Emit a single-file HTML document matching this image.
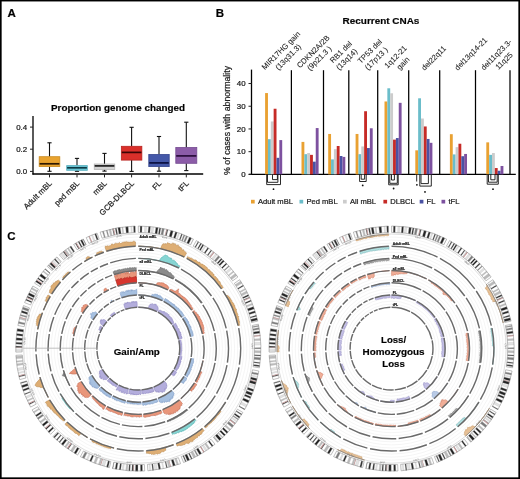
<!DOCTYPE html>
<html><head><meta charset="utf-8"><style>
html,body{margin:0;padding:0;background:#fff;}
svg{display:block;will-change:transform;filter:blur(0.35px);}
text{stroke:#1e1e1e;stroke-width:0.22px;}
svg{font-family:"Liberation Sans",sans-serif;}
</style></head><body>
<svg width="520" height="479" viewBox="0 0 520 479">
<rect width="520" height="479" fill="#fff"/>
<text x="7.50" y="16.90" font-size="11.5" font-weight="bold" text-anchor="start" fill="#000" >A</text>
<text x="215.80" y="16.90" font-size="11.5" font-weight="bold" text-anchor="start" fill="#000" >B</text>
<text x="7.20" y="240.30" font-size="11.5" font-weight="bold" text-anchor="start" fill="#000" >C</text>
<text x="118.00" y="111.00" font-size="9.85" font-weight="bold" text-anchor="middle" fill="#000" >Proportion genome changed</text>
<line x1="33.00" y1="116.10" x2="33.00" y2="174.60" stroke="#000" stroke-width="1.3" />
<line x1="32.40" y1="174.00" x2="203.20" y2="174.00" stroke="#000" stroke-width="1.3" />
<line x1="30.00" y1="127.10" x2="33.00" y2="127.10" stroke="#222" stroke-width="1" />
<text x="27.20" y="129.90" font-size="7.9" text-anchor="end" fill="#111" >0.4</text>
<line x1="30.00" y1="149.20" x2="33.00" y2="149.20" stroke="#222" stroke-width="1" />
<text x="27.20" y="152.00" font-size="7.9" text-anchor="end" fill="#111" >0.2</text>
<line x1="30.00" y1="171.40" x2="33.00" y2="171.40" stroke="#222" stroke-width="1" />
<text x="27.20" y="174.20" font-size="7.9" text-anchor="end" fill="#111" >0.0</text>
<line x1="49.50" y1="142.80" x2="49.50" y2="156.70" stroke="#111" stroke-width="1.1" />
<line x1="49.50" y1="166.60" x2="49.50" y2="171.30" stroke="#111" stroke-width="1.1" />
<line x1="47.40" y1="142.80" x2="51.60" y2="142.80" stroke="#111" stroke-width="1.1" />
<line x1="47.40" y1="171.30" x2="51.60" y2="171.30" stroke="#111" stroke-width="1.1" />
<rect x="39.20" y="156.70" width="20.60" height="9.90" fill="#E9A32F" stroke="#C98A20" stroke-width="0.8"/>
<line x1="39.60" y1="163.80" x2="59.40" y2="163.80" stroke="#2e1800" stroke-width="1.7" />
<line x1="49.50" y1="174.00" x2="49.50" y2="177.40" stroke="#222" stroke-width="1" />
<line x1="77.00" y1="158.40" x2="77.00" y2="165.60" stroke="#111" stroke-width="1.1" />
<line x1="77.00" y1="170.30" x2="77.00" y2="171.30" stroke="#111" stroke-width="1.1" />
<line x1="74.90" y1="158.40" x2="79.10" y2="158.40" stroke="#111" stroke-width="1.1" />
<line x1="74.90" y1="171.30" x2="79.10" y2="171.30" stroke="#111" stroke-width="1.1" />
<rect x="66.70" y="165.60" width="20.60" height="4.70" fill="#6CC8D8" stroke="#56AEBE" stroke-width="0.8"/>
<line x1="67.10" y1="167.80" x2="86.90" y2="167.80" stroke="#0c3a44" stroke-width="1.7" />
<line x1="77.00" y1="174.00" x2="77.00" y2="177.40" stroke="#222" stroke-width="1" />
<line x1="104.50" y1="153.40" x2="104.50" y2="164.00" stroke="#111" stroke-width="1.1" />
<line x1="104.50" y1="169.50" x2="104.50" y2="171.10" stroke="#111" stroke-width="1.1" />
<line x1="102.40" y1="153.40" x2="106.60" y2="153.40" stroke="#111" stroke-width="1.1" />
<line x1="102.40" y1="171.10" x2="106.60" y2="171.10" stroke="#111" stroke-width="1.1" />
<rect x="94.25" y="164.00" width="20.50" height="5.50" fill="#D2D2D2" stroke="#B5B5B5" stroke-width="0.8"/>
<line x1="94.65" y1="165.90" x2="114.35" y2="165.90" stroke="#1e1e1e" stroke-width="1.7" />
<line x1="104.50" y1="174.00" x2="104.50" y2="177.40" stroke="#222" stroke-width="1" />
<line x1="131.60" y1="127.30" x2="131.60" y2="146.30" stroke="#111" stroke-width="1.1" />
<line x1="131.60" y1="160.10" x2="131.60" y2="171.40" stroke="#111" stroke-width="1.1" />
<line x1="129.50" y1="127.30" x2="133.70" y2="127.30" stroke="#111" stroke-width="1.1" />
<line x1="129.50" y1="171.40" x2="133.70" y2="171.40" stroke="#111" stroke-width="1.1" />
<rect x="121.35" y="146.30" width="20.50" height="13.80" fill="#DA2F2A" stroke="#B82420" stroke-width="0.8"/>
<line x1="121.75" y1="152.40" x2="141.45" y2="152.40" stroke="#3a0505" stroke-width="1.7" />
<line x1="131.60" y1="174.00" x2="131.60" y2="177.40" stroke="#222" stroke-width="1" />
<line x1="159.00" y1="136.50" x2="159.00" y2="154.50" stroke="#111" stroke-width="1.1" />
<line x1="159.00" y1="166.60" x2="159.00" y2="171.20" stroke="#111" stroke-width="1.1" />
<line x1="156.90" y1="136.50" x2="161.10" y2="136.50" stroke="#111" stroke-width="1.1" />
<line x1="156.90" y1="171.20" x2="161.10" y2="171.20" stroke="#111" stroke-width="1.1" />
<rect x="148.80" y="154.50" width="20.40" height="12.10" fill="#4458A8" stroke="#33448E" stroke-width="0.8"/>
<line x1="149.20" y1="162.90" x2="168.80" y2="162.90" stroke="#0b1040" stroke-width="1.7" />
<line x1="159.00" y1="174.00" x2="159.00" y2="177.40" stroke="#222" stroke-width="1" />
<line x1="186.30" y1="122.20" x2="186.30" y2="147.50" stroke="#111" stroke-width="1.1" />
<line x1="186.30" y1="163.30" x2="186.30" y2="170.60" stroke="#111" stroke-width="1.1" />
<line x1="184.20" y1="122.20" x2="188.40" y2="122.20" stroke="#111" stroke-width="1.1" />
<line x1="184.20" y1="170.60" x2="188.40" y2="170.60" stroke="#111" stroke-width="1.1" />
<rect x="175.80" y="147.50" width="21.00" height="15.80" fill="#8C5CA8" stroke="#744A90" stroke-width="0.8"/>
<line x1="176.20" y1="155.90" x2="196.40" y2="155.90" stroke="#2a0c3a" stroke-width="1.7" />
<line x1="186.30" y1="174.00" x2="186.30" y2="177.40" stroke="#222" stroke-width="1" />
<text x="0" y="0" font-size="7.9" text-anchor="end" fill="#222" transform="translate(48.50,180.00) rotate(-45) translate(0,5.6)">Adult mBL</text>
<text x="0" y="0" font-size="7.9" text-anchor="end" fill="#222" transform="translate(76.00,180.00) rotate(-45) translate(0,5.6)">ped mBL</text>
<text x="0" y="0" font-size="7.9" text-anchor="end" fill="#222" transform="translate(103.50,180.00) rotate(-45) translate(0,5.6)">mBL</text>
<text x="0" y="0" font-size="7.9" text-anchor="end" fill="#222" transform="translate(130.60,180.00) rotate(-45) translate(0,5.6)">GCB-DLBCL</text>
<text x="0" y="0" font-size="7.9" text-anchor="end" fill="#222" transform="translate(158.00,180.00) rotate(-45) translate(0,5.6)">FL</text>
<text x="0" y="0" font-size="7.9" text-anchor="end" fill="#222" transform="translate(185.30,180.00) rotate(-45) translate(0,5.6)">tFL</text>
<text x="381.00" y="24.20" font-size="9.95" font-weight="bold" text-anchor="middle" fill="#000" >Recurrent CNAs</text>
<line x1="251.50" y1="69.60" x2="251.50" y2="175.00" stroke="#000" stroke-width="1.3" />
<line x1="248.80" y1="174.40" x2="515.80" y2="174.40" stroke="#000" stroke-width="1.3" />
<line x1="248.50" y1="174.40" x2="251.50" y2="174.40" stroke="#222" stroke-width="1" />
<text x="245.60" y="177.20" font-size="7.9" text-anchor="end" fill="#111" >0</text>
<line x1="248.50" y1="151.68" x2="251.50" y2="151.68" stroke="#222" stroke-width="1" />
<text x="245.60" y="154.48" font-size="7.9" text-anchor="end" fill="#111" >10</text>
<line x1="248.50" y1="128.96" x2="251.50" y2="128.96" stroke="#222" stroke-width="1" />
<text x="245.60" y="131.76" font-size="7.9" text-anchor="end" fill="#111" >20</text>
<line x1="248.50" y1="106.24" x2="251.50" y2="106.24" stroke="#222" stroke-width="1" />
<text x="245.60" y="109.04" font-size="7.9" text-anchor="end" fill="#111" >30</text>
<line x1="248.50" y1="83.52" x2="251.50" y2="83.52" stroke="#222" stroke-width="1" />
<text x="245.60" y="86.32" font-size="7.9" text-anchor="end" fill="#111" >40</text>
<text x="0" y="0" font-size="8.8" text-anchor="middle" fill="#222" transform="translate(229.6,120.4) rotate(-90)">% of cases with abnormality</text>
<line x1="291.40" y1="70.20" x2="291.40" y2="174.40" stroke="#000" stroke-width="1.25" />
<line x1="323.50" y1="70.20" x2="323.50" y2="174.40" stroke="#000" stroke-width="1.25" />
<line x1="348.80" y1="70.20" x2="348.80" y2="174.40" stroke="#000" stroke-width="1.25" />
<line x1="377.70" y1="70.20" x2="377.70" y2="174.40" stroke="#000" stroke-width="1.25" />
<line x1="408.70" y1="70.20" x2="408.70" y2="174.40" stroke="#000" stroke-width="1.25" />
<line x1="439.70" y1="70.20" x2="439.70" y2="174.40" stroke="#000" stroke-width="1.25" />
<line x1="475.50" y1="70.20" x2="475.50" y2="174.40" stroke="#000" stroke-width="1.25" />
<line x1="510.00" y1="70.20" x2="510.00" y2="174.40" stroke="#000" stroke-width="1.25" />
<rect x="265.10" y="93.06" width="2.85" height="81.34" fill="#E9A132" stroke="none" stroke-width="0"/>
<rect x="267.95" y="139.18" width="2.85" height="35.22" fill="#6BBDCA" stroke="none" stroke-width="0"/>
<rect x="270.80" y="121.46" width="2.85" height="52.94" fill="#CCCCCC" stroke="none" stroke-width="0"/>
<rect x="273.65" y="108.74" width="2.85" height="65.66" fill="#C62B27" stroke="none" stroke-width="0"/>
<rect x="276.50" y="157.81" width="2.85" height="16.59" fill="#4A52A3" stroke="none" stroke-width="0"/>
<rect x="279.35" y="140.09" width="2.85" height="34.31" fill="#7D519F" stroke="none" stroke-width="0"/>
<rect x="301.50" y="141.91" width="2.85" height="32.49" fill="#E9A132" stroke="none" stroke-width="0"/>
<rect x="304.35" y="154.18" width="2.85" height="20.22" fill="#6BBDCA" stroke="none" stroke-width="0"/>
<rect x="307.20" y="153.04" width="2.85" height="21.36" fill="#CCCCCC" stroke="none" stroke-width="0"/>
<rect x="310.05" y="154.86" width="2.85" height="19.54" fill="#C62B27" stroke="none" stroke-width="0"/>
<rect x="312.90" y="161.68" width="2.85" height="12.72" fill="#4A52A3" stroke="none" stroke-width="0"/>
<rect x="315.75" y="128.05" width="2.85" height="46.35" fill="#7D519F" stroke="none" stroke-width="0"/>
<rect x="328.20" y="133.96" width="2.85" height="40.44" fill="#E9A132" stroke="none" stroke-width="0"/>
<rect x="331.05" y="159.40" width="2.85" height="15.00" fill="#6BBDCA" stroke="none" stroke-width="0"/>
<rect x="333.90" y="149.18" width="2.85" height="25.22" fill="#CCCCCC" stroke="none" stroke-width="0"/>
<rect x="336.75" y="146.00" width="2.85" height="28.40" fill="#C62B27" stroke="none" stroke-width="0"/>
<rect x="339.60" y="156.00" width="2.85" height="18.40" fill="#4A52A3" stroke="none" stroke-width="0"/>
<rect x="342.45" y="156.91" width="2.85" height="17.49" fill="#7D519F" stroke="none" stroke-width="0"/>
<rect x="355.60" y="133.96" width="2.85" height="40.44" fill="#E9A132" stroke="none" stroke-width="0"/>
<rect x="358.45" y="154.18" width="2.85" height="20.22" fill="#6BBDCA" stroke="none" stroke-width="0"/>
<rect x="361.30" y="146.45" width="2.85" height="27.95" fill="#CCCCCC" stroke="none" stroke-width="0"/>
<rect x="364.15" y="111.24" width="2.85" height="63.16" fill="#C62B27" stroke="none" stroke-width="0"/>
<rect x="367.00" y="148.04" width="2.85" height="26.36" fill="#4A52A3" stroke="none" stroke-width="0"/>
<rect x="369.85" y="128.28" width="2.85" height="46.12" fill="#7D519F" stroke="none" stroke-width="0"/>
<rect x="384.50" y="101.47" width="2.85" height="72.93" fill="#E9A132" stroke="none" stroke-width="0"/>
<rect x="387.35" y="88.29" width="2.85" height="86.11" fill="#6BBDCA" stroke="none" stroke-width="0"/>
<rect x="390.20" y="93.29" width="2.85" height="81.11" fill="#CCCCCC" stroke="none" stroke-width="0"/>
<rect x="393.05" y="139.64" width="2.85" height="34.76" fill="#C62B27" stroke="none" stroke-width="0"/>
<rect x="395.90" y="138.05" width="2.85" height="36.35" fill="#4A52A3" stroke="none" stroke-width="0"/>
<rect x="398.75" y="102.83" width="2.85" height="71.57" fill="#7D519F" stroke="none" stroke-width="0"/>
<rect x="415.30" y="150.32" width="2.85" height="24.08" fill="#E9A132" stroke="none" stroke-width="0"/>
<rect x="418.15" y="98.29" width="2.85" height="76.11" fill="#6BBDCA" stroke="none" stroke-width="0"/>
<rect x="421.00" y="118.51" width="2.85" height="55.89" fill="#CCCCCC" stroke="none" stroke-width="0"/>
<rect x="423.85" y="126.46" width="2.85" height="47.94" fill="#C62B27" stroke="none" stroke-width="0"/>
<rect x="426.70" y="138.96" width="2.85" height="35.44" fill="#4A52A3" stroke="none" stroke-width="0"/>
<rect x="429.55" y="142.82" width="2.85" height="31.58" fill="#7D519F" stroke="none" stroke-width="0"/>
<rect x="449.90" y="134.19" width="2.85" height="40.21" fill="#E9A132" stroke="none" stroke-width="0"/>
<rect x="452.75" y="154.41" width="2.85" height="19.99" fill="#6BBDCA" stroke="none" stroke-width="0"/>
<rect x="455.60" y="147.14" width="2.85" height="27.26" fill="#CCCCCC" stroke="none" stroke-width="0"/>
<rect x="458.45" y="143.73" width="2.85" height="30.67" fill="#C62B27" stroke="none" stroke-width="0"/>
<rect x="461.30" y="156.22" width="2.85" height="18.18" fill="#4A52A3" stroke="none" stroke-width="0"/>
<rect x="464.15" y="153.95" width="2.85" height="20.45" fill="#7D519F" stroke="none" stroke-width="0"/>
<rect x="486.30" y="142.36" width="2.85" height="32.04" fill="#E9A132" stroke="none" stroke-width="0"/>
<rect x="489.15" y="154.86" width="2.85" height="19.54" fill="#6BBDCA" stroke="none" stroke-width="0"/>
<rect x="492.00" y="153.04" width="2.85" height="21.36" fill="#CCCCCC" stroke="none" stroke-width="0"/>
<rect x="494.85" y="168.04" width="2.85" height="6.36" fill="#C62B27" stroke="none" stroke-width="0"/>
<rect x="497.70" y="170.76" width="2.85" height="3.64" fill="#4A52A3" stroke="none" stroke-width="0"/>
<rect x="500.55" y="165.99" width="2.85" height="8.41" fill="#7D519F" stroke="none" stroke-width="0"/>
<path d="M266.70,174.4 V184.60 H280.50 V174.4" fill="none" stroke="#111" stroke-width="0.9"/>
<path d="M267.50,174.4 V182.30 H277.90 V174.4" fill="none" stroke="#111" stroke-width="0.9"/>
<path d="M272.50,174.4 V179.60 H277.40 V174.4" fill="none" stroke="#111" stroke-width="0.9"/>
<circle cx="273.50" cy="189.20" r="0.9" fill="#111"/>
<path d="M359.60,174.4 V181.50 H366.20 V174.4" fill="none" stroke="#111" stroke-width="0.9"/>
<path d="M361.20,174.4 V179.20 H364.60 V174.4" fill="none" stroke="#111" stroke-width="0.9"/>
<circle cx="362.70" cy="185.40" r="0.9" fill="#111"/>
<path d="M388.70,174.4 V184.80 H398.20 V174.4" fill="none" stroke="#111" stroke-width="0.9"/>
<path d="M389.80,174.4 V183.30 H397.30 V174.4" fill="none" stroke="#111" stroke-width="0.9"/>
<path d="M391.50,174.4 V180.00 H394.40 V174.4" fill="none" stroke="#111" stroke-width="0.9"/>
<circle cx="393.60" cy="188.50" r="0.9" fill="#111"/>
<line x1="416.70" y1="174.40" x2="416.70" y2="181.50" stroke="#111" stroke-width="0.9" />
<path d="M419.80,174.4 V186.10 H431.30 V174.4" fill="none" stroke="#111" stroke-width="0.9"/>
<path d="M421.00,174.4 V183.60 H428.40 V174.4" fill="none" stroke="#111" stroke-width="0.9"/>
<circle cx="416.90" cy="184.80" r="0.9" fill="#111"/>
<circle cx="425.00" cy="191.90" r="0.9" fill="#111"/>
<path d="M487.20,174.4 V184.20 H498.30 V174.4" fill="none" stroke="#111" stroke-width="0.9"/>
<path d="M488.50,174.4 V182.20 H497.20 V174.4" fill="none" stroke="#111" stroke-width="0.9"/>
<path d="M490.80,174.4 V179.80 H495.00 V174.4" fill="none" stroke="#111" stroke-width="0.9"/>
<circle cx="493.00" cy="189.20" r="0.9" fill="#111"/>
<rect x="251.00" y="199.80" width="3.70" height="3.70" fill="#E9A132" stroke="none" stroke-width="0"/>
<text x="257.90" y="203.90" font-size="7.6" text-anchor="start" fill="#222" >Adult mBL</text>
<rect x="299.50" y="199.80" width="3.70" height="3.70" fill="#6BBDCA" stroke="none" stroke-width="0"/>
<text x="306.40" y="203.90" font-size="7.6" text-anchor="start" fill="#222" >Ped mBL</text>
<rect x="343.00" y="199.80" width="3.70" height="3.70" fill="#CCCCCC" stroke="none" stroke-width="0"/>
<text x="349.90" y="203.90" font-size="7.6" text-anchor="start" fill="#222" >All mBL</text>
<rect x="383.40" y="199.80" width="3.70" height="3.70" fill="#C62B27" stroke="none" stroke-width="0"/>
<text x="390.30" y="203.90" font-size="7.6" text-anchor="start" fill="#222" >DLBCL</text>
<rect x="419.70" y="199.80" width="3.70" height="3.70" fill="#4A52A3" stroke="none" stroke-width="0"/>
<text x="426.60" y="203.90" font-size="7.6" text-anchor="start" fill="#222" >FL</text>
<rect x="441.50" y="199.80" width="3.70" height="3.70" fill="#7D519F" stroke="none" stroke-width="0"/>
<text x="448.40" y="203.90" font-size="7.6" text-anchor="start" fill="#222" >tFL</text>
<text x="0" y="0" font-size="7.7" text-anchor="middle" fill="#222" style="stroke-width:0.08px" transform="translate(280.75,50.40) rotate(-45) translate(0,2.8)">MIR17HG gain</text>
<text x="0" y="0" font-size="7.7" text-anchor="middle" fill="#222" style="stroke-width:0.08px" transform="translate(288.05,56.90) rotate(-45) translate(0,2.8)">(13q31.3)</text>
<text x="0" y="0" font-size="7.7" text-anchor="middle" fill="#222" style="stroke-width:0.08px" transform="translate(313.05,51.50) rotate(-45) translate(0,2.8)">CDKN2A/2B</text>
<text x="0" y="0" font-size="7.7" text-anchor="middle" fill="#222" style="stroke-width:0.08px" transform="translate(319.20,58.05) rotate(-45) translate(0,2.8)">(9p21.3 )</text>
<text x="0" y="0" font-size="7.7" text-anchor="middle" fill="#222" style="stroke-width:0.08px" transform="translate(340.75,51.95) rotate(-45) translate(0,2.8)">RB1 del</text>
<text x="0" y="0" font-size="7.7" text-anchor="middle" fill="#222" style="stroke-width:0.08px" transform="translate(346.55,59.20) rotate(-45) translate(0,2.8)">(13q14)</text>
<text x="0" y="0" font-size="7.7" text-anchor="middle" fill="#222" style="stroke-width:0.08px" transform="translate(369.65,51.15) rotate(-45) translate(0,2.8)">TP53 del</text>
<text x="0" y="0" font-size="7.7" text-anchor="middle" fill="#222" style="stroke-width:0.08px" transform="translate(376.15,58.45) rotate(-45) translate(0,2.8)">(17p13 )</text>
<text x="0" y="0" font-size="7.7" text-anchor="middle" fill="#222" style="stroke-width:0.08px" transform="translate(395.40,56.75) rotate(-45) translate(0,2.8)">1q12-21</text>
<text x="0" y="0" font-size="7.7" text-anchor="middle" fill="#222" style="stroke-width:0.08px" transform="translate(402.90,63.05) rotate(-45) translate(0,2.8)">gain</text>
<text x="0" y="0" font-size="7.7" text-anchor="middle" fill="#222" style="stroke-width:0.08px" transform="translate(433.45,58.05) rotate(-45) translate(0,2.8)">del22q11</text>
<text x="0" y="0" font-size="7.7" text-anchor="middle" fill="#222" style="stroke-width:0.08px" transform="translate(470.80,53.80) rotate(-45) translate(0,2.8)">del13q14-21</text>
<text x="0" y="0" font-size="7.7" text-anchor="middle" fill="#222" style="stroke-width:0.08px" transform="translate(496.15,54.60) rotate(-45) translate(0,2.8)">del11q23.3-</text>
<text x="0" y="0" font-size="7.7" text-anchor="middle" fill="#222" style="stroke-width:0.08px" transform="translate(503.85,60.75) rotate(-45) translate(0,2.8)">11q25</text>
<defs><g id="ideo">
<circle r="105.4" fill="none" stroke="#ececec" stroke-width="0.55"/>
<circle r="108.5" fill="none" stroke="#ececec" stroke-width="0.55"/>
<circle r="111.6" fill="none" stroke="#ececec" stroke-width="0.55"/>
<circle r="93.2" fill="none" stroke="#ececec" stroke-width="0.55"/>
<circle r="96.3" fill="none" stroke="#ececec" stroke-width="0.55"/>
<circle r="99.4" fill="none" stroke="#ececec" stroke-width="0.55"/>
<circle r="81.0" fill="none" stroke="#ececec" stroke-width="0.55"/>
<circle r="84.1" fill="none" stroke="#ececec" stroke-width="0.55"/>
<circle r="87.2" fill="none" stroke="#ececec" stroke-width="0.55"/>
<circle r="68.8" fill="none" stroke="#ececec" stroke-width="0.55"/>
<circle r="71.9" fill="none" stroke="#ececec" stroke-width="0.55"/>
<circle r="75.0" fill="none" stroke="#ececec" stroke-width="0.55"/>
<circle r="56.6" fill="none" stroke="#ececec" stroke-width="0.55"/>
<circle r="59.7" fill="none" stroke="#ececec" stroke-width="0.55"/>
<circle r="62.8" fill="none" stroke="#ececec" stroke-width="0.55"/>
<circle r="44.4" fill="none" stroke="#ececec" stroke-width="0.55"/>
<circle r="47.5" fill="none" stroke="#ececec" stroke-width="0.55"/>
<circle r="50.6" fill="none" stroke="#ececec" stroke-width="0.55"/>
<circle r="114.6" fill="none" stroke="#c4c4c4" stroke-width="0.6"/>
</g><g id="dark">
<path d="M0.0,-102.4 A102.4,102.4 0 0 1 46.0,-91.5 M48.4,-90.2 A102.4,102.4 0 0 1 83.2,-59.8 M84.7,-57.6 A102.4,102.4 0 0 1 99.8,-23.0 M100.4,-20.4 A102.4,102.4 0 0 1 101.1,16.0 M100.7,18.7 A102.4,102.4 0 0 1 88.8,51.1 M87.4,53.4 A102.4,102.4 0 0 1 66.2,78.2 M64.1,79.9 A102.4,102.4 0 0 1 37.8,95.1 M35.3,96.1 A102.4,102.4 0 0 1 8.0,102.1 M5.4,102.3 A102.4,102.4 0 0 1 -21.5,100.1 M-24.2,99.5 A102.4,102.4 0 0 1 -48.3,90.3 M-50.7,89.0 A102.4,102.4 0 0 1 -71.3,73.5 M-73.2,71.6 A102.4,102.4 0 0 1 -88.7,51.2 M-90.0,48.9 A102.4,102.4 0 0 1 -98.4,28.5 M-99.1,25.9 A102.4,102.4 0 0 1 -102.2,5.6 M-102.4,2.9 A102.4,102.4 0 0 1 -101.0,-16.6 M-100.6,-19.3 A102.4,102.4 0 0 1 -95.9,-35.9 M-94.9,-38.4 A102.4,102.4 0 0 1 -88.0,-52.3 M-86.6,-54.6 A102.4,102.4 0 0 1 -77.7,-66.6 M-76.0,-68.7 A102.4,102.4 0 0 1 -67.9,-76.6 M-65.9,-78.4 A102.4,102.4 0 0 1 -56.2,-85.6 M-54.0,-87.0 A102.4,102.4 0 0 1 -45.9,-91.5 M-43.5,-92.7 A102.4,102.4 0 0 1 -34.4,-96.4 M-31.9,-97.3 A102.4,102.4 0 0 1 -2.7,-102.4 M0.0,-90.2 A90.2,90.2 0 0 1 40.6,-80.6 M42.7,-79.5 A90.2,90.2 0 0 1 73.2,-52.6 M74.6,-50.7 A90.2,90.2 0 0 1 87.9,-20.3 M88.4,-17.9 A90.2,90.2 0 0 1 89.1,14.1 M88.7,16.5 A90.2,90.2 0 0 1 78.2,45.0 M77.0,47.0 A90.2,90.2 0 0 1 58.3,68.8 M56.5,70.3 A90.2,90.2 0 0 1 33.3,83.8 M31.1,84.7 A90.2,90.2 0 0 1 7.1,89.9 M4.7,90.1 A90.2,90.2 0 0 1 -19.0,88.2 M-21.3,87.7 A90.2,90.2 0 0 1 -42.6,79.5 M-44.6,78.4 A90.2,90.2 0 0 1 -62.8,64.7 M-64.5,63.1 A90.2,90.2 0 0 1 -78.1,45.1 M-79.3,43.1 A90.2,90.2 0 0 1 -86.6,25.1 M-87.3,22.8 A90.2,90.2 0 0 1 -90.1,5.0 M-90.2,2.6 A90.2,90.2 0 0 1 -89.0,-14.6 M-88.6,-17.0 A90.2,90.2 0 0 1 -84.5,-31.6 M-83.6,-33.8 A90.2,90.2 0 0 1 -77.5,-46.1 M-76.3,-48.1 A90.2,90.2 0 0 1 -68.5,-58.7 M-66.9,-60.5 A90.2,90.2 0 0 1 -59.8,-67.5 M-58.1,-69.0 A90.2,90.2 0 0 1 -49.5,-75.4 M-47.5,-76.7 A90.2,90.2 0 0 1 -40.5,-80.6 M-38.3,-81.6 A90.2,90.2 0 0 1 -30.3,-84.9 M-28.1,-85.7 A90.2,90.2 0 0 1 -2.4,-90.2 M0.0,-78.0 A78.0,78.0 0 0 1 35.1,-69.7 M36.9,-68.7 A78.0,78.0 0 0 1 63.3,-45.5 M64.5,-43.8 A78.0,78.0 0 0 1 76.0,-17.5 M76.4,-15.5 A78.0,78.0 0 0 1 77.0,12.2 M76.7,14.2 A78.0,78.0 0 0 1 67.6,38.9 M66.6,40.6 A78.0,78.0 0 0 1 50.4,59.5 M48.8,60.8 A78.0,78.0 0 0 1 28.8,72.5 M26.9,73.2 A78.0,78.0 0 0 1 6.1,77.8 M4.1,77.9 A78.0,78.0 0 0 1 -16.4,76.3 M-18.4,75.8 A78.0,78.0 0 0 1 -36.8,68.8 M-38.6,67.8 A78.0,78.0 0 0 1 -54.3,56.0 M-55.8,54.5 A78.0,78.0 0 0 1 -67.5,39.0 M-68.5,37.2 A78.0,78.0 0 0 1 -74.9,21.7 M-75.5,19.7 A78.0,78.0 0 0 1 -77.9,4.3 M-78.0,2.2 A78.0,78.0 0 0 1 -77.0,-12.7 M-76.6,-14.7 A78.0,78.0 0 0 1 -73.0,-27.3 M-72.3,-29.3 A78.0,78.0 0 0 1 -67.0,-39.9 M-66.0,-41.6 A78.0,78.0 0 0 1 -59.2,-50.8 M-57.9,-52.3 A78.0,78.0 0 0 1 -51.7,-58.4 M-50.2,-59.7 A78.0,78.0 0 0 1 -42.8,-65.2 M-41.1,-66.3 A78.0,78.0 0 0 1 -35.0,-69.7 M-33.1,-70.6 A78.0,78.0 0 0 1 -26.2,-73.5 M-24.3,-74.1 A78.0,78.0 0 0 1 -2.0,-78.0 M0.0,-65.8 A65.8,65.8 0 0 1 29.6,-58.8 M31.1,-58.0 A65.8,65.8 0 0 1 53.4,-38.4 M54.4,-37.0 A65.8,65.8 0 0 1 64.1,-14.8 M64.5,-13.1 A65.8,65.8 0 0 1 65.0,10.3 M64.7,12.0 A65.8,65.8 0 0 1 57.0,32.8 M56.2,34.3 A65.8,65.8 0 0 1 42.5,50.2 M41.2,51.3 A65.8,65.8 0 0 1 24.3,61.1 M22.7,61.8 A65.8,65.8 0 0 1 5.2,65.6 M3.4,65.7 A65.8,65.8 0 0 1 -13.8,64.3 M-15.5,63.9 A65.8,65.8 0 0 1 -31.1,58.0 M-32.6,57.2 A65.8,65.8 0 0 1 -45.8,47.2 M-47.0,46.0 A65.8,65.8 0 0 1 -57.0,32.9 M-57.8,31.4 A65.8,65.8 0 0 1 -63.2,18.3 M-63.7,16.7 A65.8,65.8 0 0 1 -65.7,3.6 M-65.8,1.9 A65.8,65.8 0 0 1 -64.9,-10.7 M-64.6,-12.4 A65.8,65.8 0 0 1 -61.6,-23.1 M-61.0,-24.7 A65.8,65.8 0 0 1 -56.6,-33.6 M-55.7,-35.1 A65.8,65.8 0 0 1 -50.0,-42.8 M-48.8,-44.1 A65.8,65.8 0 0 1 -43.7,-49.2 M-42.3,-50.4 A65.8,65.8 0 0 1 -36.1,-55.0 M-34.7,-55.9 A65.8,65.8 0 0 1 -29.5,-58.8 M-28.0,-59.6 A65.8,65.8 0 0 1 -22.1,-62.0 M-20.5,-62.5 A65.8,65.8 0 0 1 -1.7,-65.8 M0.0,-53.6 A53.6,53.6 0 0 1 24.1,-47.9 M25.3,-47.2 A53.6,53.6 0 0 1 43.5,-31.3 M44.3,-30.1 A53.6,53.6 0 0 1 52.2,-12.0 M52.5,-10.7 A53.6,53.6 0 0 1 52.9,8.4 M52.7,9.8 A53.6,53.6 0 0 1 46.5,26.7 M45.7,27.9 A53.6,53.6 0 0 1 34.6,40.9 M33.5,41.8 A53.6,53.6 0 0 1 19.8,49.8 M18.5,50.3 A53.6,53.6 0 0 1 4.2,53.4 M2.8,53.5 A53.6,53.6 0 0 1 -11.3,52.4 M-12.6,52.1 A53.6,53.6 0 0 1 -25.3,47.3 M-26.5,46.6 A53.6,53.6 0 0 1 -37.3,38.5 M-38.3,37.5 A53.6,53.6 0 0 1 -46.4,26.8 M-47.1,25.6 A53.6,53.6 0 0 1 -51.5,14.9 M-51.9,13.6 A53.6,53.6 0 0 1 -53.5,2.9 M-53.6,1.5 A53.6,53.6 0 0 1 -52.9,-8.7 M-52.6,-10.1 A53.6,53.6 0 0 1 -50.2,-18.8 M-49.7,-20.1 A53.6,53.6 0 0 1 -46.1,-27.4 M-45.3,-28.6 A53.6,53.6 0 0 1 -40.7,-34.9 M-39.8,-35.9 A53.6,53.6 0 0 1 -35.6,-40.1 M-34.5,-41.0 A53.6,53.6 0 0 1 -29.4,-44.8 M-28.2,-45.6 A53.6,53.6 0 0 1 -24.0,-47.9 M-22.8,-48.5 A53.6,53.6 0 0 1 -18.0,-50.5 M-16.7,-50.9 A53.6,53.6 0 0 1 -1.4,-53.6 M0.0,-41.4 A41.4,41.4 0 0 1 18.6,-37.0 M19.6,-36.5 A41.4,41.4 0 0 1 33.6,-24.2 M34.2,-23.3 A41.4,41.4 0 0 1 40.3,-9.3 M40.6,-8.2 A41.4,41.4 0 0 1 40.9,6.5 M40.7,7.6 A41.4,41.4 0 0 1 35.9,20.6 M35.3,21.6 A41.4,41.4 0 0 1 26.7,31.6 M25.9,32.3 A41.4,41.4 0 0 1 15.3,38.5 M14.3,38.9 A41.4,41.4 0 0 1 3.2,41.3 M2.2,41.3 A41.4,41.4 0 0 1 -8.7,40.5 M-9.8,40.2 A41.4,41.4 0 0 1 -19.5,36.5 M-20.5,36.0 A41.4,41.4 0 0 1 -28.8,29.7 M-29.6,28.9 A41.4,41.4 0 0 1 -35.9,20.7 M-36.4,19.8 A41.4,41.4 0 0 1 -39.8,11.5 M-40.1,10.5 A41.4,41.4 0 0 1 -41.3,2.3 M-41.4,1.2 A41.4,41.4 0 0 1 -40.9,-6.7 M-40.7,-7.8 A41.4,41.4 0 0 1 -38.8,-14.5 M-38.4,-15.5 A41.4,41.4 0 0 1 -35.6,-21.2 M-35.0,-22.1 A41.4,41.4 0 0 1 -31.4,-26.9 M-30.7,-27.8 A41.4,41.4 0 0 1 -27.5,-31.0 M-26.6,-31.7 A41.4,41.4 0 0 1 -22.7,-34.6 M-21.8,-35.2 A41.4,41.4 0 0 1 -18.6,-37.0 M-17.6,-37.5 A41.4,41.4 0 0 1 -13.9,-39.0 M-12.9,-39.3 A41.4,41.4 0 0 1 -1.1,-41.4" fill="none" stroke="#6a6a6a" stroke-width="1.45"/>
</g><g id="bands">
<path d="M1.8,-122.6 A122.6,122.6 0 0 1 3.8,-122.5 L3.6,-116.1 A116.2,116.2 0 0 0 1.7,-116.2 Z" fill="#222222"/>
<line x1="1.7" y1="-116.2" x2="1.8" y2="-122.6" stroke="#c8c8c8" stroke-width="0.4"/>
<line x1="3.6" y1="-116.1" x2="3.8" y2="-122.5" stroke="#c8c8c8" stroke-width="0.4"/>
<path d="M6.4,-122.4 A122.6,122.6 0 0 1 8.3,-122.3 L7.8,-115.9 A116.2,116.2 0 0 0 6.1,-116.0 Z" fill="#e2e2e2"/>
<line x1="6.1" y1="-116.0" x2="6.4" y2="-122.4" stroke="#c8c8c8" stroke-width="0.4"/>
<line x1="7.8" y1="-115.9" x2="8.3" y2="-122.3" stroke="#c8c8c8" stroke-width="0.4"/>
<path d="M10.2,-122.2 A122.6,122.6 0 0 1 12.2,-122.0 L11.6,-115.6 A116.2,116.2 0 0 0 9.6,-115.8 Z" fill="#222222"/>
<line x1="9.6" y1="-115.8" x2="10.2" y2="-122.2" stroke="#c8c8c8" stroke-width="0.4"/>
<line x1="11.6" y1="-115.6" x2="12.2" y2="-122.0" stroke="#c8c8c8" stroke-width="0.4"/>
<path d="M13.5,-121.9 A122.6,122.6 0 0 1 15.4,-121.6 L14.6,-115.3 A116.2,116.2 0 0 0 12.8,-115.5 Z" fill="#e2e2e2"/>
<line x1="12.8" y1="-115.5" x2="13.5" y2="-121.9" stroke="#c8c8c8" stroke-width="0.4"/>
<line x1="14.6" y1="-115.3" x2="15.4" y2="-121.6" stroke="#c8c8c8" stroke-width="0.4"/>
<path d="M17.5,-121.3 A122.6,122.6 0 0 1 19.9,-121.0 L18.9,-114.7 A116.2,116.2 0 0 0 16.6,-115.0 Z" fill="#222222"/>
<line x1="16.6" y1="-115.0" x2="17.5" y2="-121.3" stroke="#c8c8c8" stroke-width="0.4"/>
<line x1="18.9" y1="-114.7" x2="19.9" y2="-121.0" stroke="#c8c8c8" stroke-width="0.4"/>
<path d="M21.1,-120.8 A122.6,122.6 0 0 1 22.6,-120.5 L21.4,-114.2 A116.2,116.2 0 0 0 20.0,-114.5 Z" fill="#222222"/>
<line x1="20.0" y1="-114.5" x2="21.1" y2="-120.8" stroke="#c8c8c8" stroke-width="0.4"/>
<line x1="21.4" y1="-114.2" x2="22.6" y2="-120.5" stroke="#c8c8c8" stroke-width="0.4"/>
<path d="M23.8,-120.3 A122.6,122.6 0 0 1 26.1,-119.8 L24.8,-113.5 A116.2,116.2 0 0 0 22.5,-114.0 Z" fill="#7a7a7a"/>
<line x1="22.5" y1="-114.0" x2="23.8" y2="-120.3" stroke="#c8c8c8" stroke-width="0.4"/>
<line x1="24.8" y1="-113.5" x2="26.1" y2="-119.8" stroke="#c8c8c8" stroke-width="0.4"/>
<path d="M28.1,-119.3 A122.6,122.6 0 0 1 28.7,-119.2 L27.2,-113.0 A116.2,116.2 0 0 0 26.7,-113.1 Z" fill="#b84a4a"/>
<line x1="26.7" y1="-113.1" x2="28.1" y2="-119.3" stroke="#c8c8c8" stroke-width="0.4"/>
<path d="M28.7,-119.2 A122.6,122.6 0 0 1 29.8,-118.9 L28.2,-112.7 A116.2,116.2 0 0 0 27.2,-113.0 Z" fill="#222222"/>
<line x1="27.2" y1="-113.0" x2="28.7" y2="-119.2" stroke="#c8c8c8" stroke-width="0.4"/>
<line x1="28.2" y1="-112.7" x2="29.8" y2="-118.9" stroke="#c8c8c8" stroke-width="0.4"/>
<path d="M32.4,-118.2 A122.6,122.6 0 0 1 35.0,-117.5 L33.2,-111.4 A116.2,116.2 0 0 0 30.7,-112.1 Z" fill="#222222"/>
<line x1="30.7" y1="-112.1" x2="32.4" y2="-118.2" stroke="#c8c8c8" stroke-width="0.4"/>
<line x1="33.2" y1="-111.4" x2="35.0" y2="-117.5" stroke="#c8c8c8" stroke-width="0.4"/>
<path d="M37.1,-116.9 A122.6,122.6 0 0 1 39.0,-116.2 L37.0,-110.1 A116.2,116.2 0 0 0 35.1,-110.8 Z" fill="#222222"/>
<line x1="35.1" y1="-110.8" x2="37.1" y2="-116.9" stroke="#c8c8c8" stroke-width="0.4"/>
<line x1="37.0" y1="-110.1" x2="39.0" y2="-116.2" stroke="#c8c8c8" stroke-width="0.4"/>
<path d="M40.3,-115.8 A122.6,122.6 0 0 1 41.3,-115.4 L39.1,-109.4 A116.2,116.2 0 0 0 38.2,-109.7 Z" fill="#e2e2e2"/>
<line x1="38.2" y1="-109.7" x2="40.3" y2="-115.8" stroke="#c8c8c8" stroke-width="0.4"/>
<line x1="39.1" y1="-109.4" x2="41.3" y2="-115.4" stroke="#c8c8c8" stroke-width="0.4"/>
<path d="M43.1,-114.8 A122.6,122.6 0 0 1 44.2,-114.4 L41.9,-108.4 A116.2,116.2 0 0 0 40.9,-108.8 Z" fill="#222222"/>
<line x1="40.9" y1="-108.8" x2="43.1" y2="-114.8" stroke="#c8c8c8" stroke-width="0.4"/>
<line x1="41.9" y1="-108.4" x2="44.2" y2="-114.4" stroke="#c8c8c8" stroke-width="0.4"/>
<path d="M45.4,-113.9 A122.6,122.6 0 0 1 46.8,-113.3 L44.3,-107.4 A116.2,116.2 0 0 0 43.1,-107.9 Z" fill="#7a7a7a"/>
<line x1="43.1" y1="-107.9" x2="45.4" y2="-113.9" stroke="#c8c8c8" stroke-width="0.4"/>
<line x1="44.3" y1="-107.4" x2="46.8" y2="-113.3" stroke="#c8c8c8" stroke-width="0.4"/>
<path d="M47.8,-112.9 A122.6,122.6 0 0 1 49.5,-112.2 L46.9,-106.3 A116.2,116.2 0 0 0 45.3,-107.0 Z" fill="#7a7a7a"/>
<line x1="45.3" y1="-107.0" x2="47.8" y2="-112.9" stroke="#c8c8c8" stroke-width="0.4"/>
<line x1="46.9" y1="-106.3" x2="49.5" y2="-112.2" stroke="#c8c8c8" stroke-width="0.4"/>
<path d="M51.1,-111.5 A122.6,122.6 0 0 1 53.3,-110.4 L50.5,-104.6 A116.2,116.2 0 0 0 48.4,-105.6 Z" fill="#222222"/>
<line x1="48.4" y1="-105.6" x2="51.1" y2="-111.5" stroke="#c8c8c8" stroke-width="0.4"/>
<line x1="50.5" y1="-104.6" x2="53.3" y2="-110.4" stroke="#c8c8c8" stroke-width="0.4"/>
<path d="M55.1,-109.5 A122.6,122.6 0 0 1 55.1,-109.5 L52.3,-103.8 A116.2,116.2 0 0 0 52.2,-103.8 Z" fill="#b9b9b9"/>
<line x1="52.2" y1="-103.8" x2="55.1" y2="-109.5" stroke="#c8c8c8" stroke-width="0.4"/>
<path d="M0.0,-122.6 A122.6,122.6 0 0 1 55.1,-109.5 L52.3,-103.8 A116.2,116.2 0 0 0 0.0,-116.2 Z" fill="none" stroke="#8a8a8a" stroke-width="0.55"/>
<text x="0" y="0" font-size="2.8" fill="#777" text-anchor="middle" style="stroke-width:0" transform="translate(26.2,-110.1) rotate(13.4)">chr1</text>
<path d="M59.7,-107.1 A122.6,122.6 0 0 1 60.6,-106.6 L57.4,-101.0 A116.2,116.2 0 0 0 56.5,-101.5 Z" fill="#222222"/>
<line x1="56.5" y1="-101.5" x2="59.7" y2="-107.1" stroke="#c8c8c8" stroke-width="0.4"/>
<line x1="57.4" y1="-101.0" x2="60.6" y2="-106.6" stroke="#c8c8c8" stroke-width="0.4"/>
<path d="M62.3,-105.6 A122.6,122.6 0 0 1 63.4,-104.9 L60.1,-99.5 A116.2,116.2 0 0 0 59.1,-100.1 Z" fill="#222222"/>
<line x1="59.1" y1="-100.1" x2="62.3" y2="-105.6" stroke="#c8c8c8" stroke-width="0.4"/>
<line x1="60.1" y1="-99.5" x2="63.4" y2="-104.9" stroke="#c8c8c8" stroke-width="0.4"/>
<path d="M64.4,-104.3 A122.6,122.6 0 0 1 65.7,-103.5 L62.3,-98.1 A116.2,116.2 0 0 0 61.1,-98.9 Z" fill="#222222"/>
<line x1="61.1" y1="-98.9" x2="64.4" y2="-104.3" stroke="#c8c8c8" stroke-width="0.4"/>
<line x1="62.3" y1="-98.1" x2="65.7" y2="-103.5" stroke="#c8c8c8" stroke-width="0.4"/>
<path d="M66.7,-102.9 A122.6,122.6 0 0 1 67.6,-102.3 L64.0,-97.0 A116.2,116.2 0 0 0 63.2,-97.5 Z" fill="#e2e2e2"/>
<line x1="63.2" y1="-97.5" x2="66.7" y2="-102.9" stroke="#c8c8c8" stroke-width="0.4"/>
<line x1="64.0" y1="-97.0" x2="67.6" y2="-102.3" stroke="#c8c8c8" stroke-width="0.4"/>
<path d="M69.4,-101.1 A122.6,122.6 0 0 1 70.6,-100.3 L66.9,-95.0 A116.2,116.2 0 0 0 65.8,-95.8 Z" fill="#222222"/>
<line x1="65.8" y1="-95.8" x2="69.4" y2="-101.1" stroke="#c8c8c8" stroke-width="0.4"/>
<line x1="66.9" y1="-95.0" x2="70.6" y2="-100.3" stroke="#c8c8c8" stroke-width="0.4"/>
<path d="M72.7,-98.7 A122.6,122.6 0 0 1 73.6,-98.1 L69.7,-92.9 A116.2,116.2 0 0 0 68.9,-93.6 Z" fill="#222222"/>
<line x1="68.9" y1="-93.6" x2="72.7" y2="-98.7" stroke="#c8c8c8" stroke-width="0.4"/>
<line x1="69.7" y1="-92.9" x2="73.6" y2="-98.1" stroke="#c8c8c8" stroke-width="0.4"/>
<path d="M74.9,-97.0 A122.6,122.6 0 0 1 75.6,-96.5 L71.7,-91.5 A116.2,116.2 0 0 0 71.0,-92.0 Z" fill="#b9b9b9"/>
<line x1="71.0" y1="-92.0" x2="74.9" y2="-97.0" stroke="#c8c8c8" stroke-width="0.4"/>
<path d="M75.6,-96.5 A122.6,122.6 0 0 1 76.1,-96.1 L72.1,-91.1 A116.2,116.2 0 0 0 71.7,-91.5 Z" fill="#b84a4a"/>
<line x1="71.7" y1="-91.5" x2="75.6" y2="-96.5" stroke="#c8c8c8" stroke-width="0.4"/>
<line x1="72.1" y1="-91.1" x2="76.1" y2="-96.1" stroke="#c8c8c8" stroke-width="0.4"/>
<path d="M77.5,-95.0 A122.6,122.6 0 0 1 79.0,-93.8 L74.9,-88.9 A116.2,116.2 0 0 0 73.4,-90.1 Z" fill="#e2e2e2"/>
<line x1="73.4" y1="-90.1" x2="77.5" y2="-95.0" stroke="#c8c8c8" stroke-width="0.4"/>
<line x1="74.9" y1="-88.9" x2="79.0" y2="-93.8" stroke="#c8c8c8" stroke-width="0.4"/>
<path d="M80.0,-92.9 A122.6,122.6 0 0 1 81.7,-91.4 L77.4,-86.6 A116.2,116.2 0 0 0 75.9,-88.0 Z" fill="#7a7a7a"/>
<line x1="75.9" y1="-88.0" x2="80.0" y2="-92.9" stroke="#c8c8c8" stroke-width="0.4"/>
<line x1="77.4" y1="-86.6" x2="81.7" y2="-91.4" stroke="#c8c8c8" stroke-width="0.4"/>
<path d="M82.9,-90.3 A122.6,122.6 0 0 1 84.0,-89.3 L79.7,-84.6 A116.2,116.2 0 0 0 78.6,-85.6 Z" fill="#222222"/>
<line x1="78.6" y1="-85.6" x2="82.9" y2="-90.3" stroke="#c8c8c8" stroke-width="0.4"/>
<line x1="79.7" y1="-84.6" x2="84.0" y2="-89.3" stroke="#c8c8c8" stroke-width="0.4"/>
<path d="M84.8,-88.5 A122.6,122.6 0 0 1 86.1,-87.3 L81.6,-82.8 A116.2,116.2 0 0 0 80.4,-83.9 Z" fill="#222222"/>
<line x1="80.4" y1="-83.9" x2="84.8" y2="-88.5" stroke="#c8c8c8" stroke-width="0.4"/>
<line x1="81.6" y1="-82.8" x2="86.1" y2="-87.3" stroke="#c8c8c8" stroke-width="0.4"/>
<path d="M87.9,-85.5 A122.6,122.6 0 0 1 88.8,-84.6 L84.1,-80.1 A116.2,116.2 0 0 0 83.3,-81.0 Z" fill="#222222"/>
<line x1="83.3" y1="-81.0" x2="87.9" y2="-85.5" stroke="#c8c8c8" stroke-width="0.4"/>
<line x1="84.1" y1="-80.1" x2="88.8" y2="-84.6" stroke="#c8c8c8" stroke-width="0.4"/>
<path d="M90.3,-82.9 A122.6,122.6 0 0 1 91.0,-82.1 L86.3,-77.8 A116.2,116.2 0 0 0 85.6,-78.6 Z" fill="#7a7a7a"/>
<line x1="85.6" y1="-78.6" x2="90.3" y2="-82.9" stroke="#c8c8c8" stroke-width="0.4"/>
<line x1="86.3" y1="-77.8" x2="91.0" y2="-82.1" stroke="#c8c8c8" stroke-width="0.4"/>
<path d="M92.2,-80.8 A122.6,122.6 0 0 1 93.5,-79.3 L88.6,-75.2 A116.2,116.2 0 0 0 87.4,-76.5 Z" fill="#e2e2e2"/>
<line x1="87.4" y1="-76.5" x2="92.2" y2="-80.8" stroke="#c8c8c8" stroke-width="0.4"/>
<line x1="88.6" y1="-75.2" x2="93.5" y2="-79.3" stroke="#c8c8c8" stroke-width="0.4"/>
<path d="M94.9,-77.7 A122.6,122.6 0 0 1 95.7,-76.6 L90.7,-72.6 A116.2,116.2 0 0 0 89.9,-73.6 Z" fill="#b9b9b9"/>
<line x1="89.9" y1="-73.6" x2="94.9" y2="-77.7" stroke="#c8c8c8" stroke-width="0.4"/>
<line x1="90.7" y1="-72.6" x2="95.7" y2="-76.6" stroke="#c8c8c8" stroke-width="0.4"/>
<path d="M96.9,-75.1 A122.6,122.6 0 0 1 98.6,-72.9 L93.4,-69.1 A116.2,116.2 0 0 0 91.8,-71.2 Z" fill="#b9b9b9"/>
<line x1="91.8" y1="-71.2" x2="96.9" y2="-75.1" stroke="#c8c8c8" stroke-width="0.4"/>
<line x1="93.4" y1="-69.1" x2="98.6" y2="-72.9" stroke="#c8c8c8" stroke-width="0.4"/>
<path d="M58.0,-108.0 A122.6,122.6 0 0 1 99.6,-71.6 L94.4,-67.8 A116.2,116.2 0 0 0 54.9,-102.4 Z" fill="none" stroke="#8a8a8a" stroke-width="0.55"/>
<text x="0" y="0" font-size="2.8" fill="#777" text-anchor="middle" style="stroke-width:0" transform="translate(74.7,-85.1) rotate(41.3)">chr2</text>
<path d="M102.3,-67.5 A122.6,122.6 0 0 1 103.7,-65.4 L98.3,-62.0 A116.2,116.2 0 0 0 97.0,-64.0 Z" fill="#b9b9b9"/>
<line x1="97.0" y1="-64.0" x2="102.3" y2="-67.5" stroke="#c8c8c8" stroke-width="0.4"/>
<line x1="98.3" y1="-62.0" x2="103.7" y2="-65.4" stroke="#c8c8c8" stroke-width="0.4"/>
<path d="M104.8,-63.6 A122.6,122.6 0 0 1 105.4,-62.5 L99.9,-59.3 A116.2,116.2 0 0 0 99.4,-60.3 Z" fill="#222222"/>
<line x1="99.4" y1="-60.3" x2="104.8" y2="-63.6" stroke="#c8c8c8" stroke-width="0.4"/>
<line x1="99.9" y1="-59.3" x2="105.4" y2="-62.5" stroke="#c8c8c8" stroke-width="0.4"/>
<path d="M106.8,-60.2 A122.6,122.6 0 0 1 107.5,-59.0 L101.9,-55.9 A116.2,116.2 0 0 0 101.2,-57.0 Z" fill="#b9b9b9"/>
<line x1="101.2" y1="-57.0" x2="106.8" y2="-60.2" stroke="#c8c8c8" stroke-width="0.4"/>
<line x1="101.9" y1="-55.9" x2="107.5" y2="-59.0" stroke="#c8c8c8" stroke-width="0.4"/>
<path d="M108.2,-57.7 A122.6,122.6 0 0 1 109.3,-55.6 L103.6,-52.7 A116.2,116.2 0 0 0 102.5,-54.6 Z" fill="#b9b9b9"/>
<line x1="102.5" y1="-54.6" x2="108.2" y2="-57.7" stroke="#c8c8c8" stroke-width="0.4"/>
<line x1="103.6" y1="-52.7" x2="109.3" y2="-55.6" stroke="#c8c8c8" stroke-width="0.4"/>
<path d="M110.0,-54.1 A122.6,122.6 0 0 1 110.7,-52.7 L104.9,-50.0 A116.2,116.2 0 0 0 104.3,-51.3 Z" fill="#222222"/>
<line x1="104.3" y1="-51.3" x2="110.0" y2="-54.1" stroke="#c8c8c8" stroke-width="0.4"/>
<line x1="104.9" y1="-50.0" x2="110.7" y2="-52.7" stroke="#c8c8c8" stroke-width="0.4"/>
<path d="M111.2,-51.7 A122.6,122.6 0 0 1 111.5,-51.0 L105.7,-48.4 A116.2,116.2 0 0 0 105.4,-49.0 Z" fill="#222222"/>
<line x1="105.4" y1="-49.0" x2="111.2" y2="-51.7" stroke="#c8c8c8" stroke-width="0.4"/>
<path d="M111.5,-51.0 A122.6,122.6 0 0 1 111.7,-50.5 L105.9,-47.8 A116.2,116.2 0 0 0 105.7,-48.4 Z" fill="#b84a4a"/>
<line x1="105.7" y1="-48.4" x2="111.5" y2="-51.0" stroke="#c8c8c8" stroke-width="0.4"/>
<line x1="105.9" y1="-47.8" x2="111.7" y2="-50.5" stroke="#c8c8c8" stroke-width="0.4"/>
<path d="M112.6,-48.6 A122.6,122.6 0 0 1 113.1,-47.3 L107.2,-44.8 A116.2,116.2 0 0 0 106.7,-46.1 Z" fill="#222222"/>
<line x1="106.7" y1="-46.1" x2="112.6" y2="-48.6" stroke="#c8c8c8" stroke-width="0.4"/>
<line x1="107.2" y1="-44.8" x2="113.1" y2="-47.3" stroke="#c8c8c8" stroke-width="0.4"/>
<path d="M113.9,-45.4 A122.6,122.6 0 0 1 114.5,-43.8 L108.5,-41.5 A116.2,116.2 0 0 0 108.0,-43.0 Z" fill="#b9b9b9"/>
<line x1="108.0" y1="-43.0" x2="113.9" y2="-45.4" stroke="#c8c8c8" stroke-width="0.4"/>
<line x1="108.5" y1="-41.5" x2="114.5" y2="-43.8" stroke="#c8c8c8" stroke-width="0.4"/>
<path d="M115.1,-42.1 A122.6,122.6 0 0 1 116.0,-39.6 L110.0,-37.5 A116.2,116.2 0 0 0 109.1,-39.9 Z" fill="#222222"/>
<line x1="109.1" y1="-39.9" x2="115.1" y2="-42.1" stroke="#c8c8c8" stroke-width="0.4"/>
<line x1="110.0" y1="-37.5" x2="116.0" y2="-39.6" stroke="#c8c8c8" stroke-width="0.4"/>
<path d="M116.6,-37.8 A122.6,122.6 0 0 1 117.2,-35.9 L111.1,-34.0 A116.2,116.2 0 0 0 110.5,-35.8 Z" fill="#222222"/>
<line x1="110.5" y1="-35.8" x2="116.6" y2="-37.8" stroke="#c8c8c8" stroke-width="0.4"/>
<line x1="111.1" y1="-34.0" x2="117.2" y2="-35.9" stroke="#c8c8c8" stroke-width="0.4"/>
<path d="M117.9,-33.5 A122.6,122.6 0 0 1 118.3,-32.2 L112.1,-30.5 A116.2,116.2 0 0 0 111.8,-31.7 Z" fill="#222222"/>
<line x1="111.8" y1="-31.7" x2="117.9" y2="-33.5" stroke="#c8c8c8" stroke-width="0.4"/>
<line x1="112.1" y1="-30.5" x2="118.3" y2="-32.2" stroke="#c8c8c8" stroke-width="0.4"/>
<path d="M118.6,-30.9 A122.6,122.6 0 0 1 119.3,-28.4 L113.0,-26.9 A116.2,116.2 0 0 0 112.4,-29.3 Z" fill="#222222"/>
<line x1="112.4" y1="-29.3" x2="118.6" y2="-30.9" stroke="#c8c8c8" stroke-width="0.4"/>
<line x1="113.0" y1="-26.9" x2="119.3" y2="-28.4" stroke="#c8c8c8" stroke-width="0.4"/>
<path d="M101.4,-68.9 A122.6,122.6 0 0 1 119.5,-27.5 L113.2,-26.1 A116.2,116.2 0 0 0 96.1,-65.3 Z" fill="none" stroke="#8a8a8a" stroke-width="0.55"/>
<text x="0" y="0" font-size="2.8" fill="#777" text-anchor="middle" style="stroke-width:0" transform="translate(103.7,-45.3) rotate(66.4)">chr3</text>
<path d="M120.4,-23.3 A122.6,122.6 0 0 1 120.6,-22.2 L114.3,-21.0 A116.2,116.2 0 0 0 114.1,-22.0 Z" fill="#7a7a7a"/>
<line x1="114.1" y1="-22.0" x2="120.4" y2="-23.3" stroke="#c8c8c8" stroke-width="0.4"/>
<line x1="114.3" y1="-21.0" x2="120.6" y2="-22.2" stroke="#c8c8c8" stroke-width="0.4"/>
<path d="M120.8,-21.0 A122.6,122.6 0 0 1 121.1,-19.1 L114.8,-18.1 A116.2,116.2 0 0 0 114.5,-19.9 Z" fill="#7a7a7a"/>
<line x1="114.5" y1="-19.9" x2="120.8" y2="-21.0" stroke="#c8c8c8" stroke-width="0.4"/>
<line x1="114.8" y1="-18.1" x2="121.1" y2="-19.1" stroke="#c8c8c8" stroke-width="0.4"/>
<path d="M121.3,-17.6 A122.6,122.6 0 0 1 121.6,-15.3 L115.3,-14.5 A116.2,116.2 0 0 0 115.0,-16.7 Z" fill="#222222"/>
<line x1="115.0" y1="-16.7" x2="121.3" y2="-17.6" stroke="#c8c8c8" stroke-width="0.4"/>
<line x1="115.3" y1="-14.5" x2="121.6" y2="-15.3" stroke="#c8c8c8" stroke-width="0.4"/>
<path d="M121.8,-13.6 A122.6,122.6 0 0 1 121.9,-13.3 L115.5,-12.6 A116.2,116.2 0 0 0 115.5,-12.9 Z" fill="#222222"/>
<line x1="115.5" y1="-12.9" x2="121.8" y2="-13.6" stroke="#c8c8c8" stroke-width="0.4"/>
<path d="M121.9,-13.3 A122.6,122.6 0 0 1 121.9,-12.7 L115.6,-12.0 A116.2,116.2 0 0 0 115.5,-12.6 Z" fill="#b84a4a"/>
<line x1="115.5" y1="-12.6" x2="121.9" y2="-13.3" stroke="#c8c8c8" stroke-width="0.4"/>
<line x1="115.6" y1="-12.0" x2="121.9" y2="-12.7" stroke="#c8c8c8" stroke-width="0.4"/>
<path d="M122.2,-10.1 A122.6,122.6 0 0 1 122.3,-8.2 L115.9,-7.8 A116.2,116.2 0 0 0 115.8,-9.6 Z" fill="#b9b9b9"/>
<line x1="115.8" y1="-9.6" x2="122.2" y2="-10.1" stroke="#c8c8c8" stroke-width="0.4"/>
<line x1="115.9" y1="-7.8" x2="122.3" y2="-8.2" stroke="#c8c8c8" stroke-width="0.4"/>
<path d="M122.4,-6.3 A122.6,122.6 0 0 1 122.5,-3.7 L116.1,-3.5 A116.2,116.2 0 0 0 116.0,-6.0 Z" fill="#e2e2e2"/>
<line x1="116.0" y1="-6.0" x2="122.4" y2="-6.3" stroke="#c8c8c8" stroke-width="0.4"/>
<line x1="116.1" y1="-3.5" x2="122.5" y2="-3.7" stroke="#c8c8c8" stroke-width="0.4"/>
<path d="M122.6,-1.0 A122.6,122.6 0 0 1 122.6,0.3 L116.2,0.3 A116.2,116.2 0 0 0 116.2,-0.9 Z" fill="#7a7a7a"/>
<line x1="116.2" y1="-0.9" x2="122.6" y2="-1.0" stroke="#c8c8c8" stroke-width="0.4"/>
<line x1="116.2" y1="0.3" x2="122.6" y2="0.3" stroke="#c8c8c8" stroke-width="0.4"/>
<path d="M122.6,2.1 A122.6,122.6 0 0 1 122.5,4.3 L116.1,4.1 A116.2,116.2 0 0 0 116.2,2.0 Z" fill="#b9b9b9"/>
<line x1="116.2" y1="2.0" x2="122.6" y2="2.1" stroke="#c8c8c8" stroke-width="0.4"/>
<line x1="116.1" y1="4.1" x2="122.5" y2="4.3" stroke="#c8c8c8" stroke-width="0.4"/>
<path d="M122.4,6.4 A122.6,122.6 0 0 1 122.4,7.5 L116.0,7.2 A116.2,116.2 0 0 0 116.0,6.1 Z" fill="#222222"/>
<line x1="116.0" y1="6.1" x2="122.4" y2="6.4" stroke="#c8c8c8" stroke-width="0.4"/>
<line x1="116.0" y1="7.2" x2="122.4" y2="7.5" stroke="#c8c8c8" stroke-width="0.4"/>
<path d="M122.3,8.9 A122.6,122.6 0 0 1 122.1,11.5 L115.7,10.9 A116.2,116.2 0 0 0 115.9,8.5 Z" fill="#7a7a7a"/>
<line x1="115.9" y1="8.5" x2="122.3" y2="8.9" stroke="#c8c8c8" stroke-width="0.4"/>
<line x1="115.7" y1="10.9" x2="122.1" y2="11.5" stroke="#c8c8c8" stroke-width="0.4"/>
<path d="M121.8,13.8 A122.6,122.6 0 0 1 121.7,15.0 L115.3,14.2 A116.2,116.2 0 0 0 115.5,13.1 Z" fill="#222222"/>
<line x1="115.5" y1="13.1" x2="121.8" y2="13.8" stroke="#c8c8c8" stroke-width="0.4"/>
<line x1="115.3" y1="14.2" x2="121.7" y2="15.0" stroke="#c8c8c8" stroke-width="0.4"/>
<path d="M121.5,16.7 A122.6,122.6 0 0 1 121.2,18.2 L114.9,17.2 A116.2,116.2 0 0 0 115.1,15.8 Z" fill="#222222"/>
<line x1="115.1" y1="15.8" x2="121.5" y2="16.7" stroke="#c8c8c8" stroke-width="0.4"/>
<line x1="114.9" y1="17.2" x2="121.2" y2="18.2" stroke="#c8c8c8" stroke-width="0.4"/>
<path d="M120.1,-24.4 A122.6,122.6 0 0 1 121.1,19.2 L114.8,18.2 A116.2,116.2 0 0 0 113.9,-23.1 Z" fill="none" stroke="#8a8a8a" stroke-width="0.55"/>
<text x="0" y="0" font-size="2.8" fill="#777" text-anchor="middle" style="stroke-width:0" transform="translate(113.2,-2.4) rotate(88.8)">chr4</text>
<path d="M120.1,24.6 A122.6,122.6 0 0 1 119.7,26.5 L113.4,25.2 A116.2,116.2 0 0 0 113.8,23.3 Z" fill="#7a7a7a"/>
<line x1="113.8" y1="23.3" x2="120.1" y2="24.6" stroke="#c8c8c8" stroke-width="0.4"/>
<line x1="113.4" y1="25.2" x2="119.7" y2="26.5" stroke="#c8c8c8" stroke-width="0.4"/>
<path d="M119.4,27.8 A122.6,122.6 0 0 1 119.2,28.9 L112.9,27.3 A116.2,116.2 0 0 0 113.2,26.3 Z" fill="#e2e2e2"/>
<line x1="113.2" y1="26.3" x2="119.4" y2="27.8" stroke="#c8c8c8" stroke-width="0.4"/>
<line x1="112.9" y1="27.3" x2="119.2" y2="28.9" stroke="#c8c8c8" stroke-width="0.4"/>
<path d="M118.9,29.9 A122.6,122.6 0 0 1 118.2,32.4 L112.1,30.7 A116.2,116.2 0 0 0 112.7,28.3 Z" fill="#222222"/>
<line x1="112.7" y1="28.3" x2="118.9" y2="29.9" stroke="#c8c8c8" stroke-width="0.4"/>
<line x1="112.1" y1="30.7" x2="118.2" y2="32.4" stroke="#c8c8c8" stroke-width="0.4"/>
<path d="M118.1,32.9 A122.6,122.6 0 0 1 117.9,33.5 L111.8,31.7 A116.2,116.2 0 0 0 111.9,31.2 Z" fill="#b84a4a"/>
<line x1="111.9" y1="31.2" x2="118.1" y2="32.9" stroke="#c8c8c8" stroke-width="0.4"/>
<path d="M117.9,33.5 A122.6,122.6 0 0 1 117.2,36.0 L111.1,34.2 A116.2,116.2 0 0 0 111.8,31.7 Z" fill="#222222"/>
<line x1="111.8" y1="31.7" x2="117.9" y2="33.5" stroke="#c8c8c8" stroke-width="0.4"/>
<line x1="111.1" y1="34.2" x2="117.2" y2="36.0" stroke="#c8c8c8" stroke-width="0.4"/>
<path d="M116.9,37.1 A122.6,122.6 0 0 1 116.2,39.1 L110.1,37.0 A116.2,116.2 0 0 0 110.8,35.1 Z" fill="#e2e2e2"/>
<line x1="110.8" y1="35.1" x2="116.9" y2="37.1" stroke="#c8c8c8" stroke-width="0.4"/>
<line x1="110.1" y1="37.0" x2="116.2" y2="39.1" stroke="#c8c8c8" stroke-width="0.4"/>
<path d="M115.6,40.9 A122.6,122.6 0 0 1 114.8,43.0 L108.8,40.8 A116.2,116.2 0 0 0 109.6,38.7 Z" fill="#222222"/>
<line x1="109.6" y1="38.7" x2="115.6" y2="40.9" stroke="#c8c8c8" stroke-width="0.4"/>
<line x1="108.8" y1="40.8" x2="114.8" y2="43.0" stroke="#c8c8c8" stroke-width="0.4"/>
<path d="M114.2,44.5 A122.6,122.6 0 0 1 113.2,47.0 L107.3,44.6 A116.2,116.2 0 0 0 108.3,42.2 Z" fill="#222222"/>
<line x1="108.3" y1="42.2" x2="114.2" y2="44.5" stroke="#c8c8c8" stroke-width="0.4"/>
<line x1="107.3" y1="44.6" x2="113.2" y2="47.0" stroke="#c8c8c8" stroke-width="0.4"/>
<path d="M112.8,48.1 A122.6,122.6 0 0 1 112.0,49.9 L106.1,47.3 A116.2,116.2 0 0 0 106.9,45.6 Z" fill="#222222"/>
<line x1="106.9" y1="45.6" x2="112.8" y2="48.1" stroke="#c8c8c8" stroke-width="0.4"/>
<line x1="106.1" y1="47.3" x2="112.0" y2="49.9" stroke="#c8c8c8" stroke-width="0.4"/>
<path d="M111.0,52.0 A122.6,122.6 0 0 1 109.9,54.3 L104.2,51.5 A116.2,116.2 0 0 0 105.2,49.3 Z" fill="#222222"/>
<line x1="105.2" y1="49.3" x2="111.0" y2="52.0" stroke="#c8c8c8" stroke-width="0.4"/>
<line x1="104.2" y1="51.5" x2="109.9" y2="54.3" stroke="#c8c8c8" stroke-width="0.4"/>
<path d="M108.9,56.4 A122.6,122.6 0 0 1 107.8,58.4 L102.2,55.3 A116.2,116.2 0 0 0 103.2,53.4 Z" fill="#e2e2e2"/>
<line x1="103.2" y1="53.4" x2="108.9" y2="56.4" stroke="#c8c8c8" stroke-width="0.4"/>
<line x1="102.2" y1="55.3" x2="107.8" y2="58.4" stroke="#c8c8c8" stroke-width="0.4"/>
<path d="M106.7,60.5 A122.6,122.6 0 0 1 106.3,61.1 L100.7,57.9 A116.2,116.2 0 0 0 101.1,57.3 Z" fill="#222222"/>
<line x1="101.1" y1="57.3" x2="106.7" y2="60.5" stroke="#c8c8c8" stroke-width="0.4"/>
<path d="M120.5,22.4 A122.6,122.6 0 0 1 106.3,61.1 L100.7,57.9 A116.2,116.2 0 0 0 114.2,21.2 Z" fill="none" stroke="#8a8a8a" stroke-width="0.55"/>
<text x="0" y="0" font-size="2.8" fill="#777" text-anchor="middle" style="stroke-width:0" transform="translate(106.2,39.1) rotate(110.2)">chr5</text>
<path d="M103.6,65.5 A122.6,122.6 0 0 1 103.1,66.4 L97.7,62.9 A116.2,116.2 0 0 0 98.2,62.1 Z" fill="#222222"/>
<line x1="98.2" y1="62.1" x2="103.6" y2="65.5" stroke="#c8c8c8" stroke-width="0.4"/>
<line x1="97.7" y1="62.9" x2="103.1" y2="66.4" stroke="#c8c8c8" stroke-width="0.4"/>
<path d="M101.9,68.2 A122.6,122.6 0 0 1 100.9,69.6 L95.7,66.0 A116.2,116.2 0 0 0 96.6,64.6 Z" fill="#222222"/>
<line x1="96.6" y1="64.6" x2="101.9" y2="68.2" stroke="#c8c8c8" stroke-width="0.4"/>
<line x1="95.7" y1="66.0" x2="100.9" y2="69.6" stroke="#c8c8c8" stroke-width="0.4"/>
<path d="M100.3,70.5 A122.6,122.6 0 0 1 99.7,71.4 L94.5,67.7 A116.2,116.2 0 0 0 95.1,66.8 Z" fill="#7a7a7a"/>
<line x1="95.1" y1="66.8" x2="100.3" y2="70.5" stroke="#c8c8c8" stroke-width="0.4"/>
<line x1="94.5" y1="67.7" x2="99.7" y2="71.4" stroke="#c8c8c8" stroke-width="0.4"/>
<path d="M99.0,72.4 A122.6,122.6 0 0 1 98.2,73.4 L93.1,69.5 A116.2,116.2 0 0 0 93.8,68.6 Z" fill="#e2e2e2"/>
<line x1="93.8" y1="68.6" x2="99.0" y2="72.4" stroke="#c8c8c8" stroke-width="0.4"/>
<line x1="93.1" y1="69.5" x2="98.2" y2="73.4" stroke="#c8c8c8" stroke-width="0.4"/>
<path d="M97.3,74.5 A122.6,122.6 0 0 1 96.9,75.2 L91.8,71.2 A116.2,116.2 0 0 0 92.3,70.6 Z" fill="#7a7a7a"/>
<line x1="92.3" y1="70.6" x2="97.3" y2="74.5" stroke="#c8c8c8" stroke-width="0.4"/>
<path d="M96.9,75.2 A122.6,122.6 0 0 1 96.5,75.6 L91.5,71.7 A116.2,116.2 0 0 0 91.8,71.2 Z" fill="#b84a4a"/>
<line x1="91.8" y1="71.2" x2="96.9" y2="75.2" stroke="#c8c8c8" stroke-width="0.4"/>
<line x1="91.5" y1="71.7" x2="96.5" y2="75.6" stroke="#c8c8c8" stroke-width="0.4"/>
<path d="M95.5,76.9 A122.6,122.6 0 0 1 93.8,78.9 L88.9,74.8 A116.2,116.2 0 0 0 90.5,72.9 Z" fill="#7a7a7a"/>
<line x1="90.5" y1="72.9" x2="95.5" y2="76.9" stroke="#c8c8c8" stroke-width="0.4"/>
<line x1="88.9" y1="74.8" x2="93.8" y2="78.9" stroke="#c8c8c8" stroke-width="0.4"/>
<path d="M92.4,80.6 A122.6,122.6 0 0 1 91.2,82.0 L86.4,77.7 A116.2,116.2 0 0 0 87.6,76.4 Z" fill="#b9b9b9"/>
<line x1="87.6" y1="76.4" x2="92.4" y2="80.6" stroke="#c8c8c8" stroke-width="0.4"/>
<line x1="86.4" y1="77.7" x2="91.2" y2="82.0" stroke="#c8c8c8" stroke-width="0.4"/>
<path d="M89.9,83.3 A122.6,122.6 0 0 1 88.6,84.8 L84.0,80.3 A116.2,116.2 0 0 0 85.2,79.0 Z" fill="#222222"/>
<line x1="85.2" y1="79.0" x2="89.9" y2="83.3" stroke="#c8c8c8" stroke-width="0.4"/>
<line x1="84.0" y1="80.3" x2="88.6" y2="84.8" stroke="#c8c8c8" stroke-width="0.4"/>
<path d="M87.2,86.1 A122.6,122.6 0 0 1 85.9,87.5 L81.4,82.9 A116.2,116.2 0 0 0 82.7,81.6 Z" fill="#222222"/>
<line x1="82.7" y1="81.6" x2="87.2" y2="86.1" stroke="#c8c8c8" stroke-width="0.4"/>
<line x1="81.4" y1="82.9" x2="85.9" y2="87.5" stroke="#c8c8c8" stroke-width="0.4"/>
<path d="M84.8,88.6 A122.6,122.6 0 0 1 83.9,89.4 L79.5,84.7 A116.2,116.2 0 0 0 80.3,84.0 Z" fill="#b9b9b9"/>
<line x1="80.3" y1="84.0" x2="84.8" y2="88.6" stroke="#c8c8c8" stroke-width="0.4"/>
<line x1="79.5" y1="84.7" x2="83.9" y2="89.4" stroke="#c8c8c8" stroke-width="0.4"/>
<path d="M83.1,90.1 A122.6,122.6 0 0 1 81.1,91.9 L76.9,87.1 A116.2,116.2 0 0 0 78.8,85.4 Z" fill="#222222"/>
<line x1="78.8" y1="85.4" x2="83.1" y2="90.1" stroke="#c8c8c8" stroke-width="0.4"/>
<line x1="76.9" y1="87.1" x2="81.1" y2="91.9" stroke="#c8c8c8" stroke-width="0.4"/>
<path d="M80.2,92.7 A122.6,122.6 0 0 1 79.2,93.6 L75.1,88.7 A116.2,116.2 0 0 0 76.0,87.9 Z" fill="#b9b9b9"/>
<line x1="76.0" y1="87.9" x2="80.2" y2="92.7" stroke="#c8c8c8" stroke-width="0.4"/>
<path d="M104.6,63.9 A122.6,122.6 0 0 1 79.2,93.6 L75.1,88.7 A116.2,116.2 0 0 0 99.2,60.6 Z" fill="none" stroke="#8a8a8a" stroke-width="0.55"/>
<text x="0" y="0" font-size="2.8" fill="#777" text-anchor="middle" style="stroke-width:0" transform="translate(86.0,73.6) rotate(130.6)">chr6</text>
<path d="M74.9,97.1 A122.6,122.6 0 0 1 73.6,98.0 L69.8,92.9 A116.2,116.2 0 0 0 71.0,92.0 Z" fill="#222222"/>
<line x1="71.0" y1="92.0" x2="74.9" y2="97.1" stroke="#c8c8c8" stroke-width="0.4"/>
<line x1="69.8" y1="92.9" x2="73.6" y2="98.0" stroke="#c8c8c8" stroke-width="0.4"/>
<path d="M71.5,99.6 A122.6,122.6 0 0 1 69.9,100.7 L66.3,95.4 A116.2,116.2 0 0 0 67.8,94.4 Z" fill="#b9b9b9"/>
<line x1="67.8" y1="94.4" x2="71.5" y2="99.6" stroke="#c8c8c8" stroke-width="0.4"/>
<line x1="66.3" y1="95.4" x2="69.9" y2="100.7" stroke="#c8c8c8" stroke-width="0.4"/>
<path d="M68.8,101.5 A122.6,122.6 0 0 1 67.3,102.5 L63.8,97.1 A116.2,116.2 0 0 0 65.2,96.2 Z" fill="#e2e2e2"/>
<line x1="65.2" y1="96.2" x2="68.8" y2="101.5" stroke="#c8c8c8" stroke-width="0.4"/>
<line x1="63.8" y1="97.1" x2="67.3" y2="102.5" stroke="#c8c8c8" stroke-width="0.4"/>
<path d="M66.1,103.3 A122.6,122.6 0 0 1 65.8,103.4 L62.4,98.0 A116.2,116.2 0 0 0 62.6,97.9 Z" fill="#222222"/>
<line x1="62.6" y1="97.9" x2="66.1" y2="103.3" stroke="#c8c8c8" stroke-width="0.4"/>
<path d="M65.8,103.4 A122.6,122.6 0 0 1 65.3,103.8 L61.9,98.3 A116.2,116.2 0 0 0 62.4,98.0 Z" fill="#b84a4a"/>
<line x1="62.4" y1="98.0" x2="65.8" y2="103.4" stroke="#c8c8c8" stroke-width="0.4"/>
<line x1="61.9" y1="98.3" x2="65.3" y2="103.8" stroke="#c8c8c8" stroke-width="0.4"/>
<path d="M63.3,105.0 A122.6,122.6 0 0 1 61.2,106.2 L58.0,100.7 A116.2,116.2 0 0 0 59.9,99.5 Z" fill="#222222"/>
<line x1="59.9" y1="99.5" x2="63.3" y2="105.0" stroke="#c8c8c8" stroke-width="0.4"/>
<line x1="58.0" y1="100.7" x2="61.2" y2="106.2" stroke="#c8c8c8" stroke-width="0.4"/>
<path d="M60.0,106.9 A122.6,122.6 0 0 1 58.8,107.6 L55.8,102.0 A116.2,116.2 0 0 0 56.9,101.3 Z" fill="#7a7a7a"/>
<line x1="56.9" y1="101.3" x2="60.0" y2="106.9" stroke="#c8c8c8" stroke-width="0.4"/>
<line x1="55.8" y1="102.0" x2="58.8" y2="107.6" stroke="#c8c8c8" stroke-width="0.4"/>
<path d="M57.6,108.2 A122.6,122.6 0 0 1 55.3,109.4 L52.4,103.7 A116.2,116.2 0 0 0 54.6,102.6 Z" fill="#b9b9b9"/>
<line x1="54.6" y1="102.6" x2="57.6" y2="108.2" stroke="#c8c8c8" stroke-width="0.4"/>
<line x1="52.4" y1="103.7" x2="55.3" y2="109.4" stroke="#c8c8c8" stroke-width="0.4"/>
<path d="M54.0,110.1 A122.6,122.6 0 0 1 52.9,110.6 L50.1,104.8 A116.2,116.2 0 0 0 51.2,104.3 Z" fill="#222222"/>
<line x1="51.2" y1="104.3" x2="54.0" y2="110.1" stroke="#c8c8c8" stroke-width="0.4"/>
<line x1="50.1" y1="104.8" x2="52.9" y2="110.6" stroke="#c8c8c8" stroke-width="0.4"/>
<path d="M51.4,111.3 A122.6,122.6 0 0 1 49.0,112.4 L46.5,106.5 A116.2,116.2 0 0 0 48.7,105.5 Z" fill="#222222"/>
<line x1="48.7" y1="105.5" x2="51.4" y2="111.3" stroke="#c8c8c8" stroke-width="0.4"/>
<line x1="46.5" y1="106.5" x2="49.0" y2="112.4" stroke="#c8c8c8" stroke-width="0.4"/>
<path d="M48.0,112.8 A122.6,122.6 0 0 1 47.0,113.2 L44.5,107.3 A116.2,116.2 0 0 0 45.5,106.9 Z" fill="#222222"/>
<line x1="45.5" y1="106.9" x2="48.0" y2="112.8" stroke="#c8c8c8" stroke-width="0.4"/>
<line x1="44.5" y1="107.3" x2="47.0" y2="113.2" stroke="#c8c8c8" stroke-width="0.4"/>
<path d="M76.7,95.6 A122.6,122.6 0 0 1 45.3,113.9 L42.9,108.0 A116.2,116.2 0 0 0 72.7,90.6 Z" fill="none" stroke="#8a8a8a" stroke-width="0.55"/>
<text x="0" y="0" font-size="2.8" fill="#777" text-anchor="middle" style="stroke-width:0" transform="translate(57.0,97.8) rotate(149.8)">chr7</text>
<path d="M40.3,115.8 A122.6,122.6 0 0 1 38.5,116.4 L36.5,110.3 A116.2,116.2 0 0 0 38.2,109.7 Z" fill="#b9b9b9"/>
<line x1="38.2" y1="109.7" x2="40.3" y2="115.8" stroke="#c8c8c8" stroke-width="0.4"/>
<line x1="36.5" y1="110.3" x2="38.5" y2="116.4" stroke="#c8c8c8" stroke-width="0.4"/>
<path d="M37.1,116.9 A122.6,122.6 0 0 1 34.7,117.6 L32.9,111.5 A116.2,116.2 0 0 0 35.1,110.8 Z" fill="#222222"/>
<line x1="35.1" y1="110.8" x2="37.1" y2="116.9" stroke="#c8c8c8" stroke-width="0.4"/>
<line x1="32.9" y1="111.5" x2="34.7" y2="117.6" stroke="#c8c8c8" stroke-width="0.4"/>
<path d="M32.6,118.2 A122.6,122.6 0 0 1 32.1,118.3 L30.4,112.2 A116.2,116.2 0 0 0 30.9,112.0 Z" fill="#b84a4a"/>
<line x1="30.9" y1="112.0" x2="32.6" y2="118.2" stroke="#c8c8c8" stroke-width="0.4"/>
<path d="M32.1,118.3 A122.6,122.6 0 0 1 30.3,118.8 L28.7,112.6 A116.2,116.2 0 0 0 30.4,112.2 Z" fill="#b9b9b9"/>
<line x1="30.4" y1="112.2" x2="32.1" y2="118.3" stroke="#c8c8c8" stroke-width="0.4"/>
<line x1="28.7" y1="112.6" x2="30.3" y2="118.8" stroke="#c8c8c8" stroke-width="0.4"/>
<path d="M29.2,119.1 A122.6,122.6 0 0 1 28.1,119.3 L26.7,113.1 A116.2,116.2 0 0 0 27.7,112.9 Z" fill="#222222"/>
<line x1="27.7" y1="112.9" x2="29.2" y2="119.1" stroke="#c8c8c8" stroke-width="0.4"/>
<line x1="26.7" y1="113.1" x2="28.1" y2="119.3" stroke="#c8c8c8" stroke-width="0.4"/>
<path d="M25.7,119.9 A122.6,122.6 0 0 1 24.6,120.1 L23.3,113.8 A116.2,116.2 0 0 0 24.3,113.6 Z" fill="#e2e2e2"/>
<line x1="24.3" y1="113.6" x2="25.7" y2="119.9" stroke="#c8c8c8" stroke-width="0.4"/>
<line x1="23.3" y1="113.8" x2="24.6" y2="120.1" stroke="#c8c8c8" stroke-width="0.4"/>
<path d="M22.4,120.5 A122.6,122.6 0 0 1 20.4,120.9 L19.3,114.6 A116.2,116.2 0 0 0 21.2,114.2 Z" fill="#222222"/>
<line x1="21.2" y1="114.2" x2="22.4" y2="120.5" stroke="#c8c8c8" stroke-width="0.4"/>
<line x1="19.3" y1="114.6" x2="20.4" y2="120.9" stroke="#c8c8c8" stroke-width="0.4"/>
<path d="M18.8,121.1 A122.6,122.6 0 0 1 16.5,121.5 L15.6,115.1 A116.2,116.2 0 0 0 17.9,114.8 Z" fill="#e2e2e2"/>
<line x1="17.9" y1="114.8" x2="18.8" y2="121.1" stroke="#c8c8c8" stroke-width="0.4"/>
<line x1="15.6" y1="115.1" x2="16.5" y2="121.5" stroke="#c8c8c8" stroke-width="0.4"/>
<path d="M15.4,121.6 A122.6,122.6 0 0 1 14.2,121.8 L13.4,115.4 A116.2,116.2 0 0 0 14.6,115.3 Z" fill="#222222"/>
<line x1="14.6" y1="115.3" x2="15.4" y2="121.6" stroke="#c8c8c8" stroke-width="0.4"/>
<line x1="13.4" y1="115.4" x2="14.2" y2="121.8" stroke="#c8c8c8" stroke-width="0.4"/>
<path d="M12.4,122.0 A122.6,122.6 0 0 1 11.3,122.1 L10.7,115.7 A116.2,116.2 0 0 0 11.7,115.6 Z" fill="#e2e2e2"/>
<line x1="11.7" y1="115.6" x2="12.4" y2="122.0" stroke="#c8c8c8" stroke-width="0.4"/>
<line x1="10.7" y1="115.7" x2="11.3" y2="122.1" stroke="#c8c8c8" stroke-width="0.4"/>
<path d="M42.3,115.1 A122.6,122.6 0 0 1 9.6,122.2 L9.1,115.8 A116.2,116.2 0 0 0 40.1,109.1 Z" fill="none" stroke="#8a8a8a" stroke-width="0.55"/>
<text x="0" y="0" font-size="2.8" fill="#777" text-anchor="middle" style="stroke-width:0" transform="translate(24.2,110.6) rotate(167.7)">chr8</text>
<path d="M4.3,122.5 A122.6,122.6 0 0 1 2.1,122.6 L2.0,116.2 A116.2,116.2 0 0 0 4.1,116.1 Z" fill="#222222"/>
<line x1="4.1" y1="116.1" x2="4.3" y2="122.5" stroke="#c8c8c8" stroke-width="0.4"/>
<line x1="2.0" y1="116.2" x2="2.1" y2="122.6" stroke="#c8c8c8" stroke-width="0.4"/>
<path d="M-0.3,122.6 A122.6,122.6 0 0 1 -3.0,122.6 L-2.8,116.2 A116.2,116.2 0 0 0 -0.3,116.2 Z" fill="#222222"/>
<line x1="-0.3" y1="116.2" x2="-0.3" y2="122.6" stroke="#c8c8c8" stroke-width="0.4"/>
<line x1="-2.8" y1="116.2" x2="-3.0" y2="122.6" stroke="#c8c8c8" stroke-width="0.4"/>
<path d="M-4.5,122.5 A122.6,122.6 0 0 1 -5.1,122.5 L-4.9,116.1 A116.2,116.2 0 0 0 -4.3,116.1 Z" fill="#b84a4a"/>
<line x1="-4.3" y1="116.1" x2="-4.5" y2="122.5" stroke="#c8c8c8" stroke-width="0.4"/>
<path d="M-5.1,122.5 A122.6,122.6 0 0 1 -6.5,122.4 L-6.2,116.0 A116.2,116.2 0 0 0 -4.9,116.1 Z" fill="#222222"/>
<line x1="-4.9" y1="116.1" x2="-5.1" y2="122.5" stroke="#c8c8c8" stroke-width="0.4"/>
<line x1="-6.2" y1="116.0" x2="-6.5" y2="122.4" stroke="#c8c8c8" stroke-width="0.4"/>
<path d="M-8.3,122.3 A122.6,122.6 0 0 1 -9.7,122.2 L-9.2,115.8 A116.2,116.2 0 0 0 -7.9,115.9 Z" fill="#222222"/>
<line x1="-7.9" y1="115.9" x2="-8.3" y2="122.3" stroke="#c8c8c8" stroke-width="0.4"/>
<line x1="-9.2" y1="115.8" x2="-9.7" y2="122.2" stroke="#c8c8c8" stroke-width="0.4"/>
<path d="M-10.7,122.1 A122.6,122.6 0 0 1 -12.6,122.0 L-11.9,115.6 A116.2,116.2 0 0 0 -10.2,115.8 Z" fill="#b9b9b9"/>
<line x1="-10.2" y1="115.8" x2="-10.7" y2="122.1" stroke="#c8c8c8" stroke-width="0.4"/>
<line x1="-11.9" y1="115.6" x2="-12.6" y2="122.0" stroke="#c8c8c8" stroke-width="0.4"/>
<path d="M-14.8,121.7 A122.6,122.6 0 0 1 -16.1,121.5 L-15.3,115.2 A116.2,116.2 0 0 0 -14.0,115.3 Z" fill="#e2e2e2"/>
<line x1="-14.0" y1="115.3" x2="-14.8" y2="121.7" stroke="#c8c8c8" stroke-width="0.4"/>
<line x1="-15.3" y1="115.2" x2="-16.1" y2="121.5" stroke="#c8c8c8" stroke-width="0.4"/>
<path d="M-17.6,121.3 A122.6,122.6 0 0 1 -19.2,121.1 L-18.2,114.8 A116.2,116.2 0 0 0 -16.7,115.0 Z" fill="#222222"/>
<line x1="-16.7" y1="115.0" x2="-17.6" y2="121.3" stroke="#c8c8c8" stroke-width="0.4"/>
<line x1="-18.2" y1="114.8" x2="-19.2" y2="121.1" stroke="#c8c8c8" stroke-width="0.4"/>
<path d="M-21.4,120.7 A122.6,122.6 0 0 1 -23.3,120.4 L-22.1,114.1 A116.2,116.2 0 0 0 -20.3,114.4 Z" fill="#222222"/>
<line x1="-20.3" y1="114.4" x2="-21.4" y2="120.7" stroke="#c8c8c8" stroke-width="0.4"/>
<line x1="-22.1" y1="114.1" x2="-23.3" y2="120.4" stroke="#c8c8c8" stroke-width="0.4"/>
<path d="M-25.4,119.9 A122.6,122.6 0 0 1 -25.8,119.9 L-24.4,113.6 A116.2,116.2 0 0 0 -24.1,113.7 Z" fill="#222222"/>
<line x1="-24.1" y1="113.7" x2="-25.4" y2="119.9" stroke="#c8c8c8" stroke-width="0.4"/>
<path d="M6.4,122.4 A122.6,122.6 0 0 1 -25.8,119.9 L-24.4,113.6 A116.2,116.2 0 0 0 6.1,116.0 Z" fill="none" stroke="#8a8a8a" stroke-width="0.55"/>
<text x="0" y="0" font-size="2.8" fill="#777" text-anchor="middle" style="stroke-width:0" transform="translate(-9.0,112.8) rotate(184.6)">chr9</text>
<path d="M-30.1,118.8 A122.6,122.6 0 0 1 -31.9,118.4 L-30.2,112.2 A116.2,116.2 0 0 0 -28.6,112.6 Z" fill="#222222"/>
<line x1="-28.6" y1="112.6" x2="-30.1" y2="118.8" stroke="#c8c8c8" stroke-width="0.4"/>
<line x1="-30.2" y1="112.2" x2="-31.9" y2="118.4" stroke="#c8c8c8" stroke-width="0.4"/>
<path d="M-33.9,117.8 A122.6,122.6 0 0 1 -36.4,117.1 L-34.5,111.0 A116.2,116.2 0 0 0 -32.1,111.7 Z" fill="#e2e2e2"/>
<line x1="-32.1" y1="111.7" x2="-33.9" y2="117.8" stroke="#c8c8c8" stroke-width="0.4"/>
<line x1="-34.5" y1="111.0" x2="-36.4" y2="117.1" stroke="#c8c8c8" stroke-width="0.4"/>
<path d="M-37.5,116.7 A122.6,122.6 0 0 1 -38.1,116.5 L-36.1,110.5 A116.2,116.2 0 0 0 -35.5,110.6 Z" fill="#b84a4a"/>
<line x1="-35.5" y1="110.6" x2="-37.5" y2="116.7" stroke="#c8c8c8" stroke-width="0.4"/>
<path d="M-38.1,116.5 A122.6,122.6 0 0 1 -40.0,115.9 L-37.9,109.8 A116.2,116.2 0 0 0 -36.1,110.5 Z" fill="#b9b9b9"/>
<line x1="-36.1" y1="110.5" x2="-38.1" y2="116.5" stroke="#c8c8c8" stroke-width="0.4"/>
<line x1="-37.9" y1="109.8" x2="-40.0" y2="115.9" stroke="#c8c8c8" stroke-width="0.4"/>
<path d="M-42.4,115.0 A122.6,122.6 0 0 1 -44.6,114.2 L-42.3,108.2 A116.2,116.2 0 0 0 -40.2,109.0 Z" fill="#b9b9b9"/>
<line x1="-40.2" y1="109.0" x2="-42.4" y2="115.0" stroke="#c8c8c8" stroke-width="0.4"/>
<line x1="-42.3" y1="108.2" x2="-44.6" y2="114.2" stroke="#c8c8c8" stroke-width="0.4"/>
<path d="M-47.1,113.2 A122.6,122.6 0 0 1 -48.8,112.5 L-46.2,106.6 A116.2,116.2 0 0 0 -44.6,107.3 Z" fill="#222222"/>
<line x1="-44.6" y1="107.3" x2="-47.1" y2="113.2" stroke="#c8c8c8" stroke-width="0.4"/>
<line x1="-46.2" y1="106.6" x2="-48.8" y2="112.5" stroke="#c8c8c8" stroke-width="0.4"/>
<path d="M-50.7,111.6 A122.6,122.6 0 0 1 -52.0,111.0 L-49.3,105.2 A116.2,116.2 0 0 0 -48.1,105.8 Z" fill="#e2e2e2"/>
<line x1="-48.1" y1="105.8" x2="-50.7" y2="111.6" stroke="#c8c8c8" stroke-width="0.4"/>
<line x1="-49.3" y1="105.2" x2="-52.0" y2="111.0" stroke="#c8c8c8" stroke-width="0.4"/>
<path d="M-54.0,110.0 A122.6,122.6 0 0 1 -56.2,108.9 L-53.3,103.3 A116.2,116.2 0 0 0 -51.2,104.3 Z" fill="#7a7a7a"/>
<line x1="-51.2" y1="104.3" x2="-54.0" y2="110.0" stroke="#c8c8c8" stroke-width="0.4"/>
<line x1="-53.3" y1="103.3" x2="-56.2" y2="108.9" stroke="#c8c8c8" stroke-width="0.4"/>
<path d="M-28.9,119.1 A122.6,122.6 0 0 1 -57.9,108.1 L-54.9,102.4 A116.2,116.2 0 0 0 -27.4,112.9 Z" fill="none" stroke="#8a8a8a" stroke-width="0.55"/>
<text x="0" y="0" font-size="2.8" fill="#777" text-anchor="middle" style="stroke-width:0" transform="translate(-40.4,105.7) rotate(200.9)">chr10</text>
<path d="M-62.4,105.5 A122.6,122.6 0 0 1 -64.4,104.3 L-61.1,98.9 A116.2,116.2 0 0 0 -59.1,100.0 Z" fill="#222222"/>
<line x1="-59.1" y1="100.0" x2="-62.4" y2="105.5" stroke="#c8c8c8" stroke-width="0.4"/>
<line x1="-61.1" y1="98.9" x2="-64.4" y2="104.3" stroke="#c8c8c8" stroke-width="0.4"/>
<path d="M-65.8,103.5 A122.6,122.6 0 0 1 -67.9,102.1 L-64.4,96.7 A116.2,116.2 0 0 0 -62.3,98.1 Z" fill="#b9b9b9"/>
<line x1="-62.3" y1="98.1" x2="-65.8" y2="103.5" stroke="#c8c8c8" stroke-width="0.4"/>
<line x1="-64.4" y1="96.7" x2="-67.9" y2="102.1" stroke="#c8c8c8" stroke-width="0.4"/>
<path d="M-70.0,100.6 A122.6,122.6 0 0 1 -70.8,100.1 L-67.1,94.9 A116.2,116.2 0 0 0 -66.4,95.4 Z" fill="#222222"/>
<line x1="-66.4" y1="95.4" x2="-70.0" y2="100.6" stroke="#c8c8c8" stroke-width="0.4"/>
<path d="M-70.8,100.1 A122.6,122.6 0 0 1 -71.3,99.7 L-67.6,94.5 A116.2,116.2 0 0 0 -67.1,94.9 Z" fill="#b84a4a"/>
<line x1="-67.1" y1="94.9" x2="-70.8" y2="100.1" stroke="#c8c8c8" stroke-width="0.4"/>
<line x1="-67.6" y1="94.5" x2="-71.3" y2="99.7" stroke="#c8c8c8" stroke-width="0.4"/>
<path d="M-72.3,99.0 A122.6,122.6 0 0 1 -73.7,98.0 L-69.9,92.9 A116.2,116.2 0 0 0 -68.5,93.9 Z" fill="#b9b9b9"/>
<line x1="-68.5" y1="93.9" x2="-72.3" y2="99.0" stroke="#c8c8c8" stroke-width="0.4"/>
<line x1="-69.9" y1="92.9" x2="-73.7" y2="98.0" stroke="#c8c8c8" stroke-width="0.4"/>
<path d="M-75.3,96.8 A122.6,122.6 0 0 1 -77.1,95.3 L-73.1,90.3 A116.2,116.2 0 0 0 -71.3,91.7 Z" fill="#222222"/>
<line x1="-71.3" y1="91.7" x2="-75.3" y2="96.8" stroke="#c8c8c8" stroke-width="0.4"/>
<line x1="-73.1" y1="90.3" x2="-77.1" y2="95.3" stroke="#c8c8c8" stroke-width="0.4"/>
<path d="M-78.6,94.1 A122.6,122.6 0 0 1 -79.4,93.4 L-75.2,88.5 A116.2,116.2 0 0 0 -74.5,89.2 Z" fill="#222222"/>
<line x1="-74.5" y1="89.2" x2="-78.6" y2="94.1" stroke="#c8c8c8" stroke-width="0.4"/>
<line x1="-75.2" y1="88.5" x2="-79.4" y2="93.4" stroke="#c8c8c8" stroke-width="0.4"/>
<path d="M-81.2,91.8 A122.6,122.6 0 0 1 -82.1,91.1 L-77.8,86.3 A116.2,116.2 0 0 0 -77.0,87.0 Z" fill="#222222"/>
<line x1="-77.0" y1="87.0" x2="-81.2" y2="91.8" stroke="#c8c8c8" stroke-width="0.4"/>
<line x1="-77.8" y1="86.3" x2="-82.1" y2="91.1" stroke="#c8c8c8" stroke-width="0.4"/>
<path d="M-83.8,89.4 A122.6,122.6 0 0 1 -84.8,88.5 L-80.4,83.9 A116.2,116.2 0 0 0 -79.5,84.8 Z" fill="#222222"/>
<line x1="-79.5" y1="84.8" x2="-83.8" y2="89.4" stroke="#c8c8c8" stroke-width="0.4"/>
<line x1="-80.4" y1="83.9" x2="-84.8" y2="88.5" stroke="#c8c8c8" stroke-width="0.4"/>
<path d="M-60.7,106.5 A122.6,122.6 0 0 1 -85.4,88.0 L-80.9,83.4 A116.2,116.2 0 0 0 -57.5,101.0 Z" fill="none" stroke="#8a8a8a" stroke-width="0.55"/>
<text x="0" y="0" font-size="2.8" fill="#777" text-anchor="middle" style="stroke-width:0" transform="translate(-68.0,90.5) rotate(216.9)">chr11</text>
<path d="M-89.2,84.1 A122.6,122.6 0 0 1 -90.4,82.8 L-85.7,78.5 A116.2,116.2 0 0 0 -84.5,79.7 Z" fill="#222222"/>
<line x1="-84.5" y1="79.7" x2="-89.2" y2="84.1" stroke="#c8c8c8" stroke-width="0.4"/>
<line x1="-85.7" y1="78.5" x2="-90.4" y2="82.8" stroke="#c8c8c8" stroke-width="0.4"/>
<path d="M-92.1,80.9 A122.6,122.6 0 0 1 -93.0,79.9 L-88.1,75.7 A116.2,116.2 0 0 0 -87.3,76.7 Z" fill="#222222"/>
<line x1="-87.3" y1="76.7" x2="-92.1" y2="80.9" stroke="#c8c8c8" stroke-width="0.4"/>
<path d="M-93.0,79.9 A122.6,122.6 0 0 1 -93.4,79.4 L-88.5,75.3 A116.2,116.2 0 0 0 -88.1,75.7 Z" fill="#b84a4a"/>
<line x1="-88.1" y1="75.7" x2="-93.0" y2="79.9" stroke="#c8c8c8" stroke-width="0.4"/>
<line x1="-88.5" y1="75.3" x2="-93.4" y2="79.4" stroke="#c8c8c8" stroke-width="0.4"/>
<path d="M-94.8,77.7 A122.6,122.6 0 0 1 -96.3,75.9 L-91.3,71.9 A116.2,116.2 0 0 0 -89.9,73.7 Z" fill="#222222"/>
<line x1="-89.9" y1="73.7" x2="-94.8" y2="77.7" stroke="#c8c8c8" stroke-width="0.4"/>
<line x1="-91.3" y1="71.9" x2="-96.3" y2="75.9" stroke="#c8c8c8" stroke-width="0.4"/>
<path d="M-97.4,74.5 A122.6,122.6 0 0 1 -98.6,72.9 L-93.4,69.1 A116.2,116.2 0 0 0 -92.3,70.6 Z" fill="#b9b9b9"/>
<line x1="-92.3" y1="70.6" x2="-97.4" y2="74.5" stroke="#c8c8c8" stroke-width="0.4"/>
<line x1="-93.4" y1="69.1" x2="-98.6" y2="72.9" stroke="#c8c8c8" stroke-width="0.4"/>
<path d="M-100.0,70.9 A122.6,122.6 0 0 1 -101.2,69.3 L-95.9,65.6 A116.2,116.2 0 0 0 -94.8,67.2 Z" fill="#7a7a7a"/>
<line x1="-94.8" y1="67.2" x2="-100.0" y2="70.9" stroke="#c8c8c8" stroke-width="0.4"/>
<line x1="-95.9" y1="65.6" x2="-101.2" y2="69.3" stroke="#c8c8c8" stroke-width="0.4"/>
<path d="M-101.9,68.2 A122.6,122.6 0 0 1 -102.9,66.6 L-97.6,63.1 A116.2,116.2 0 0 0 -96.6,64.6 Z" fill="#222222"/>
<line x1="-96.6" y1="64.6" x2="-101.9" y2="68.2" stroke="#c8c8c8" stroke-width="0.4"/>
<line x1="-97.6" y1="63.1" x2="-102.9" y2="66.6" stroke="#c8c8c8" stroke-width="0.4"/>
<path d="M-104.3,64.4 A122.6,122.6 0 0 1 -105.1,63.1 L-99.6,59.8 A116.2,116.2 0 0 0 -98.9,61.0 Z" fill="#b9b9b9"/>
<line x1="-98.9" y1="61.0" x2="-104.3" y2="64.4" stroke="#c8c8c8" stroke-width="0.4"/>
<line x1="-99.6" y1="59.8" x2="-105.1" y2="63.1" stroke="#c8c8c8" stroke-width="0.4"/>
<path d="M-87.7,85.7 A122.6,122.6 0 0 1 -106.2,61.3 L-100.6,58.1 A116.2,116.2 0 0 0 -83.1,81.2 Z" fill="none" stroke="#8a8a8a" stroke-width="0.55"/>
<text x="0" y="0" font-size="2.8" fill="#777" text-anchor="middle" style="stroke-width:0" transform="translate(-90.2,68.4) rotate(232.8)">chr12</text>
<path d="M-109.0,56.1 A122.6,122.6 0 0 1 -109.5,55.1 L-103.8,52.3 A116.2,116.2 0 0 0 -103.3,53.2 Z" fill="#222222"/>
<line x1="-103.3" y1="53.2" x2="-109.0" y2="56.1" stroke="#c8c8c8" stroke-width="0.4"/>
<path d="M-109.5,55.1 A122.6,122.6 0 0 1 -109.8,54.6 L-104.0,51.8 A116.2,116.2 0 0 0 -103.8,52.3 Z" fill="#b84a4a"/>
<line x1="-103.8" y1="52.3" x2="-109.5" y2="55.1" stroke="#c8c8c8" stroke-width="0.4"/>
<line x1="-104.0" y1="51.8" x2="-109.8" y2="54.6" stroke="#c8c8c8" stroke-width="0.4"/>
<path d="M-110.7,52.8 A122.6,122.6 0 0 1 -111.2,51.5 L-105.4,48.9 A116.2,116.2 0 0 0 -104.9,50.0 Z" fill="#b9b9b9"/>
<line x1="-104.9" y1="50.0" x2="-110.7" y2="52.8" stroke="#c8c8c8" stroke-width="0.4"/>
<line x1="-105.4" y1="48.9" x2="-111.2" y2="51.5" stroke="#c8c8c8" stroke-width="0.4"/>
<path d="M-112.0,49.8 A122.6,122.6 0 0 1 -112.8,48.0 L-106.9,45.5 A116.2,116.2 0 0 0 -106.2,47.2 Z" fill="#e2e2e2"/>
<line x1="-106.2" y1="47.2" x2="-112.0" y2="49.8" stroke="#c8c8c8" stroke-width="0.4"/>
<line x1="-106.9" y1="45.5" x2="-112.8" y2="48.0" stroke="#c8c8c8" stroke-width="0.4"/>
<path d="M-113.6,46.1 A122.6,122.6 0 0 1 -114.0,45.1 L-108.0,42.8 A116.2,116.2 0 0 0 -107.7,43.7 Z" fill="#222222"/>
<line x1="-107.7" y1="43.7" x2="-113.6" y2="46.1" stroke="#c8c8c8" stroke-width="0.4"/>
<line x1="-108.0" y1="42.8" x2="-114.0" y2="45.1" stroke="#c8c8c8" stroke-width="0.4"/>
<path d="M-115.0,42.6 A122.6,122.6 0 0 1 -115.6,40.8 L-109.6,38.7 A116.2,116.2 0 0 0 -109.0,40.4 Z" fill="#222222"/>
<line x1="-109.0" y1="40.4" x2="-115.0" y2="42.6" stroke="#c8c8c8" stroke-width="0.4"/>
<line x1="-109.6" y1="38.7" x2="-115.6" y2="40.8" stroke="#c8c8c8" stroke-width="0.4"/>
<path d="M-116.2,39.2 A122.6,122.6 0 0 1 -116.9,36.9 L-110.8,34.9 A116.2,116.2 0 0 0 -110.1,37.1 Z" fill="#222222"/>
<line x1="-110.1" y1="37.1" x2="-116.2" y2="39.2" stroke="#c8c8c8" stroke-width="0.4"/>
<line x1="-110.8" y1="34.9" x2="-116.9" y2="36.9" stroke="#c8c8c8" stroke-width="0.4"/>
<path d="M-117.5,35.0 A122.6,122.6 0 0 1 -117.8,34.1 L-111.6,32.3 A116.2,116.2 0 0 0 -111.4,33.1 Z" fill="#222222"/>
<line x1="-111.4" y1="33.1" x2="-117.5" y2="35.0" stroke="#c8c8c8" stroke-width="0.4"/>
<path d="M-107.7,58.5 A122.6,122.6 0 0 1 -117.8,34.1 L-111.6,32.3 A116.2,116.2 0 0 0 -102.1,55.5 Z" fill="none" stroke="#8a8a8a" stroke-width="0.55"/>
<text x="0" y="0" font-size="2.8" fill="#777" text-anchor="middle" style="stroke-width:0" transform="translate(-104.7,43.0) rotate(247.7)">chr13</text>
<path d="M-119.2,28.5 A122.6,122.6 0 0 1 -119.5,27.4 L-113.3,26.0 A116.2,116.2 0 0 0 -113.0,27.0 Z" fill="#222222"/>
<line x1="-113.0" y1="27.0" x2="-119.2" y2="28.5" stroke="#c8c8c8" stroke-width="0.4"/>
<path d="M-119.5,27.4 A122.6,122.6 0 0 1 -119.6,26.8 L-113.4,25.4 A116.2,116.2 0 0 0 -113.3,26.0 Z" fill="#b84a4a"/>
<line x1="-113.3" y1="26.0" x2="-119.5" y2="27.4" stroke="#c8c8c8" stroke-width="0.4"/>
<line x1="-113.4" y1="25.4" x2="-119.6" y2="26.8" stroke="#c8c8c8" stroke-width="0.4"/>
<path d="M-120.0,25.0 A122.6,122.6 0 0 1 -120.3,23.8 L-114.0,22.5 A116.2,116.2 0 0 0 -113.8,23.7 Z" fill="#e2e2e2"/>
<line x1="-113.8" y1="23.7" x2="-120.0" y2="25.0" stroke="#c8c8c8" stroke-width="0.4"/>
<line x1="-114.0" y1="22.5" x2="-120.3" y2="23.8" stroke="#c8c8c8" stroke-width="0.4"/>
<path d="M-120.6,22.0 A122.6,122.6 0 0 1 -121.0,19.6 L-114.7,18.6 A116.2,116.2 0 0 0 -114.3,20.9 Z" fill="#e2e2e2"/>
<line x1="-114.3" y1="20.9" x2="-120.6" y2="22.0" stroke="#c8c8c8" stroke-width="0.4"/>
<line x1="-114.7" y1="18.6" x2="-121.0" y2="19.6" stroke="#c8c8c8" stroke-width="0.4"/>
<path d="M-121.4,17.1 A122.6,122.6 0 0 1 -121.6,15.2 L-115.3,14.4 A116.2,116.2 0 0 0 -115.1,16.2 Z" fill="#b9b9b9"/>
<line x1="-115.1" y1="16.2" x2="-121.4" y2="17.1" stroke="#c8c8c8" stroke-width="0.4"/>
<line x1="-115.3" y1="14.4" x2="-121.6" y2="15.2" stroke="#c8c8c8" stroke-width="0.4"/>
<path d="M-121.8,13.7 A122.6,122.6 0 0 1 -122.0,12.3 L-115.6,11.7 A116.2,116.2 0 0 0 -115.5,13.0 Z" fill="#b9b9b9"/>
<line x1="-115.5" y1="13.0" x2="-121.8" y2="13.7" stroke="#c8c8c8" stroke-width="0.4"/>
<line x1="-115.6" y1="11.7" x2="-122.0" y2="12.3" stroke="#c8c8c8" stroke-width="0.4"/>
<path d="M-122.2,10.2 A122.6,122.6 0 0 1 -122.4,7.6 L-116.0,7.2 A116.2,116.2 0 0 0 -115.8,9.7 Z" fill="#b9b9b9"/>
<line x1="-115.8" y1="9.7" x2="-122.2" y2="10.2" stroke="#c8c8c8" stroke-width="0.4"/>
<line x1="-116.0" y1="7.2" x2="-122.4" y2="7.6" stroke="#c8c8c8" stroke-width="0.4"/>
<path d="M-118.6,31.0 A122.6,122.6 0 0 1 -122.4,6.7 L-116.0,6.4 A116.2,116.2 0 0 0 -112.4,29.4 Z" fill="none" stroke="#8a8a8a" stroke-width="0.55"/>
<text x="0" y="0" font-size="2.8" fill="#777" text-anchor="middle" style="stroke-width:0" transform="translate(-111.8,17.5) rotate(261.1)">chr14</text>
<path d="M-122.6,2.5 A122.6,122.6 0 0 1 -122.6,1.0 L-116.2,0.9 A116.2,116.2 0 0 0 -116.2,2.3 Z" fill="#e2e2e2"/>
<line x1="-116.2" y1="2.3" x2="-122.6" y2="2.5" stroke="#c8c8c8" stroke-width="0.4"/>
<line x1="-116.2" y1="0.9" x2="-122.6" y2="1.0" stroke="#c8c8c8" stroke-width="0.4"/>
<path d="M-122.6,-0.5 A122.6,122.6 0 0 1 -122.6,-1.1 L-116.2,-1.1 A116.2,116.2 0 0 0 -116.2,-0.5 Z" fill="#b84a4a"/>
<line x1="-116.2" y1="-0.5" x2="-122.6" y2="-0.5" stroke="#c8c8c8" stroke-width="0.4"/>
<path d="M-122.6,-1.1 A122.6,122.6 0 0 1 -122.6,-2.6 L-116.2,-2.4 A116.2,116.2 0 0 0 -116.2,-1.1 Z" fill="#222222"/>
<line x1="-116.2" y1="-1.1" x2="-122.6" y2="-1.1" stroke="#c8c8c8" stroke-width="0.4"/>
<line x1="-116.2" y1="-2.4" x2="-122.6" y2="-2.6" stroke="#c8c8c8" stroke-width="0.4"/>
<path d="M-122.5,-4.5 A122.6,122.6 0 0 1 -122.4,-6.4 L-116.0,-6.0 A116.2,116.2 0 0 0 -116.1,-4.2 Z" fill="#222222"/>
<line x1="-116.1" y1="-4.2" x2="-122.5" y2="-4.5" stroke="#c8c8c8" stroke-width="0.4"/>
<line x1="-116.0" y1="-6.0" x2="-122.4" y2="-6.4" stroke="#c8c8c8" stroke-width="0.4"/>
<path d="M-122.3,-8.4 A122.6,122.6 0 0 1 -122.1,-10.9 L-115.7,-10.3 A116.2,116.2 0 0 0 -115.9,-8.0 Z" fill="#222222"/>
<line x1="-115.9" y1="-8.0" x2="-122.3" y2="-8.4" stroke="#c8c8c8" stroke-width="0.4"/>
<line x1="-115.7" y1="-10.3" x2="-122.1" y2="-10.9" stroke="#c8c8c8" stroke-width="0.4"/>
<path d="M-121.9,-13.0 A122.6,122.6 0 0 1 -121.7,-15.2 L-115.3,-14.4 A116.2,116.2 0 0 0 -115.5,-12.3 Z" fill="#222222"/>
<line x1="-115.5" y1="-12.3" x2="-121.9" y2="-13.0" stroke="#c8c8c8" stroke-width="0.4"/>
<line x1="-115.3" y1="-14.4" x2="-121.7" y2="-15.2" stroke="#c8c8c8" stroke-width="0.4"/>
<path d="M-121.4,-17.4 A122.6,122.6 0 0 1 -121.0,-19.9 L-114.7,-18.9 A116.2,116.2 0 0 0 -115.0,-16.5 Z" fill="#222222"/>
<line x1="-115.0" y1="-16.5" x2="-121.4" y2="-17.4" stroke="#c8c8c8" stroke-width="0.4"/>
<path d="M-122.5,3.5 A122.6,122.6 0 0 1 -121.0,-19.9 L-114.7,-18.9 A116.2,116.2 0 0 0 -116.2,3.3 Z" fill="none" stroke="#8a8a8a" stroke-width="0.55"/>
<text x="0" y="0" font-size="2.8" fill="#777" text-anchor="middle" style="stroke-width:0" transform="translate(-112.9,-7.6) rotate(273.8)">chr15</text>
<path d="M-120.0,-25.1 A122.6,122.6 0 0 1 -119.6,-27.0 L-113.3,-25.6 A116.2,116.2 0 0 0 -113.7,-23.8 Z" fill="#7a7a7a"/>
<line x1="-113.7" y1="-23.8" x2="-120.0" y2="-25.1" stroke="#c8c8c8" stroke-width="0.4"/>
<line x1="-113.3" y1="-25.6" x2="-119.6" y2="-27.0" stroke="#c8c8c8" stroke-width="0.4"/>
<path d="M-119.0,-29.5 A122.6,122.6 0 0 1 -118.6,-31.0 L-112.4,-29.3 A116.2,116.2 0 0 0 -112.8,-27.9 Z" fill="#b9b9b9"/>
<line x1="-112.8" y1="-27.9" x2="-119.0" y2="-29.5" stroke="#c8c8c8" stroke-width="0.4"/>
<path d="M-118.6,-31.0 A122.6,122.6 0 0 1 -118.5,-31.5 L-112.3,-29.9 A116.2,116.2 0 0 0 -112.4,-29.3 Z" fill="#b84a4a"/>
<line x1="-112.4" y1="-29.3" x2="-118.6" y2="-31.0" stroke="#c8c8c8" stroke-width="0.4"/>
<line x1="-112.3" y1="-29.9" x2="-118.5" y2="-31.5" stroke="#c8c8c8" stroke-width="0.4"/>
<path d="M-118.1,-32.9 A122.6,122.6 0 0 1 -117.7,-34.2 L-111.6,-32.5 A116.2,116.2 0 0 0 -111.9,-31.2 Z" fill="#7a7a7a"/>
<line x1="-111.9" y1="-31.2" x2="-118.1" y2="-32.9" stroke="#c8c8c8" stroke-width="0.4"/>
<line x1="-111.6" y1="-32.5" x2="-117.7" y2="-34.2" stroke="#c8c8c8" stroke-width="0.4"/>
<path d="M-117.2,-36.1 A122.6,122.6 0 0 1 -116.5,-38.1 L-110.5,-36.1 A116.2,116.2 0 0 0 -111.0,-34.2 Z" fill="#222222"/>
<line x1="-111.0" y1="-34.2" x2="-117.2" y2="-36.1" stroke="#c8c8c8" stroke-width="0.4"/>
<line x1="-110.5" y1="-36.1" x2="-116.5" y2="-38.1" stroke="#c8c8c8" stroke-width="0.4"/>
<path d="M-116.1,-39.3 A122.6,122.6 0 0 1 -115.3,-41.7 L-109.3,-39.6 A116.2,116.2 0 0 0 -110.1,-37.2 Z" fill="#7a7a7a"/>
<line x1="-110.1" y1="-37.2" x2="-116.1" y2="-39.3" stroke="#c8c8c8" stroke-width="0.4"/>
<line x1="-109.3" y1="-39.6" x2="-115.3" y2="-41.7" stroke="#c8c8c8" stroke-width="0.4"/>
<path d="M-120.4,-23.1 A122.6,122.6 0 0 1 -114.8,-43.0 L-108.8,-40.7 A116.2,116.2 0 0 0 -114.1,-21.9 Z" fill="none" stroke="#8a8a8a" stroke-width="0.55"/>
<text x="0" y="0" font-size="2.8" fill="#777" text-anchor="middle" style="stroke-width:0" transform="translate(-109.0,-30.6) rotate(285.7)">chr16</text>
<path d="M-112.7,-48.3 A122.6,122.6 0 0 1 -112.1,-49.6 L-106.3,-47.0 A116.2,116.2 0 0 0 -106.8,-45.8 Z" fill="#222222"/>
<line x1="-106.8" y1="-45.8" x2="-112.7" y2="-48.3" stroke="#c8c8c8" stroke-width="0.4"/>
<line x1="-106.3" y1="-47.0" x2="-112.1" y2="-49.6" stroke="#c8c8c8" stroke-width="0.4"/>
<path d="M-111.6,-50.8 A122.6,122.6 0 0 1 -111.3,-51.3 L-105.5,-48.6 A116.2,116.2 0 0 0 -105.8,-48.1 Z" fill="#b84a4a"/>
<line x1="-105.8" y1="-48.1" x2="-111.6" y2="-50.8" stroke="#c8c8c8" stroke-width="0.4"/>
<path d="M-111.3,-51.3 A122.6,122.6 0 0 1 -110.8,-52.5 L-105.0,-49.8 A116.2,116.2 0 0 0 -105.5,-48.6 Z" fill="#222222"/>
<line x1="-105.5" y1="-48.6" x2="-111.3" y2="-51.3" stroke="#c8c8c8" stroke-width="0.4"/>
<line x1="-105.0" y1="-49.8" x2="-110.8" y2="-52.5" stroke="#c8c8c8" stroke-width="0.4"/>
<path d="M-110.3,-53.6 A122.6,122.6 0 0 1 -109.1,-55.9 L-103.4,-53.0 A116.2,116.2 0 0 0 -104.5,-50.8 Z" fill="#222222"/>
<line x1="-104.5" y1="-50.8" x2="-110.3" y2="-53.6" stroke="#c8c8c8" stroke-width="0.4"/>
<line x1="-103.4" y1="-53.0" x2="-109.1" y2="-55.9" stroke="#c8c8c8" stroke-width="0.4"/>
<path d="M-108.5,-57.0 A122.6,122.6 0 0 1 -108.0,-58.1 L-102.3,-55.0 A116.2,116.2 0 0 0 -102.9,-54.1 Z" fill="#b9b9b9"/>
<line x1="-102.9" y1="-54.1" x2="-108.5" y2="-57.0" stroke="#c8c8c8" stroke-width="0.4"/>
<line x1="-102.3" y1="-55.0" x2="-108.0" y2="-58.1" stroke="#c8c8c8" stroke-width="0.4"/>
<path d="M-107.2,-59.6 A122.6,122.6 0 0 1 -106.3,-61.1 L-100.7,-57.9 A116.2,116.2 0 0 0 -101.6,-56.5 Z" fill="#b9b9b9"/>
<line x1="-101.6" y1="-56.5" x2="-107.2" y2="-59.6" stroke="#c8c8c8" stroke-width="0.4"/>
<line x1="-100.7" y1="-57.9" x2="-106.3" y2="-61.1" stroke="#c8c8c8" stroke-width="0.4"/>
<path d="M-113.7,-46.0 A122.6,122.6 0 0 1 -105.4,-62.6 L-99.9,-59.4 A116.2,116.2 0 0 0 -107.7,-43.6 Z" fill="none" stroke="#8a8a8a" stroke-width="0.55"/>
<text x="0" y="0" font-size="2.8" fill="#777" text-anchor="middle" style="stroke-width:0" transform="translate(-101.4,-50.3) rotate(296.4)">chr17</text>
<path d="M-102.8,-66.8 A122.6,122.6 0 0 1 -101.7,-68.4 L-96.4,-64.9 A116.2,116.2 0 0 0 -97.4,-63.4 Z" fill="#222222"/>
<line x1="-97.4" y1="-63.4" x2="-102.8" y2="-66.8" stroke="#c8c8c8" stroke-width="0.4"/>
<path d="M-101.7,-68.4 A122.6,122.6 0 0 1 -101.4,-68.9 L-96.1,-65.3 A116.2,116.2 0 0 0 -96.4,-64.9 Z" fill="#b84a4a"/>
<line x1="-96.4" y1="-64.9" x2="-101.7" y2="-68.4" stroke="#c8c8c8" stroke-width="0.4"/>
<line x1="-96.1" y1="-65.3" x2="-101.4" y2="-68.9" stroke="#c8c8c8" stroke-width="0.4"/>
<path d="M-100.8,-69.8 A122.6,122.6 0 0 1 -100.0,-70.9 L-94.8,-67.2 A116.2,116.2 0 0 0 -95.5,-66.2 Z" fill="#222222"/>
<line x1="-95.5" y1="-66.2" x2="-100.8" y2="-69.8" stroke="#c8c8c8" stroke-width="0.4"/>
<line x1="-94.8" y1="-67.2" x2="-100.0" y2="-70.9" stroke="#c8c8c8" stroke-width="0.4"/>
<path d="M-98.7,-72.7 A122.6,122.6 0 0 1 -97.1,-74.8 L-92.1,-70.9 A116.2,116.2 0 0 0 -93.5,-68.9 Z" fill="#222222"/>
<line x1="-93.5" y1="-68.9" x2="-98.7" y2="-72.7" stroke="#c8c8c8" stroke-width="0.4"/>
<line x1="-92.1" y1="-70.9" x2="-97.1" y2="-74.8" stroke="#c8c8c8" stroke-width="0.4"/>
<path d="M-95.5,-76.9 A122.6,122.6 0 0 1 -94.7,-77.9 L-89.7,-73.8 A116.2,116.2 0 0 0 -90.5,-72.9 Z" fill="#b9b9b9"/>
<line x1="-90.5" y1="-72.9" x2="-95.5" y2="-76.9" stroke="#c8c8c8" stroke-width="0.4"/>
<line x1="-89.7" y1="-73.8" x2="-94.7" y2="-77.9" stroke="#c8c8c8" stroke-width="0.4"/>
<path d="M-93.5,-79.3 A122.6,122.6 0 0 1 -93.1,-79.8 L-88.2,-75.6 A116.2,116.2 0 0 0 -88.6,-75.2 Z" fill="#222222"/>
<line x1="-88.6" y1="-75.2" x2="-93.5" y2="-79.3" stroke="#c8c8c8" stroke-width="0.4"/>
<path d="M-103.7,-65.4 A122.6,122.6 0 0 1 -93.1,-79.8 L-88.2,-75.6 A116.2,116.2 0 0 0 -98.3,-62.0 Z" fill="none" stroke="#8a8a8a" stroke-width="0.55"/>
<text x="0" y="0" font-size="2.8" fill="#777" text-anchor="middle" style="stroke-width:0" transform="translate(-91.1,-67.2) rotate(306.4)">chr18</text>
<path d="M-90.2,-83.1 A122.6,122.6 0 0 1 -89.4,-83.9 L-84.7,-79.6 A116.2,116.2 0 0 0 -85.5,-78.7 Z" fill="#7a7a7a"/>
<line x1="-85.5" y1="-78.7" x2="-90.2" y2="-83.1" stroke="#c8c8c8" stroke-width="0.4"/>
<line x1="-84.7" y1="-79.6" x2="-89.4" y2="-83.9" stroke="#c8c8c8" stroke-width="0.4"/>
<path d="M-88.6,-84.7 A122.6,122.6 0 0 1 -87.2,-86.2 L-82.7,-81.7 A116.2,116.2 0 0 0 -84.0,-80.3 Z" fill="#222222"/>
<line x1="-84.0" y1="-80.3" x2="-88.6" y2="-84.7" stroke="#c8c8c8" stroke-width="0.4"/>
<line x1="-82.7" y1="-81.7" x2="-87.2" y2="-86.2" stroke="#c8c8c8" stroke-width="0.4"/>
<path d="M-87.0,-86.4 A122.6,122.6 0 0 1 -86.6,-86.8 L-82.0,-82.3 A116.2,116.2 0 0 0 -82.4,-81.9 Z" fill="#b84a4a"/>
<line x1="-82.4" y1="-81.9" x2="-87.0" y2="-86.4" stroke="#c8c8c8" stroke-width="0.4"/>
<path d="M-86.6,-86.8 A122.6,122.6 0 0 1 -85.1,-88.2 L-80.7,-83.6 A116.2,116.2 0 0 0 -82.0,-82.3 Z" fill="#e2e2e2"/>
<line x1="-82.0" y1="-82.3" x2="-86.6" y2="-86.8" stroke="#c8c8c8" stroke-width="0.4"/>
<line x1="-80.7" y1="-83.6" x2="-85.1" y2="-88.2" stroke="#c8c8c8" stroke-width="0.4"/>
<path d="M-84.2,-89.1 A122.6,122.6 0 0 1 -83.2,-90.0 L-78.9,-85.3 A116.2,116.2 0 0 0 -79.8,-84.5 Z" fill="#222222"/>
<line x1="-79.8" y1="-84.5" x2="-84.2" y2="-89.1" stroke="#c8c8c8" stroke-width="0.4"/>
<line x1="-78.9" y1="-85.3" x2="-83.2" y2="-90.0" stroke="#c8c8c8" stroke-width="0.4"/>
<path d="M-82.2,-91.0 A122.6,122.6 0 0 1 -81.3,-91.7 L-77.1,-86.9 A116.2,116.2 0 0 0 -77.9,-86.2 Z" fill="#e2e2e2"/>
<line x1="-77.9" y1="-86.2" x2="-82.2" y2="-91.0" stroke="#c8c8c8" stroke-width="0.4"/>
<path d="M-91.0,-82.2 A122.6,122.6 0 0 1 -81.3,-91.7 L-77.1,-86.9 A116.2,116.2 0 0 0 -86.2,-77.9 Z" fill="none" stroke="#8a8a8a" stroke-width="0.55"/>
<text x="0" y="0" font-size="2.8" fill="#777" text-anchor="middle" style="stroke-width:0" transform="translate(-79.7,-80.4) rotate(315.3)">chr19</text>
<path d="M-77.9,-94.6 A122.6,122.6 0 0 1 -76.2,-96.0 L-72.2,-91.0 A116.2,116.2 0 0 0 -73.9,-89.7 Z" fill="#e2e2e2"/>
<line x1="-73.9" y1="-89.7" x2="-77.9" y2="-94.6" stroke="#c8c8c8" stroke-width="0.4"/>
<line x1="-72.2" y1="-91.0" x2="-76.2" y2="-96.0" stroke="#c8c8c8" stroke-width="0.4"/>
<path d="M-75.3,-96.7 A122.6,122.6 0 0 1 -74.4,-97.5 L-70.5,-92.4 A116.2,116.2 0 0 0 -71.4,-91.7 Z" fill="#222222"/>
<line x1="-71.4" y1="-91.7" x2="-75.3" y2="-96.7" stroke="#c8c8c8" stroke-width="0.4"/>
<line x1="-70.5" y1="-92.4" x2="-74.4" y2="-97.5" stroke="#c8c8c8" stroke-width="0.4"/>
<path d="M-74.2,-97.6 A122.6,122.6 0 0 1 -73.7,-97.9 L-69.9,-92.8 A116.2,116.2 0 0 0 -70.3,-92.5 Z" fill="#b84a4a"/>
<line x1="-70.3" y1="-92.5" x2="-74.2" y2="-97.6" stroke="#c8c8c8" stroke-width="0.4"/>
<path d="M-73.7,-97.9 A122.6,122.6 0 0 1 -72.3,-99.0 L-68.5,-93.8 A116.2,116.2 0 0 0 -69.9,-92.8 Z" fill="#b9b9b9"/>
<line x1="-69.9" y1="-92.8" x2="-73.7" y2="-97.9" stroke="#c8c8c8" stroke-width="0.4"/>
<line x1="-68.5" y1="-93.8" x2="-72.3" y2="-99.0" stroke="#c8c8c8" stroke-width="0.4"/>
<path d="M-71.0,-100.0 A122.6,122.6 0 0 1 -69.8,-100.8 L-66.2,-95.5 A116.2,116.2 0 0 0 -67.3,-94.7 Z" fill="#b9b9b9"/>
<line x1="-67.3" y1="-94.7" x2="-71.0" y2="-100.0" stroke="#c8c8c8" stroke-width="0.4"/>
<line x1="-66.2" y1="-95.5" x2="-69.8" y2="-100.8" stroke="#c8c8c8" stroke-width="0.4"/>
<path d="M-68.5,-101.7 A122.6,122.6 0 0 1 -67.3,-102.5 L-63.8,-97.1 A116.2,116.2 0 0 0 -64.9,-96.4 Z" fill="#222222"/>
<line x1="-64.9" y1="-96.4" x2="-68.5" y2="-101.7" stroke="#c8c8c8" stroke-width="0.4"/>
<path d="M-78.9,-93.8 A122.6,122.6 0 0 1 -67.3,-102.5 L-63.8,-97.1 A116.2,116.2 0 0 0 -74.8,-88.9 Z" fill="none" stroke="#8a8a8a" stroke-width="0.55"/>
<text x="0" y="0" font-size="2.8" fill="#777" text-anchor="middle" style="stroke-width:0" transform="translate(-67.6,-90.8) rotate(323.3)">chr20</text>
<path d="M-63.1,-105.1 A122.6,122.6 0 0 1 -62.3,-105.6 L-59.0,-100.1 A116.2,116.2 0 0 0 -59.8,-99.6 Z" fill="#222222"/>
<line x1="-59.8" y1="-99.6" x2="-63.1" y2="-105.1" stroke="#c8c8c8" stroke-width="0.4"/>
<path d="M-62.3,-105.6 A122.6,122.6 0 0 1 -61.8,-105.9 L-58.5,-100.4 A116.2,116.2 0 0 0 -59.0,-100.1 Z" fill="#b84a4a"/>
<line x1="-59.0" y1="-100.1" x2="-62.3" y2="-105.6" stroke="#c8c8c8" stroke-width="0.4"/>
<line x1="-58.5" y1="-100.4" x2="-61.8" y2="-105.9" stroke="#c8c8c8" stroke-width="0.4"/>
<path d="M-60.3,-106.8 A122.6,122.6 0 0 1 -59.1,-107.4 L-56.0,-101.8 A116.2,116.2 0 0 0 -57.1,-101.2 Z" fill="#222222"/>
<line x1="-57.1" y1="-101.2" x2="-60.3" y2="-106.8" stroke="#c8c8c8" stroke-width="0.4"/>
<line x1="-56.0" y1="-101.8" x2="-59.1" y2="-107.4" stroke="#c8c8c8" stroke-width="0.4"/>
<path d="M-57.9,-108.1 A122.6,122.6 0 0 1 -56.2,-109.0 L-53.3,-103.3 A116.2,116.2 0 0 0 -54.9,-102.4 Z" fill="#222222"/>
<line x1="-54.9" y1="-102.4" x2="-57.9" y2="-108.1" stroke="#c8c8c8" stroke-width="0.4"/>
<line x1="-53.3" y1="-103.3" x2="-56.2" y2="-109.0" stroke="#c8c8c8" stroke-width="0.4"/>
<path d="M-55.3,-109.4 A122.6,122.6 0 0 1 -55.0,-109.6 L-52.1,-103.9 A116.2,116.2 0 0 0 -52.4,-103.7 Z" fill="#222222"/>
<line x1="-52.4" y1="-103.7" x2="-55.3" y2="-109.4" stroke="#c8c8c8" stroke-width="0.4"/>
<path d="M-64.6,-104.2 A122.6,122.6 0 0 1 -55.0,-109.6 L-52.1,-103.9 A116.2,116.2 0 0 0 -61.2,-98.8 Z" fill="none" stroke="#8a8a8a" stroke-width="0.55"/>
<text x="0" y="0" font-size="2.8" fill="#777" text-anchor="middle" style="stroke-width:0" transform="translate(-55.3,-98.8) rotate(330.8)">chr21</text>
<path d="M-49.7,-112.1 A122.6,122.6 0 0 1 -49.3,-112.2 L-46.7,-106.4 A116.2,116.2 0 0 0 -47.1,-106.2 Z" fill="#7a7a7a"/>
<line x1="-47.1" y1="-106.2" x2="-49.7" y2="-112.1" stroke="#c8c8c8" stroke-width="0.4"/>
<path d="M-49.3,-112.2 A122.6,122.6 0 0 1 -48.8,-112.5 L-46.2,-106.6 A116.2,116.2 0 0 0 -46.7,-106.4 Z" fill="#b84a4a"/>
<line x1="-46.7" y1="-106.4" x2="-49.3" y2="-112.2" stroke="#c8c8c8" stroke-width="0.4"/>
<line x1="-46.2" y1="-106.6" x2="-48.8" y2="-112.5" stroke="#c8c8c8" stroke-width="0.4"/>
<path d="M-46.9,-113.3 A122.6,122.6 0 0 1 -45.6,-113.8 L-43.3,-107.8 A116.2,116.2 0 0 0 -44.5,-107.4 Z" fill="#e2e2e2"/>
<line x1="-44.5" y1="-107.4" x2="-46.9" y2="-113.3" stroke="#c8c8c8" stroke-width="0.4"/>
<line x1="-43.3" y1="-107.8" x2="-45.6" y2="-113.8" stroke="#c8c8c8" stroke-width="0.4"/>
<path d="M-43.7,-114.5 A122.6,122.6 0 0 1 -42.2,-115.1 L-40.0,-109.1 A116.2,116.2 0 0 0 -41.5,-108.6 Z" fill="#222222"/>
<line x1="-41.5" y1="-108.6" x2="-43.7" y2="-114.5" stroke="#c8c8c8" stroke-width="0.4"/>
<line x1="-40.0" y1="-109.1" x2="-42.2" y2="-115.1" stroke="#c8c8c8" stroke-width="0.4"/>
<path d="M-52.1,-111.0 A122.6,122.6 0 0 1 -41.2,-115.5 L-39.1,-109.4 A116.2,116.2 0 0 0 -49.4,-105.2 Z" fill="none" stroke="#8a8a8a" stroke-width="0.55"/>
<text x="0" y="0" font-size="2.8" fill="#777" text-anchor="middle" style="stroke-width:0" transform="translate(-43.1,-104.7) rotate(337.6)">chr22</text>
<path d="M-36.0,-117.2 A122.6,122.6 0 0 1 -34.7,-117.6 L-32.9,-111.4 A116.2,116.2 0 0 0 -34.1,-111.1 Z" fill="#7a7a7a"/>
<line x1="-34.1" y1="-111.1" x2="-36.0" y2="-117.2" stroke="#c8c8c8" stroke-width="0.4"/>
<line x1="-32.9" y1="-111.4" x2="-34.7" y2="-117.6" stroke="#c8c8c8" stroke-width="0.4"/>
<path d="M-32.2,-118.3 A122.6,122.6 0 0 1 -31.0,-118.6 L-29.4,-112.4 A116.2,116.2 0 0 0 -30.5,-112.1 Z" fill="#7a7a7a"/>
<line x1="-30.5" y1="-112.1" x2="-32.2" y2="-118.3" stroke="#c8c8c8" stroke-width="0.4"/>
<line x1="-29.4" y1="-112.4" x2="-31.0" y2="-118.6" stroke="#c8c8c8" stroke-width="0.4"/>
<path d="M-29.4,-119.0 A122.6,122.6 0 0 1 -27.5,-119.5 L-26.1,-113.2 A116.2,116.2 0 0 0 -27.9,-112.8 Z" fill="#b9b9b9"/>
<line x1="-27.9" y1="-112.8" x2="-29.4" y2="-119.0" stroke="#c8c8c8" stroke-width="0.4"/>
<line x1="-26.1" y1="-113.2" x2="-27.5" y2="-119.5" stroke="#c8c8c8" stroke-width="0.4"/>
<path d="M-25.9,-119.8 A122.6,122.6 0 0 1 -25.1,-120.0 L-23.7,-113.7 A116.2,116.2 0 0 0 -24.5,-113.6 Z" fill="#222222"/>
<line x1="-24.5" y1="-113.6" x2="-25.9" y2="-119.8" stroke="#c8c8c8" stroke-width="0.4"/>
<path d="M-25.1,-120.0 A122.6,122.6 0 0 1 -24.5,-120.1 L-23.2,-113.9 A116.2,116.2 0 0 0 -23.7,-113.7 Z" fill="#b84a4a"/>
<line x1="-23.7" y1="-113.7" x2="-25.1" y2="-120.0" stroke="#c8c8c8" stroke-width="0.4"/>
<line x1="-23.2" y1="-113.9" x2="-24.5" y2="-120.1" stroke="#c8c8c8" stroke-width="0.4"/>
<path d="M-23.2,-120.4 A122.6,122.6 0 0 1 -21.8,-120.6 L-20.6,-114.4 A116.2,116.2 0 0 0 -21.9,-114.1 Z" fill="#222222"/>
<line x1="-21.9" y1="-114.1" x2="-23.2" y2="-120.4" stroke="#c8c8c8" stroke-width="0.4"/>
<line x1="-20.6" y1="-114.4" x2="-21.8" y2="-120.6" stroke="#c8c8c8" stroke-width="0.4"/>
<path d="M-20.5,-120.9 A122.6,122.6 0 0 1 -18.1,-121.3 L-17.1,-114.9 A116.2,116.2 0 0 0 -19.4,-114.6 Z" fill="#222222"/>
<line x1="-19.4" y1="-114.6" x2="-20.5" y2="-120.9" stroke="#c8c8c8" stroke-width="0.4"/>
<line x1="-17.1" y1="-114.9" x2="-18.1" y2="-121.3" stroke="#c8c8c8" stroke-width="0.4"/>
<path d="M-16.5,-121.5 A122.6,122.6 0 0 1 -15.4,-121.6 L-14.5,-115.3 A116.2,116.2 0 0 0 -15.7,-115.1 Z" fill="#b9b9b9"/>
<line x1="-15.7" y1="-115.1" x2="-16.5" y2="-121.5" stroke="#c8c8c8" stroke-width="0.4"/>
<line x1="-14.5" y1="-115.3" x2="-15.4" y2="-121.6" stroke="#c8c8c8" stroke-width="0.4"/>
<path d="M-12.8,-121.9 A122.6,122.6 0 0 1 -10.1,-122.2 L-9.6,-115.8 A116.2,116.2 0 0 0 -12.1,-115.6 Z" fill="#222222"/>
<line x1="-12.1" y1="-115.6" x2="-12.8" y2="-121.9" stroke="#c8c8c8" stroke-width="0.4"/>
<line x1="-9.6" y1="-115.8" x2="-10.1" y2="-122.2" stroke="#c8c8c8" stroke-width="0.4"/>
<path d="M-7.5,-122.4 A122.6,122.6 0 0 1 -6.4,-122.4 L-6.1,-116.0 A116.2,116.2 0 0 0 -7.1,-116.0 Z" fill="#e2e2e2"/>
<line x1="-7.1" y1="-116.0" x2="-7.5" y2="-122.4" stroke="#c8c8c8" stroke-width="0.4"/>
<line x1="-6.1" y1="-116.0" x2="-6.4" y2="-122.4" stroke="#c8c8c8" stroke-width="0.4"/>
<path d="M-4.9,-122.5 A122.6,122.6 0 0 1 -3.2,-122.6 L-3.0,-116.2 A116.2,116.2 0 0 0 -4.6,-116.1 Z" fill="#222222"/>
<line x1="-4.6" y1="-116.1" x2="-4.9" y2="-122.5" stroke="#c8c8c8" stroke-width="0.4"/>
<path d="M-38.2,-116.5 A122.6,122.6 0 0 1 -3.2,-122.6 L-3.0,-116.2 A116.2,116.2 0 0 0 -36.2,-110.4 Z" fill="none" stroke="#8a8a8a" stroke-width="0.55"/>
<text x="0" y="0" font-size="2.8" fill="#777" text-anchor="middle" style="stroke-width:0" transform="translate(-19.3,-111.5) rotate(350.2)">chrX</text>
</g></defs>
<use href="#ideo" transform="translate(138.3,348.6)"/>
<path d="M138.3,246.2 A102.4,102.4 0 0 1 184.3,257.1 L186.5,253.0 L185.8,252.6 L185.3,251.7 L184.6,251.4 L184.0,250.8 L183.7,249.7 L182.6,250.0 L181.9,249.8 L181.7,248.2 L181.1,247.5 L180.2,247.7 L179.8,246.6 L178.7,247.2 L178.5,245.4 L177.9,244.7 L176.6,246.1 L176.1,244.9 L175.6,244.0 L175.0,243.4 L173.6,244.7 L173.4,243.0 L172.5,243.2 L171.3,244.0 L170.5,244.0 L169.9,243.4 L169.0,243.5 L168.3,243.1 L167.6,242.6 L166.3,244.4 L165.7,243.5 L164.7,244.3 L164.1,243.4 L163.2,244.0 L162.3,244.4 L160.5,248.6 L159.8,248.5 L159.0,248.3 L158.3,248.2 L157.6,248.0 L156.9,247.9 L156.1,247.8 L155.4,247.6 L154.6,247.5 L153.9,247.4 L153.2,247.3 L152.4,247.2 L151.7,247.1 L151.0,247.0 L150.2,246.9 L149.5,246.8 L148.7,246.7 L148.0,246.7 L147.2,246.6 L146.5,246.5 L145.8,246.5 L145.0,246.4 L144.3,246.4 L143.5,246.3 L142.8,246.3 L142.0,246.3 L141.3,246.2 L140.5,246.2 L139.8,246.2 L139.0,246.2 L138.3,246.2 Z" fill="#DEAE74" stroke="#b98a50" stroke-width="0.55" stroke-linejoin="round"/>
<path d="M186.7,258.4 A102.4,102.4 0 0 1 221.5,288.8 L223.3,287.5 L222.5,287.1 L222.3,286.4 L222.0,285.6 L221.5,285.0 L220.8,284.6 L220.6,283.8 L220.4,282.9 L220.1,282.2 L219.7,281.5 L219.2,280.9 L218.2,280.7 L218.0,279.9 L217.9,278.9 L217.2,278.6 L216.4,278.2 L216.3,277.3 L215.8,276.7 L214.9,276.5 L214.4,275.9 L213.9,275.3 L214.0,274.1 L213.2,273.9 L212.4,273.5 L212.4,272.4 L211.3,272.4 L211.1,271.5 L210.6,270.9 L209.7,270.7 L209.6,269.7 L208.6,269.7 L208.1,269.0 L207.6,268.4 L207.2,267.7 L206.7,267.1 L206.0,266.7 L205.3,266.3 L204.9,265.6 L204.1,265.3 L203.4,264.9 L202.9,264.3 L202.1,264.1 L201.3,263.9 L200.4,263.7 L200.1,262.8 L199.7,262.1 L198.6,262.3 L198.0,261.8 L197.3,261.6 L196.6,261.1 L196.3,260.2 L195.6,259.9 L194.6,260.0 L193.9,259.7 L193.2,259.4 L192.5,258.9 L191.9,258.4 L191.4,257.9 L190.4,258.1 L189.7,257.7 L189.0,257.4 L188.2,257.2 L187.7,256.5 Z" fill="#DEAE74" stroke="#b98a50" stroke-width="0.55" stroke-linejoin="round"/>
<path d="M223.0,291.0 A102.4,102.4 0 0 1 238.1,325.6 L239.8,325.2 L239.4,324.5 L239.3,323.7 L239.3,323.0 L239.5,322.1 L239.4,321.3 L239.0,320.6 L238.8,319.9 L238.9,319.0 L238.5,318.3 L238.4,317.6 L238.8,316.6 L237.8,316.1 L237.6,315.4 L237.8,314.5 L237.5,313.8 L237.1,313.1 L236.8,312.4 L236.6,311.6 L236.4,310.8 L236.2,310.1 L236.5,309.2 L235.6,308.7 L235.2,308.0 L235.1,307.2 L234.8,306.4 L234.9,305.6 L233.8,305.2 L234.0,304.3 L233.7,303.5 L233.2,302.9 L232.7,302.3 L232.0,301.8 L231.5,301.1 L231.7,300.2 L231.1,299.6 L230.2,299.2 L230.3,298.3 L229.8,297.6 L229.0,297.2 L228.9,296.4 L227.9,296.0 L227.6,295.4 L225.9,295.5 L225.5,294.9 L225.1,294.2 L224.7,293.6 L224.2,292.9 L223.8,292.3 L223.4,291.7 L223.0,291.0 Z" fill="#DEAE74" stroke="#b98a50" stroke-width="0.55" stroke-linejoin="round"/>
<path d="M225.7,402.0 A102.4,102.4 0 0 1 204.5,426.8 L205.4,427.9 L206.1,427.6 L206.7,427.1 L207.2,426.5 L207.6,425.8 L208.2,425.3 L208.7,424.8 L209.3,424.3 L209.9,423.8 L210.4,423.2 L211.2,423.0 L211.5,422.2 L212.1,421.8 L212.7,421.3 L213.3,420.8 L213.8,420.3 L214.3,419.7 L214.8,419.1 L215.3,418.6 L215.8,418.0 L216.2,417.3 L216.6,416.6 L217.1,416.1 L217.7,415.6 L218.0,414.9 L218.8,414.5 L219.3,414.0 L219.6,413.2 L220.2,412.7 L220.6,412.1 L220.9,411.4 L220.3,410.0 L220.7,409.4 L221.1,408.8 L221.6,408.2 L222.0,407.6 L222.4,407.0 L222.9,406.3 L223.3,405.7 L223.7,405.1 L224.1,404.5 L224.5,403.9 L224.9,403.2 L225.3,402.6 L225.7,402.0 Z" fill="#DEAE74" stroke="#b98a50" stroke-width="0.55" stroke-linejoin="round"/>
<path d="M202.4,428.5 A102.4,102.4 0 0 1 176.1,443.7 L177.0,445.9 L177.9,446.0 L178.5,445.4 L179.3,445.4 L180.2,445.5 L181.2,445.8 L181.8,445.1 L182.7,445.2 L183.4,444.8 L184.2,444.7 L185.0,444.6 L185.4,443.6 L186.1,443.2 L187.0,443.2 L188.0,443.4 L188.9,443.4 L189.5,442.9 L190.1,442.3 L190.4,441.2 L191.6,441.8 L192.3,441.4 L193.1,441.2 L193.2,439.7 L194.2,439.8 L194.8,439.3 L195.3,438.7 L196.0,438.1 L196.7,437.8 L197.5,437.6 L197.7,436.5 L198.3,435.9 L199.4,436.1 L199.6,435.1 L200.1,434.4 L201.1,434.5 L201.7,433.9 L202.0,433.1 L202.3,432.1 L203.0,431.7 L203.6,431.2 L204.0,430.5 Z" fill="#DEAE74" stroke="#b98a50" stroke-width="0.55" stroke-linejoin="round"/>
<path d="M173.6,444.7 A102.4,102.4 0 0 1 146.3,450.7 L146.5,453.3 L147.3,453.2 L148.1,453.2 L148.9,453.5 L149.7,453.7 L150.5,453.5 L151.4,454.4 L152.1,454.1 L153.0,454.3 L153.8,454.5 L154.5,454.2 L155.3,454.3 L156.0,453.5 L156.9,453.8 L157.8,454.2 L158.4,453.6 L159.3,453.6 L160.0,453.5 L160.7,452.9 L161.3,451.9 L162.0,451.6 L162.9,451.8 L163.7,451.7 L164.4,451.3 L165.0,450.6 L165.7,450.2 L165.7,447.3 L166.4,447.1 L167.2,446.8 L167.9,446.6 L168.6,446.4 L169.3,446.2 L170.1,445.9 L170.8,445.7 L171.5,445.5 L172.2,445.2 L172.9,445.0 L173.6,444.7 Z" fill="#DEAE74" stroke="#b98a50" stroke-width="0.55" stroke-linejoin="round"/>
<path d="M114.1,448.1 A102.4,102.4 0 0 1 90.0,438.9 L90.0,438.9 L90.6,439.2 L91.3,439.6 L92.0,439.9 L92.0,441.7 L92.7,442.0 L93.3,442.5 L94.2,442.4 L94.9,442.8 L95.6,443.1 L96.2,443.7 L96.8,444.1 L97.7,444.1 L98.3,444.5 L99.1,444.8 L99.8,445.1 L100.5,445.3 L101.2,445.8 L102.0,445.7 L102.6,446.3 L103.4,446.6 L104.1,446.8 L104.8,447.2 L105.6,447.3 L106.3,447.6 L107.0,447.8 L107.8,448.1 L108.5,448.2 L109.4,448.2 L110.0,448.7 L110.9,448.6 L111.9,447.5 L112.7,447.7 L113.4,447.9 L114.1,448.1 Z" fill="#DEAE74" stroke="#b98a50" stroke-width="0.55" stroke-linejoin="round"/>
<path d="M87.6,437.6 A102.4,102.4 0 0 1 67.0,422.1 L65.0,424.2 L65.8,424.5 L65.9,425.5 L66.7,425.8 L67.4,426.1 L68.1,426.6 L68.4,427.3 L68.9,427.9 L69.7,428.3 L70.1,429.0 L70.7,429.4 L71.4,429.8 L72.0,430.4 L72.6,430.8 L73.2,431.3 L74.1,431.5 L74.3,432.6 L75.0,432.9 L75.6,433.5 L76.5,433.4 L77.1,434.0 L77.7,434.5 L78.4,434.9 L78.7,435.7 L81.1,433.6 L81.8,434.0 L82.4,434.4 L83.1,434.8 L83.7,435.2 L84.3,435.6 L85.0,436.0 L85.6,436.4 L86.3,436.8 L87.0,437.2 L87.6,437.6 Z" fill="#DEAE74" stroke="#b98a50" stroke-width="0.55" stroke-linejoin="round"/>
<path d="M65.1,420.2 A102.4,102.4 0 0 1 49.6,399.8 L45.3,402.3 L46.0,402.8 L46.2,403.6 L46.8,404.2 L47.1,404.9 L47.2,405.8 L47.7,406.4 L49.1,406.4 L49.0,407.5 L50.3,407.5 L50.0,408.7 L50.6,409.2 L51.9,409.3 L52.2,410.0 L52.3,410.9 L53.3,411.1 L53.3,412.1 L54.2,412.4 L54.5,413.2 L55.4,413.5 L56.2,413.8 L56.2,414.7 L57.2,415.0 L57.5,415.7 L58.1,416.2 L58.8,416.6 L59.1,417.4 L59.8,417.8 L60.3,418.4 L60.8,419.0 L61.6,419.3 L62.0,420.0 L62.9,420.2 L63.3,420.9 L64.1,421.1 Z" fill="#DEAE74" stroke="#b98a50" stroke-width="0.55" stroke-linejoin="round"/>
<path d="M48.3,397.5 A102.4,102.4 0 0 1 39.9,377.1 L39.9,377.1 L40.2,377.8 L40.4,378.6 L38.9,379.8 L38.3,380.8 L36.9,382.1 L36.2,383.2 L35.4,384.3 L35.1,385.3 L35.6,386.0 L36.4,386.5 L38.0,386.8 L39.9,386.9 L40.4,387.5 L42.4,387.6 L43.7,387.9 L44.0,388.6 L44.3,389.3 L44.6,390.0 L44.9,390.7 L45.3,391.4 L45.6,392.0 L45.9,392.7 L46.2,393.4 L46.6,394.1 L46.9,394.8 L47.2,395.5 L47.6,396.1 L48.0,396.8 L48.3,397.5 Z" fill="#DEAE74" stroke="#b98a50" stroke-width="0.55" stroke-linejoin="round"/>
<path d="M37.7,329.3 A102.4,102.4 0 0 1 42.4,312.7 L42.4,312.7 L42.1,313.4 L41.9,314.1 L39.5,314.1 L39.2,314.8 L39.1,315.6 L38.0,316.0 L37.8,316.8 L37.3,317.4 L37.1,318.2 L37.4,319.1 L36.4,319.6 L36.8,320.5 L36.3,321.2 L36.6,322.1 L36.6,322.9 L36.3,323.6 L36.7,324.5 L36.4,325.2 L38.3,326.4 L38.2,327.1 L38.0,327.9 L37.9,328.6 L37.7,329.3 Z" fill="#DEAE74" stroke="#b98a50" stroke-width="0.55" stroke-linejoin="round"/>
<path d="M43.4,310.2 A102.4,102.4 0 0 1 50.3,296.3 L48.2,295.0 L47.6,295.6 L47.4,296.4 L46.6,296.9 L46.2,297.6 L46.3,298.5 L46.0,299.3 L45.5,299.9 L45.3,300.7 L46.9,302.4 L46.6,303.1 L46.2,303.8 L45.9,304.5 L45.5,305.2 L45.2,305.9 L44.9,306.6 L44.6,307.3 L44.3,308.0 L44.0,308.8 L43.7,309.5 L43.4,310.2 Z" fill="#DEAE74" stroke="#b98a50" stroke-width="0.55" stroke-linejoin="round"/>
<path d="M51.7,294.0 A102.4,102.4 0 0 1 60.6,282.0 L58.5,280.2 L57.8,280.6 L56.8,280.8 L56.5,281.6 L55.4,281.6 L55.4,282.7 L54.3,282.8 L53.3,283.0 L53.3,283.9 L52.9,284.6 L51.9,284.9 L51.6,285.6 L51.0,286.1 L50.8,286.9 L51.3,288.2 L50.7,288.8 L50.1,289.3 L49.7,290.0 L49.6,290.9 L49.5,291.7 L49.3,292.5 Z" fill="#DEAE74" stroke="#b98a50" stroke-width="0.55" stroke-linejoin="round"/>
<path d="M62.3,279.9 A102.4,102.4 0 0 1 70.4,272.0 L70.4,272.0 L69.8,272.5 L68.2,271.9 L67.5,272.2 L67.0,272.8 L66.5,273.4 L65.8,273.7 L65.5,274.6 L65.0,275.1 L64.2,275.4 L63.8,276.1 L63.2,276.6 L62.7,277.1 L63.3,278.8 L62.8,279.4 L62.3,279.9 Z" fill="#DEAE74" stroke="#b98a50" stroke-width="0.55" stroke-linejoin="round"/>
<path d="M84.3,261.6 A102.4,102.4 0 0 1 92.4,257.1 L92.4,257.1 L91.7,257.4 L91.0,257.8 L89.8,257.1 L88.7,256.8 L87.7,256.5 L87.2,257.2 L86.5,257.6 L86.1,258.6 L86.3,260.4 L85.6,260.8 L85.0,261.2 L84.3,261.6 Z" fill="#DEAE74" stroke="#b98a50" stroke-width="0.55" stroke-linejoin="round"/>
<path d="M94.8,255.9 A102.4,102.4 0 0 1 103.9,252.2 L103.9,252.2 L103.2,252.4 L101.8,250.9 L101.1,251.4 L100.3,251.4 L99.6,251.6 L98.9,252.1 L98.1,252.2 L97.5,252.6 L96.7,252.8 L96.8,255.0 L96.2,255.3 L95.5,255.6 L94.8,255.9 Z" fill="#DEAE74" stroke="#b98a50" stroke-width="0.55" stroke-linejoin="round"/>
<path d="M106.4,251.3 A102.4,102.4 0 0 1 135.6,246.2 L135.5,241.9 L134.7,241.9 L133.9,240.8 L133.1,241.7 L132.3,242.0 L131.5,242.0 L130.7,242.0 L129.9,242.0 L129.2,242.2 L128.3,242.0 L127.5,242.0 L126.7,241.4 L126.0,242.3 L125.1,241.7 L124.3,242.1 L123.5,242.2 L122.7,242.2 L122.1,243.2 L121.2,243.0 L120.5,243.5 L119.5,242.5 L118.8,243.1 L118.1,243.4 L117.3,243.4 L116.4,243.4 L115.6,243.2 L114.8,243.7 L114.1,244.1 L113.5,244.8 L112.5,244.1 L111.6,244.0 L111.1,245.0 L110.4,245.8 L109.6,245.7 L108.9,246.2 L108.0,245.9 L107.1,245.8 L106.4,246.3 L105.5,246.0 L105.0,247.0 Z" fill="#DEAE74" stroke="#b98a50" stroke-width="0.55" stroke-linejoin="round"/>
<path d="M138.3,258.4 A90.2,90.2 0 0 1 178.9,268.0 L179.8,266.2 L179.3,265.6 L178.7,265.4 L178.2,264.9 L177.6,264.5 L177.3,263.5 L176.8,262.9 L176.1,262.8 L175.8,261.8 L175.3,261.3 L174.7,260.9 L174.1,260.5 L173.6,260.0 L172.7,260.4 L172.2,259.6 L171.6,259.4 L171.3,258.1 L170.6,258.1 L169.8,258.2 L169.3,257.5 L168.6,257.4 L168.1,256.7 L167.6,255.8 L167.0,255.5 L166.2,255.5 L165.6,255.1 L164.9,254.9 L164.0,255.8 L162.9,256.9 L162.2,256.8 L161.3,257.8 L160.2,259.2 L159.1,260.8 L158.5,260.7 L157.9,260.5 L157.2,260.4 L156.6,260.3 L155.9,260.1 L155.3,260.0 L154.6,259.9 L154.0,259.8 L153.3,259.7 L152.7,259.6 L152.0,259.5 L151.4,259.4 L150.7,259.3 L150.1,259.2 L149.4,259.1 L148.8,259.0 L148.1,258.9 L147.5,258.9 L146.8,258.8 L146.2,258.7 L145.5,258.7 L144.9,258.6 L144.2,258.6 L143.6,258.6 L142.9,258.5 L142.2,258.5 L141.6,258.5 L140.9,258.4 L140.3,258.4 L139.6,258.4 L139.0,258.4 L138.3,258.4 Z" fill="#86D5D3" stroke="#4fb0ae" stroke-width="0.55" stroke-linejoin="round"/>
<path d="M194.8,418.9 A90.2,90.2 0 0 1 171.6,432.4 L172.4,434.4 L173.0,433.9 L173.7,433.8 L174.5,434.1 L175.0,433.5 L175.8,433.5 L176.5,433.3 L177.1,433.0 L177.6,432.5 L178.6,433.0 L179.0,432.3 L179.6,431.9 L180.3,431.7 L180.9,431.4 L181.9,431.8 L182.2,430.9 L183.0,430.9 L183.8,431.0 L184.3,430.4 L184.7,429.7 L185.7,430.0 L186.0,429.1 L186.7,429.0 L187.2,428.5 L187.9,428.3 L188.2,427.3 L188.9,427.2 L189.6,426.9 L190.1,426.5 L190.6,425.9 L191.1,425.5 L191.8,425.2 L191.9,424.2 L192.8,424.3 L193.0,423.4 L193.9,423.4 L194.0,422.4 L194.7,422.2 L194.9,421.3 L195.4,420.8 L195.9,420.3 Z" fill="#86D5D3" stroke="#4fb0ae" stroke-width="0.55" stroke-linejoin="round"/>
<path d="M73.8,411.7 A90.2,90.2 0 0 1 60.2,393.7 L60.2,393.7 L60.5,394.3 L60.9,394.9 L61.2,395.4 L61.6,396.0 L61.9,396.6 L62.3,397.1 L61.8,398.2 L62.3,398.7 L62.5,399.4 L63.0,399.8 L63.2,400.5 L63.7,401.0 L64.1,401.5 L64.5,402.0 L64.8,402.7 L65.3,403.1 L65.5,403.8 L66.1,404.2 L66.3,404.9 L67.0,405.2 L67.4,405.8 L67.6,406.4 L68.3,406.8 L68.5,407.4 L69.1,407.8 L69.5,408.4 L69.9,408.9 L71.1,408.8 L71.5,409.2 L72.0,409.7 L72.4,410.2 L72.9,410.7 L73.3,411.2 L73.8,411.7 Z" fill="#86D5D3" stroke="#4fb0ae" stroke-width="0.55" stroke-linejoin="round"/>
<path d="M138.3,270.6 A78.0,78.0 0 0 1 173.4,278.9 L174.4,276.9 L173.8,276.7 L173.5,276.1 L173.2,275.4 L172.6,275.2 L172.2,274.7 L171.5,274.8 L171.4,273.5 L170.7,273.7 L170.5,272.6 L169.9,272.4 L169.2,272.7 L168.8,271.9 L168.2,271.9 L168.0,270.7 L167.2,271.0 L166.8,270.4 L166.5,269.4 L165.6,270.3 L165.2,269.4 L164.7,269.2 L164.3,268.4 L163.5,268.8 L163.0,268.3 L162.4,268.3 L161.8,268.0 L161.1,268.2 L160.8,267.0 L159.7,269.0 L159.1,269.0 L158.1,270.4 L157.4,270.8 L156.3,272.7 L155.8,272.6 L155.2,272.5 L154.7,272.3 L154.1,272.2 L153.5,272.1 L153.0,272.0 L152.4,271.9 L151.9,271.8 L151.3,271.7 L150.8,271.6 L150.2,271.5 L149.6,271.4 L149.1,271.3 L148.5,271.3 L147.9,271.2 L147.4,271.1 L146.8,271.1 L146.2,271.0 L145.7,270.9 L145.1,270.9 L144.5,270.9 L144.0,270.8 L143.4,270.8 L142.8,270.7 L142.3,270.7 L141.7,270.7 L141.1,270.7 L140.6,270.6 L140.0,270.6 L139.4,270.6 L138.9,270.6 L138.3,270.6 Z" fill="#8a8a8a" stroke="#666666" stroke-width="0.55" stroke-linejoin="round"/>
<path d="M175.2,279.9 A78.0,78.0 0 0 1 201.6,303.1 L202.3,302.6 L202.1,302.1 L201.6,301.7 L201.3,301.2 L200.9,300.8 L200.7,300.2 L200.1,299.9 L199.8,299.4 L199.4,299.0 L199.0,298.6 L198.8,298.0 L198.3,297.6 L198.1,297.1 L197.5,296.8 L197.2,296.3 L196.8,295.9 L196.5,295.4 L196.0,295.1 L195.6,294.6 L195.2,294.2 L194.8,293.8 L194.5,293.3 L194.1,292.9 L193.7,292.4 L193.2,292.2 L192.8,291.7 L192.4,291.3 L192.0,290.8 L191.6,290.4 L191.1,290.2 L190.8,289.7 L190.3,289.3 L189.9,288.9 L189.3,288.7 L189.0,288.2 L188.5,287.9 L188.1,287.5 L187.6,287.1 L187.1,286.9 L186.7,286.5 L186.3,286.0 L185.8,285.6 L185.3,285.3 L184.9,284.9 L184.4,284.6 L183.9,284.4 L183.4,284.0 L183.0,283.6 L182.5,283.3 L182.0,283.0 L181.5,282.8 L181.1,282.4 L180.6,282.0 L180.0,281.9 L179.6,281.4 L179.1,281.2 L178.5,280.9 L178.1,280.6 L177.5,280.4 L177.1,280.0 L176.6,279.7 L176.1,279.4 L175.6,279.1 Z" fill="#8a8a8a" stroke="#666666" stroke-width="0.55" stroke-linejoin="round"/>
<path d="M187.1,409.4 A78.0,78.0 0 0 1 167.1,421.1 L167.5,422.0 L168.0,421.7 L168.6,421.5 L169.1,421.2 L169.6,421.0 L170.3,421.0 L170.8,420.7 L171.2,420.3 L171.8,420.0 L172.3,419.8 L172.9,419.7 L173.4,419.5 L173.9,419.0 L174.5,418.9 L175.0,418.7 L175.5,418.2 L176.0,417.9 L176.5,417.8 L177.1,417.5 L177.6,417.3 L178.0,416.8 L178.5,416.5 L179.0,416.2 L179.5,415.9 L180.1,415.8 L180.6,415.4 L181.0,414.9 L181.6,414.8 L182.1,414.4 L182.6,414.1 L183.1,413.8 L183.5,413.4 L184.0,413.0 L184.5,412.8 L184.9,412.3 L185.3,411.9 L185.8,411.6 L186.4,411.3 L186.8,410.9 L187.2,410.5 L187.8,410.3 Z" fill="#8a8a8a" stroke="#666666" stroke-width="0.55" stroke-linejoin="round"/>
<path d="M69.8,385.8 A78.0,78.0 0 0 1 63.4,370.3 L63.4,370.3 L63.5,370.9 L63.7,371.4 L63.9,372.0 L64.1,372.5 L63.5,373.3 L63.0,374.1 L62.8,374.8 L62.3,375.6 L63.2,375.9 L63.9,376.3 L64.7,376.6 L65.6,376.9 L65.8,377.4 L66.0,378.0 L66.3,378.5 L66.5,379.0 L66.7,379.6 L66.9,380.1 L67.2,380.6 L67.4,381.2 L67.7,381.7 L67.9,382.2 L68.2,382.7 L68.4,383.3 L68.7,383.8 L68.9,384.3 L69.2,384.8 L69.5,385.3 L69.8,385.8 Z" fill="#8a8a8a" stroke="#666666" stroke-width="0.55" stroke-linejoin="round"/>
<path d="M114.0,274.5 A78.0,78.0 0 0 1 136.3,270.6 L136.2,267.5 L135.6,267.9 L135.0,267.4 L134.4,267.4 L133.8,268.0 L133.2,267.7 L132.6,267.8 L131.9,267.6 L131.4,268.2 L130.7,267.6 L130.2,268.0 L129.5,267.7 L129.0,268.1 L128.4,268.4 L127.7,268.0 L127.1,268.2 L126.6,268.7 L126.0,268.9 L125.3,268.2 L124.7,268.6 L124.2,269.2 L123.6,269.1 L122.9,268.8 L122.4,269.4 L121.8,269.4 L121.2,269.5 L120.7,269.7 L120.1,270.0 L119.4,269.4 L118.9,270.0 L118.2,269.8 L117.7,270.1 L117.0,270.2 L116.6,270.7 L116.0,270.9 L115.3,270.7 L114.7,270.8 L114.1,271.0 L113.8,271.9 L113.1,271.8 Z" fill="#8a8a8a" stroke="#666666" stroke-width="0.55" stroke-linejoin="round"/>
<path d="M138.3,282.8 A65.8,65.8 0 0 1 167.9,289.8 L169.0,287.7 L168.5,287.5 L168.2,287.1 L168.1,286.1 L167.6,286.0 L167.3,285.4 L166.9,285.1 L166.2,285.4 L166.1,284.2 L165.5,284.4 L165.1,284.1 L164.6,283.9 L164.2,283.5 L163.9,283.0 L163.4,282.9 L162.9,282.7 L162.2,283.1 L161.9,282.5 L161.1,283.1 L160.6,283.1 L160.3,282.5 L159.7,282.7 L159.2,282.5 L158.7,282.5 L158.0,283.0 L157.5,282.8 L156.9,283.3 L155.8,285.2 L155.4,285.1 L154.9,284.9 L154.4,284.8 L154.0,284.7 L153.5,284.6 L153.0,284.5 L152.6,284.4 L152.1,284.3 L151.6,284.2 L151.2,284.1 L150.7,284.0 L150.2,283.9 L149.7,283.8 L149.3,283.7 L148.8,283.6 L148.3,283.6 L147.9,283.5 L147.4,283.4 L146.9,283.4 L146.4,283.3 L146.0,283.2 L145.5,283.2 L145.0,283.1 L144.5,283.1 L144.0,283.1 L143.6,283.0 L143.1,283.0 L142.6,282.9 L142.1,282.9 L141.7,282.9 L141.2,282.9 L140.7,282.8 L140.2,282.8 L139.7,282.8 L139.3,282.8 L138.8,282.8 L138.3,282.8 Z" fill="#E9967A" stroke="#c46a52" stroke-width="0.55" stroke-linejoin="round"/>
<path d="M169.4,290.6 A65.8,65.8 0 0 1 191.7,310.2 L193.0,309.3 L193.0,308.7 L192.7,308.3 L192.2,308.0 L192.2,307.4 L191.8,307.1 L191.5,306.7 L191.1,306.3 L191.3,305.6 L190.8,305.3 L190.6,304.8 L190.2,304.5 L190.0,304.0 L189.8,303.5 L189.4,303.2 L189.0,303.0 L188.9,302.3 L188.6,302.0 L188.3,301.5 L187.7,301.4 L187.8,300.6 L187.3,300.3 L187.2,299.8 L186.7,299.6 L186.2,299.4 L185.8,299.0 L185.8,298.3 L185.4,297.9 L184.7,298.0 L184.4,297.5 L184.2,297.0 L183.4,297.1 L183.1,296.8 L183.0,296.1 L182.2,296.3 L181.8,295.9 L181.6,295.4 L181.3,295.0 L180.7,295.0 L180.4,294.5 L180.2,293.9 L179.7,293.8 L179.4,293.3 L178.6,293.6 L178.3,293.1 L178.3,292.3 L178.4,291.3 L178.2,290.6 L178.8,288.9 L177.6,289.7 L176.5,290.4 L175.4,291.2 L174.9,291.0 L174.2,291.1 L173.8,290.8 L173.3,290.7 L173.1,290.1 L172.6,289.9 L172.1,289.8 L171.7,289.6 L171.1,289.6 L170.6,289.6 L170.1,289.3 Z" fill="#E9967A" stroke="#c46a52" stroke-width="0.55" stroke-linejoin="round"/>
<path d="M192.7,311.6 A65.8,65.8 0 0 1 202.4,333.8 L204.1,333.4 L204.4,332.9 L204.2,332.4 L203.9,331.9 L203.7,331.5 L204.1,330.8 L203.8,330.4 L203.5,330.0 L203.7,329.4 L204.1,328.7 L203.3,328.5 L203.7,327.8 L203.9,327.2 L203.6,326.8 L203.5,326.3 L203.4,325.8 L203.4,325.2 L202.7,324.9 L203.1,324.2 L202.8,323.8 L202.5,323.4 L202.1,323.0 L202.5,322.2 L201.8,322.0 L201.8,321.4 L201.1,321.2 L201.7,320.4 L201.2,320.0 L200.8,319.6 L201.0,319.0 L200.4,318.7 L199.7,318.5 L199.7,317.9 L199.9,317.2 L199.7,316.8 L199.4,316.3 L199.0,316.0 L198.3,315.8 L198.3,315.2 L198.2,314.6 L197.9,314.3 L196.9,314.2 L196.8,313.7 L196.5,313.3 L196.5,312.7 L195.8,312.5 L195.6,312.1 L195.2,311.7 L194.8,311.4 L194.4,311.1 L194.3,310.5 Z" fill="#E9967A" stroke="#c46a52" stroke-width="0.55" stroke-linejoin="round"/>
<path d="M203.0,360.6 A65.8,65.8 0 0 1 195.3,381.4 L197.1,382.4 L197.2,381.9 L197.6,381.6 L197.7,381.0 L197.7,380.5 L198.1,380.1 L198.2,379.6 L198.8,379.4 L198.8,378.8 L198.8,378.3 L199.4,378.0 L199.3,377.4 L199.9,377.1 L199.9,376.6 L199.8,376.0 L200.1,375.6 L200.5,375.2 L200.6,374.7 L200.7,374.2 L200.8,373.7 L201.3,373.4 L201.3,372.9 L201.8,372.5 L201.8,372.0 L200.2,370.9 L200.4,370.4 L200.5,370.0 L200.7,369.5 L200.8,369.0 L201.0,368.6 L201.1,368.1 L201.3,367.7 L201.4,367.2 L201.6,366.7 L201.7,366.3 L201.8,365.8 L201.9,365.3 L202.1,364.9 L202.2,364.4 L202.3,363.9 L202.4,363.5 L202.5,363.0 L202.6,362.5 L202.7,362.0 L202.8,361.6 L202.9,361.1 L203.0,360.6 Z" fill="#E9967A" stroke="#c46a52" stroke-width="0.55" stroke-linejoin="round"/>
<path d="M194.5,382.9 A65.8,65.8 0 0 1 180.8,398.8 L180.8,398.8 L181.2,398.5 L181.5,398.2 L181.9,397.9 L182.3,397.6 L182.6,397.2 L183.0,396.9 L183.3,396.6 L183.7,396.3 L184.0,395.9 L184.4,395.6 L184.7,395.3 L185.0,394.9 L185.4,394.6 L185.7,394.2 L186.0,393.9 L186.4,393.5 L186.7,393.2 L187.0,392.8 L187.3,392.5 L187.6,392.1 L188.0,391.8 L188.3,391.4 L188.6,391.0 L188.9,390.7 L189.2,390.3 L189.5,389.9 L192.0,391.3 L191.9,390.6 L192.2,390.2 L192.5,389.8 L193.1,389.7 L193.3,389.2 L194.0,389.0 L194.1,388.5 L194.2,388.0 L194.5,387.5 L194.8,387.2 L195.4,387.0 L195.1,386.2 L195.4,385.8 L195.9,385.5 L196.5,385.3 L196.4,384.7 L196.7,384.2 Z" fill="#E9967A" stroke="#c46a52" stroke-width="0.55" stroke-linejoin="round"/>
<path d="M179.5,399.9 A65.8,65.8 0 0 1 162.6,409.7 L164.0,413.2 L164.7,413.6 L165.3,413.6 L166.2,414.5 L166.5,413.8 L167.0,413.6 L167.9,414.3 L168.5,414.4 L169.4,415.0 L169.2,413.3 L170.0,413.8 L171.1,414.7 L170.8,412.9 L172.0,414.0 L172.5,413.8 L173.0,413.6 L173.6,413.6 L173.5,412.2 L174.5,412.9 L174.8,412.3 L175.6,412.7 L175.4,411.1 L175.9,411.0 L176.8,411.5 L177.0,410.7 L178.0,411.2 L177.8,410.0 L178.5,410.0 L178.8,409.4 L179.1,409.0 L179.9,409.2 L180.0,408.4 L180.2,407.7 L180.0,406.5 L180.5,406.3 L180.9,405.9 L181.3,405.6 L181.8,405.4 L181.8,404.5 L182.0,403.9 L182.4,403.6 Z" fill="#E9967A" stroke="#c46a52" stroke-width="0.55" stroke-linejoin="round"/>
<path d="M161.0,410.4 A65.8,65.8 0 0 1 143.5,414.2 L143.7,417.0 L144.2,416.9 L144.7,417.4 L145.2,417.4 L145.7,417.0 L146.2,416.8 L146.8,417.1 L147.3,417.1 L147.7,416.6 L148.3,416.7 L148.7,416.5 L149.3,416.5 L149.8,416.6 L150.2,416.1 L150.7,416.1 L151.2,415.7 L151.7,415.7 L152.2,415.7 L152.7,415.6 L153.2,415.7 L153.7,415.3 L154.4,416.0 L154.7,415.1 L155.3,415.7 L155.8,415.3 L156.3,415.4 L156.6,414.5 L157.3,414.9 L157.7,414.8 L158.2,414.7 L158.6,414.2 L159.1,413.9 L159.7,414.1 L160.1,413.8 L160.8,414.1 L161.0,413.1 L161.5,413.2 L161.9,412.8 Z" fill="#E9967A" stroke="#c46a52" stroke-width="0.55" stroke-linejoin="round"/>
<path d="M141.7,414.3 A65.8,65.8 0 0 1 124.5,412.9 L123.9,415.6 L124.5,415.1 L125.0,415.4 L125.4,415.5 L125.9,415.8 L126.4,415.6 L126.9,415.9 L127.4,416.0 L127.9,416.0 L128.4,415.9 L128.9,416.2 L129.4,415.9 L129.9,416.2 L130.3,416.6 L130.9,416.4 L131.3,416.8 L131.8,416.9 L132.3,416.9 L132.8,416.8 L133.4,416.8 L133.9,416.4 L134.4,416.6 L134.9,416.5 L135.4,416.6 L135.9,416.5 L136.4,417.1 L136.9,417.0 L137.4,416.6 L137.9,416.9 L138.4,416.7 L138.9,416.9 L139.4,417.0 L139.9,417.2 L140.4,416.6 L140.9,416.7 L141.4,416.6 L141.9,416.8 Z" fill="#E9967A" stroke="#c46a52" stroke-width="0.55" stroke-linejoin="round"/>
<path d="M122.8,412.5 A65.8,65.8 0 0 1 107.2,406.6 L105.8,409.3 L106.6,408.9 L107.0,409.2 L107.2,410.0 L107.9,409.7 L108.2,410.1 L108.5,410.8 L108.9,411.1 L109.5,411.1 L110.2,410.8 L110.4,411.5 L110.9,411.8 L111.6,411.3 L112.0,411.7 L112.4,412.1 L112.9,412.2 L113.4,412.5 L114.0,412.3 L114.5,412.5 L114.8,413.1 L115.3,413.0 L115.9,413.0 L116.2,413.7 L116.8,413.3 L117.2,413.9 L117.6,414.3 L118.2,414.2 L118.5,414.7 L119.2,414.4 L119.7,414.5 L120.1,414.8 L120.7,414.8 L121.2,414.8 L121.5,415.6 L122.2,414.8 Z" fill="#E9967A" stroke="#c46a52" stroke-width="0.55" stroke-linejoin="round"/>
<path d="M105.7,405.8 A65.8,65.8 0 0 1 92.5,395.8 L91.6,396.8 L91.9,397.1 L92.3,397.5 L92.6,397.9 L92.7,398.5 L93.0,398.9 L93.5,399.0 L93.7,399.6 L94.3,399.7 L94.5,400.3 L94.7,400.7 L95.2,401.0 L95.6,401.2 L95.8,401.9 L96.4,401.9 L96.6,402.4 L96.8,403.0 L97.4,403.0 L97.6,403.6 L98.2,403.7 L98.4,404.2 L98.7,404.8 L99.3,404.8 L99.3,405.7 L100.0,405.6 L100.1,406.3 L100.6,406.5 L101.2,406.5 L101.4,407.1 L101.9,407.3 L102.2,407.8 L102.7,407.9 L102.7,409.1 L103.5,408.6 L103.6,409.6 Z" fill="#E9967A" stroke="#c46a52" stroke-width="0.55" stroke-linejoin="round"/>
<path d="M91.3,394.6 A65.8,65.8 0 0 1 81.3,381.5 L77.7,383.6 L77.8,384.1 L77.6,384.9 L76.9,385.9 L76.8,386.6 L77.5,386.7 L78.3,386.9 L77.7,387.9 L77.8,388.5 L77.5,389.3 L78.5,389.3 L77.5,390.7 L78.9,390.3 L78.6,391.2 L78.3,392.1 L79.0,392.2 L78.7,393.1 L79.1,393.5 L80.7,393.0 L81.2,393.3 L80.9,394.1 L81.7,394.2 L81.7,394.9 L82.6,394.9 L83.1,395.1 L82.6,396.3 L83.7,396.0 L84.3,396.2 L84.2,397.0 L84.7,397.2 L85.1,397.6 L86.5,397.0 L86.7,397.6 L87.6,397.4 L88.5,397.3 Z" fill="#E9967A" stroke="#c46a52" stroke-width="0.55" stroke-linejoin="round"/>
<path d="M80.5,380.0 A65.8,65.8 0 0 1 75.1,366.9 L75.1,366.9 L75.2,367.4 L75.4,367.8 L75.1,368.4 L73.8,369.4 L72.8,370.2 L72.2,371.0 L70.4,372.2 L69.8,372.9 L69.3,373.7 L71.7,373.4 L71.6,374.0 L72.8,374.1 L74.3,374.1 L76.0,373.9 L77.5,373.8 L77.7,374.3 L77.9,374.7 L78.1,375.2 L78.3,375.6 L78.5,376.1 L78.7,376.5 L78.9,377.0 L79.1,377.4 L79.4,377.8 L79.6,378.3 L79.8,378.7 L80.0,379.1 L80.2,379.6 L80.5,380.0 Z" fill="#E9967A" stroke="#c46a52" stroke-width="0.55" stroke-linejoin="round"/>
<path d="M73.7,336.2 A65.8,65.8 0 0 1 76.7,325.5 L76.7,325.5 L76.5,326.0 L76.3,326.4 L76.2,326.9 L76.0,327.4 L74.5,327.4 L74.4,327.8 L74.1,328.2 L73.8,328.7 L74.1,329.3 L73.5,329.6 L73.7,330.2 L73.2,330.6 L73.1,331.1 L73.3,331.6 L73.0,332.1 L72.9,332.5 L72.8,333.0 L72.7,333.5 L74.1,334.3 L74.0,334.8 L73.9,335.3 L73.8,335.8 L73.7,336.2 Z" fill="#E9967A" stroke="#c46a52" stroke-width="0.55" stroke-linejoin="round"/>
<path d="M82.6,313.5 A65.8,65.8 0 0 1 88.3,305.8 L86.9,304.5 L86.3,304.7 L85.3,304.5 L84.7,304.6 L84.3,305.0 L84.1,305.4 L83.1,305.3 L83.2,306.1 L83.2,306.7 L82.6,306.9 L82.5,307.5 L81.6,307.4 L81.9,308.3 L81.6,308.7 L81.7,309.3 L81.5,309.9 L81.7,310.5 L81.6,311.1 L81.1,311.3 L82.9,313.1 L82.6,313.5 Z" fill="#E9967A" stroke="#c46a52" stroke-width="0.55" stroke-linejoin="round"/>
<path d="M103.6,292.7 A65.8,65.8 0 0 1 108.8,289.8 L108.8,289.8 L108.3,290.0 L107.9,290.2 L106.6,288.8 L105.7,288.3 L105.2,288.3 L104.9,288.8 L104.3,288.9 L104.1,289.5 L103.9,290.3 L104.5,292.2 L104.0,292.4 L103.6,292.7 Z" fill="#E9967A" stroke="#c46a52" stroke-width="0.55" stroke-linejoin="round"/>
<path d="M117.8,286.1 A65.8,65.8 0 0 1 136.6,282.8 L136.3,270.6 L135.7,271.1 L135.1,271.3 L134.6,272.5 L134.1,273.2 L133.4,271.5 L132.8,271.4 L132.3,271.9 L131.7,271.5 L131.0,270.5 L130.6,272.2 L130.1,272.7 L129.6,274.1 L129.1,274.1 L128.2,271.7 L127.6,271.6 L127.4,274.1 L126.4,271.3 L125.8,271.2 L125.7,274.3 L124.8,272.2 L124.3,272.7 L123.8,273.3 L123.2,272.9 L122.5,272.8 L121.7,271.8 L121.2,272.2 L120.7,272.4 L120.1,272.5 L120.2,275.4 L119.3,274.3 L118.5,273.4 L118.3,274.9 L117.2,273.1 L116.9,274.0 L117.1,276.6 L115.6,273.6 L115.4,275.1 L115.2,276.3 L114.3,275.5 Z" fill="#E9967A" stroke="#c46a52" stroke-width="0.55" stroke-linejoin="round"/>
<path d="M138.3,295.0 A53.6,53.6 0 0 1 162.4,300.7 L163.4,298.8 L163.1,298.4 L162.7,298.2 L162.3,298.3 L161.9,298.0 L161.9,297.2 L161.5,297.0 L161.2,296.6 L160.9,296.4 L160.4,296.5 L160.3,295.6 L159.6,296.2 L159.3,295.8 L159.2,294.9 L158.5,295.6 L158.2,295.4 L157.9,294.8 L157.4,295.1 L157.3,294.2 L156.6,294.8 L156.4,294.2 L155.9,294.3 L155.5,294.1 L155.1,294.0 L154.7,294.1 L154.1,294.6 L153.6,294.8 L153.2,294.5 L152.8,294.6 L152.4,294.4 L152.0,294.4 L151.1,296.5 L150.7,296.5 L150.3,296.4 L149.9,296.3 L149.5,296.2 L149.2,296.1 L148.8,296.0 L148.4,296.0 L148.0,295.9 L147.6,295.8 L147.2,295.8 L146.9,295.7 L146.5,295.6 L146.1,295.6 L145.7,295.5 L145.3,295.5 L144.9,295.4 L144.5,295.4 L144.1,295.3 L143.8,295.3 L143.4,295.2 L143.0,295.2 L142.6,295.2 L142.2,295.1 L141.8,295.1 L141.4,295.1 L141.0,295.1 L140.6,295.1 L140.3,295.0 L139.9,295.0 L139.5,295.0 L139.1,295.0 L138.7,295.0 L138.3,295.0 Z" fill="#A6C0E0" stroke="#7d9ac6" stroke-width="0.55" stroke-linejoin="round"/>
<path d="M163.6,301.4 A53.6,53.6 0 0 1 181.8,317.3 L184.3,315.5 L183.8,315.4 L183.5,315.1 L183.5,314.6 L183.3,314.2 L183.1,313.9 L182.8,313.6 L182.7,313.1 L182.5,312.7 L182.2,312.4 L181.5,312.5 L181.6,311.8 L181.2,311.6 L181.3,311.0 L180.8,310.9 L180.2,310.8 L179.8,310.7 L180.1,309.8 L179.6,309.7 L179.3,309.4 L178.9,309.2 L178.9,308.6 L178.5,308.4 L178.4,308.0 L177.6,308.2 L177.4,307.8 L176.9,307.7 L177.1,307.0 L176.4,307.0 L176.2,306.6 L175.9,306.4 L175.6,306.0 L175.2,305.9 L174.9,305.6 L175.0,304.9 L174.5,304.8 L174.3,304.4 L173.4,304.8 L173.5,304.0 L172.8,304.3 L172.8,303.6 L172.3,303.6 L172.0,303.3 L171.7,303.0 L171.3,302.9 L171.1,302.4 L170.8,302.1 L170.2,302.2 L169.9,302.0 L169.7,301.5 L169.2,301.6 L168.9,301.2 L168.5,301.1 L168.4,300.4 L168.1,300.2 L167.8,299.8 L167.3,299.9 L166.7,300.0 L166.7,299.2 L166.3,299.2 L165.8,299.1 L165.6,298.6 L165.2,298.6 Z" fill="#A6C0E0" stroke="#7d9ac6" stroke-width="0.55" stroke-linejoin="round"/>
<path d="M182.6,318.5 A53.6,53.6 0 0 1 190.5,336.6 L193.0,336.0 L193.3,335.5 L192.8,335.2 L193.2,334.7 L193.1,334.2 L192.6,333.9 L193.2,333.4 L193.0,333.0 L192.8,332.6 L192.1,332.4 L192.7,331.7 L192.4,331.4 L191.8,331.1 L192.2,330.6 L191.7,330.3 L191.3,330.0 L191.4,329.5 L191.6,329.0 L191.3,328.7 L191.0,328.3 L190.6,328.0 L191.1,327.4 L191.1,326.9 L190.9,326.5 L190.0,326.5 L190.1,326.0 L190.0,325.6 L190.0,325.1 L189.8,324.7 L189.5,324.4 L189.3,324.0 L188.9,323.8 L188.9,323.3 L188.4,323.1 L189.0,322.3 L188.2,322.2 L188.5,321.6 L187.9,321.5 L187.8,321.0 L187.4,320.8 L187.6,320.2 L187.5,319.8 L186.9,319.6 L187.0,319.1 L186.3,319.0 L186.4,318.4 L185.8,318.3 L185.5,318.1 L185.3,317.7 L185.5,317.0 L184.9,317.0 Z" fill="#A6C0E0" stroke="#7d9ac6" stroke-width="0.55" stroke-linejoin="round"/>
<path d="M191.0,358.4 A53.6,53.6 0 0 1 184.8,375.3 L187.7,377.0 L187.5,376.4 L187.6,376.0 L188.1,375.8 L187.9,375.2 L187.9,374.8 L188.6,374.7 L189.1,374.4 L188.8,373.8 L189.5,373.7 L189.6,373.3 L189.2,372.6 L189.9,372.5 L190.2,372.2 L190.2,371.7 L190.3,371.3 L190.5,370.9 L190.7,370.6 L190.6,370.1 L190.7,369.7 L191.4,369.5 L191.2,368.9 L190.9,368.4 L191.2,368.1 L191.9,367.9 L191.7,367.4 L191.4,366.8 L192.1,366.6 L192.1,366.2 L191.9,365.7 L192.7,365.5 L192.7,365.1 L192.5,364.6 L192.4,364.1 L192.5,363.7 L193.2,363.5 L193.0,363.0 L193.5,362.7 L193.4,362.2 L193.4,361.8 L193.6,361.4 L194.0,361.1 L193.5,360.5 L193.4,360.1 L193.4,359.7 L193.7,359.3 L194.0,358.9 Z" fill="#A6C0E0" stroke="#7d9ac6" stroke-width="0.55" stroke-linejoin="round"/>
<path d="M184.0,376.5 A53.6,53.6 0 0 1 172.9,389.5 L172.9,389.5 L173.2,389.3 L173.5,389.0 L173.8,388.7 L174.1,388.5 L174.4,388.2 L174.7,388.0 L175.0,387.7 L175.3,387.4 L175.5,387.2 L175.8,386.9 L176.1,386.6 L176.4,386.3 L176.6,386.1 L176.9,385.8 L177.2,385.5 L177.4,385.2 L177.7,384.9 L178.0,384.6 L178.2,384.3 L178.5,384.1 L178.8,383.8 L179.0,383.5 L179.3,383.2 L179.5,382.9 L179.8,382.6 L180.0,382.3 L180.3,382.0 L180.5,381.7 L183.5,383.5 L183.3,382.8 L184.1,382.9 L183.9,382.2 L184.3,382.0 L184.5,381.6 L185.0,381.5 L185.0,381.0 L185.3,380.7 L186.0,380.6 L186.2,380.3 L186.0,379.7 L186.4,379.4 L186.7,379.2 L186.5,378.5 L187.0,378.3 Z" fill="#A6C0E0" stroke="#7d9ac6" stroke-width="0.55" stroke-linejoin="round"/>
<path d="M171.8,390.4 A53.6,53.6 0 0 1 158.1,398.4 L159.5,401.9 L160.1,402.2 L160.6,402.4 L161.1,402.5 L161.7,402.7 L161.8,401.7 L162.7,402.7 L162.9,402.2 L163.1,401.5 L164.1,402.5 L164.4,402.3 L165.0,402.4 L164.9,401.3 L165.5,401.4 L166.3,402.0 L166.9,402.1 L167.3,401.9 L167.3,401.0 L168.2,401.7 L168.4,401.1 L169.3,401.8 L169.4,401.0 L170.0,401.2 L169.5,399.5 L170.5,400.2 L170.8,399.9 L171.1,399.5 L170.8,398.3 L171.5,398.5 L172.2,398.8 L172.5,398.4 L172.0,396.9 L173.1,397.6 L173.1,397.0 L172.8,395.8 L173.2,395.6 L173.8,395.6 L173.6,394.6 L174.0,394.5 L174.0,393.8 L174.2,393.4 Z" fill="#A6C0E0" stroke="#7d9ac6" stroke-width="0.55" stroke-linejoin="round"/>
<path d="M156.8,398.9 A53.6,53.6 0 0 1 142.5,402.0 L142.7,405.2 L143.2,405.3 L143.6,405.4 L144.0,404.9 L144.4,404.8 L144.8,404.5 L145.3,405.2 L145.7,405.2 L146.1,404.7 L146.5,404.8 L147.0,405.0 L147.3,404.4 L147.7,404.1 L148.1,404.2 L148.5,404.1 L148.9,404.0 L149.4,404.1 L149.8,404.3 L150.1,403.7 L150.7,404.3 L151.0,403.7 L151.3,403.3 L151.9,403.8 L152.3,403.8 L152.8,403.8 L153.2,403.7 L153.4,403.0 L153.8,402.8 L154.2,402.7 L154.7,402.9 L155.0,402.6 L155.4,402.5 L155.9,402.6 L156.2,402.0 L156.8,402.6 L156.9,401.7 L157.4,401.6 L157.9,401.9 Z" fill="#A6C0E0" stroke="#7d9ac6" stroke-width="0.55" stroke-linejoin="round"/>
<path d="M141.1,402.1 A53.6,53.6 0 0 1 127.0,401.0 L126.6,402.8 L127.0,402.9 L127.4,403.2 L127.8,403.4 L128.2,403.5 L128.6,403.1 L129.0,403.4 L129.4,403.3 L129.8,403.3 L130.2,403.8 L130.6,403.8 L131.0,403.9 L131.4,403.6 L131.8,404.1 L132.2,403.9 L132.7,403.9 L133.1,403.8 L133.4,404.2 L133.9,404.1 L134.3,404.2 L134.7,403.9 L135.1,403.8 L135.5,404.3 L135.9,403.9 L136.3,404.0 L136.7,404.2 L137.1,404.2 L137.5,404.5 L137.9,404.3 L138.4,404.4 L138.8,404.2 L139.2,404.0 L139.6,404.4 L140.0,404.0 L140.4,404.0 L140.8,404.3 L141.2,404.4 Z" fill="#A6C0E0" stroke="#7d9ac6" stroke-width="0.55" stroke-linejoin="round"/>
<path d="M125.7,400.7 A53.6,53.6 0 0 1 113.0,395.9 L111.9,397.9 L112.3,398.0 L112.7,398.1 L112.8,398.9 L113.5,398.5 L113.8,398.8 L114.0,399.3 L114.5,399.3 L114.7,399.9 L115.2,399.7 L115.5,400.0 L116.1,399.8 L116.2,400.5 L116.6,400.7 L117.2,400.3 L117.5,400.7 L117.8,401.1 L118.4,400.7 L118.7,401.0 L119.1,401.3 L119.5,401.3 L119.9,401.4 L120.3,401.6 L120.8,401.5 L121.0,402.2 L121.4,402.1 L121.9,402.0 L122.2,402.6 L122.7,402.3 L123.1,402.3 L123.5,402.6 L123.8,403.1 L124.2,403.3 L124.7,403.1 L125.1,403.0 Z" fill="#A6C0E0" stroke="#7d9ac6" stroke-width="0.55" stroke-linejoin="round"/>
<path d="M111.8,395.2 A53.6,53.6 0 0 1 101.0,387.1 L98.9,389.2 L99.3,389.4 L99.4,389.9 L99.5,390.4 L100.4,390.0 L100.7,390.3 L100.4,391.3 L101.1,391.2 L101.4,391.4 L101.7,391.7 L102.2,391.8 L102.2,392.4 L102.5,392.7 L103.2,392.5 L103.3,393.2 L103.4,393.6 L103.7,394.0 L104.6,393.5 L104.5,394.3 L105.0,394.3 L105.2,394.7 L105.4,395.2 L106.0,395.2 L106.6,395.0 L106.4,396.0 L107.2,395.6 L107.2,396.3 L107.8,396.2 L108.2,396.3 L108.6,396.5 L108.7,397.2 L109.2,397.1 L109.8,397.0 L109.8,397.7 L110.4,397.5 Z" fill="#A6C0E0" stroke="#7d9ac6" stroke-width="0.55" stroke-linejoin="round"/>
<path d="M100.0,386.1 A53.6,53.6 0 0 1 91.9,375.4 L89.3,376.9 L88.8,377.7 L89.5,377.8 L89.1,378.5 L88.7,379.2 L89.6,379.2 L89.7,379.6 L89.8,380.0 L89.9,380.5 L89.4,381.3 L90.0,381.4 L90.1,381.9 L89.4,382.9 L90.7,382.6 L89.4,384.0 L90.6,383.7 L90.6,384.2 L90.5,384.9 L91.7,384.5 L91.8,385.0 L91.5,385.8 L91.9,386.0 L92.4,386.2 L92.1,387.0 L92.9,386.9 L93.6,386.8 L94.3,386.8 L94.0,387.7 L95.0,387.4 L95.6,387.4 L95.3,388.2 L96.6,387.6 L96.4,388.4 L97.0,388.4 L97.7,388.3 Z" fill="#A6C0E0" stroke="#7d9ac6" stroke-width="0.55" stroke-linejoin="round"/>
<path d="M93.0,320.0 A53.6,53.6 0 0 1 97.6,313.7 L95.4,311.8 L95.3,312.2 L94.7,312.3 L94.1,312.4 L93.6,312.5 L92.7,312.3 L92.3,312.6 L92.1,312.9 L92.1,313.4 L91.7,313.7 L90.6,313.4 L91.0,314.3 L90.6,314.5 L91.1,315.3 L91.3,316.0 L91.3,316.5 L90.9,316.7 L90.8,317.2 L90.9,317.8 L93.2,319.7 L93.0,320.0 Z" fill="#A6C0E0" stroke="#7d9ac6" stroke-width="0.55" stroke-linejoin="round"/>
<path d="M110.1,303.0 A53.6,53.6 0 0 1 114.3,300.7 L114.3,300.7 L113.9,300.9 L113.5,301.1 L113.2,301.2 L112.6,301.0 L111.7,300.3 L111.3,300.3 L111.1,300.9 L111.1,301.7 L111.1,302.4 L110.7,302.6 L110.4,302.8 L110.1,303.0 Z" fill="#A6C0E0" stroke="#7d9ac6" stroke-width="0.55" stroke-linejoin="round"/>
<path d="M121.6,297.7 A53.6,53.6 0 0 1 136.9,295.0 L136.8,289.5 L136.3,289.2 L135.9,289.8 L135.5,290.3 L135.0,290.4 L134.6,290.6 L134.1,290.1 L133.8,290.9 L133.3,290.4 L132.8,290.1 L132.5,290.9 L131.9,289.7 L131.6,291.1 L131.0,289.7 L130.8,291.2 L130.2,290.5 L129.7,290.0 L129.4,290.9 L129.0,291.3 L128.4,290.1 L128.0,290.4 L127.8,291.5 L127.1,290.3 L126.9,291.7 L126.2,290.6 L125.9,290.9 L125.5,291.4 L125.1,291.7 L124.8,292.1 L124.3,291.9 L124.0,292.5 L123.2,291.4 L123.1,292.5 L122.6,292.3 L121.9,291.6 L121.7,292.5 L121.4,292.9 L120.7,292.2 L120.5,292.9 L120.2,293.4 Z" fill="#A6C0E0" stroke="#7d9ac6" stroke-width="0.55" stroke-linejoin="round"/>
<path d="M138.3,307.2 A41.4,41.4 0 0 1 156.9,311.6 L158.3,308.9 L158.1,308.4 L158.2,307.6 L157.9,307.5 L157.5,307.6 L157.7,306.3 L157.4,306.1 L156.8,306.7 L156.5,306.4 L156.7,305.3 L156.4,305.0 L155.8,305.5 L156.1,304.0 L155.5,304.5 L155.2,304.3 L155.0,303.8 L154.4,304.6 L154.1,304.2 L153.6,304.8 L153.3,304.5 L152.9,304.6 L152.7,304.1 L152.5,303.6 L151.9,304.4 L151.6,304.4 L151.3,304.2 L151.1,303.7 L150.4,304.9 L150.2,304.3 L149.7,304.9 L149.2,305.5 L148.2,308.4 L147.9,308.3 L147.6,308.3 L147.3,308.2 L147.0,308.1 L146.7,308.1 L146.4,308.0 L146.1,307.9 L145.8,307.9 L145.5,307.8 L145.2,307.8 L144.9,307.7 L144.6,307.7 L144.3,307.6 L144.0,307.6 L143.7,307.6 L143.4,307.5 L143.1,307.5 L142.8,307.4 L142.5,307.4 L142.2,307.4 L141.9,307.4 L141.6,307.3 L141.3,307.3 L141.0,307.3 L140.7,307.3 L140.4,307.3 L140.1,307.2 L139.8,307.2 L139.5,307.2 L139.2,307.2 L138.9,307.2 L138.6,307.2 L138.3,307.2 Z" fill="#B3ADDC" stroke="#8f88c3" stroke-width="0.55" stroke-linejoin="round"/>
<path d="M157.9,312.1 A41.4,41.4 0 0 1 171.9,324.4 L173.9,323.0 L173.5,322.9 L173.6,322.4 L173.2,322.3 L173.2,321.9 L173.4,321.3 L173.1,321.2 L173.1,320.8 L172.8,320.6 L172.8,320.2 L172.3,320.1 L172.5,319.6 L171.9,319.7 L172.1,319.1 L172.2,318.6 L171.7,318.5 L171.4,318.3 L171.6,317.7 L170.8,318.0 L170.9,317.4 L170.5,317.4 L170.4,317.0 L170.2,316.7 L170.2,316.3 L169.4,316.6 L169.4,316.1 L169.3,315.8 L168.8,315.8 L168.9,315.2 L169.1,314.6 L168.7,314.5 L168.1,314.6 L167.8,314.5 L167.3,314.5 L167.2,314.2 L167.5,313.3 L167.0,313.4 L166.4,313.5 L166.1,313.4 L166.3,312.6 L165.8,312.7 L165.3,312.8 L165.0,312.7 L164.9,312.3 L164.9,311.8 L164.5,311.7 L163.8,312.1 L164.0,311.3 L163.3,311.7 L162.9,311.7 L162.7,311.4 L162.4,311.3 L162.0,311.2 L161.8,311.0 L161.4,311.0 L161.1,311.0 L160.9,310.6 L160.7,310.4 L160.4,310.2 L159.9,310.4 L159.5,310.5 L159.3,310.2 L159.0,309.9 Z" fill="#B3ADDC" stroke="#8f88c3" stroke-width="0.55" stroke-linejoin="round"/>
<path d="M172.5,325.3 A41.4,41.4 0 0 1 178.6,339.3 L181.8,338.6 L182.1,338.2 L182.2,337.8 L182.1,337.5 L181.5,337.3 L181.6,336.9 L181.1,336.7 L181.9,336.1 L181.0,336.1 L181.0,335.7 L180.8,335.4 L181.1,335.0 L180.9,334.7 L181.4,334.2 L180.9,334.0 L180.4,333.8 L180.7,333.4 L180.7,333.0 L180.8,332.6 L180.1,332.5 L180.5,332.0 L179.6,332.0 L179.5,331.7 L180.0,331.1 L179.6,330.9 L179.4,330.7 L179.0,330.5 L178.9,330.2 L178.9,329.8 L179.3,329.2 L179.2,328.9 L178.5,328.9 L178.5,328.5 L177.9,328.4 L177.9,328.1 L177.6,327.8 L177.5,327.5 L177.4,327.2 L177.6,326.7 L177.3,326.5 L176.8,326.4 L177.2,325.8 L176.8,325.6 L176.4,325.5 L176.7,324.9 L176.4,324.7 L175.8,324.7 L175.9,324.3 L175.9,323.8 L176.0,323.4 L175.5,323.3 Z" fill="#B3ADDC" stroke="#8f88c3" stroke-width="0.55" stroke-linejoin="round"/>
<path d="M178.9,340.4 A41.4,41.4 0 0 1 179.2,355.1 L181.3,355.4 L181.2,355.1 L181.2,354.8 L181.1,354.4 L181.4,354.2 L181.3,353.8 L181.3,353.5 L181.5,353.2 L181.3,352.9 L181.3,352.6 L181.5,352.2 L181.9,352.0 L181.3,351.6 L181.5,351.3 L181.9,351.0 L181.8,350.7 L181.9,350.4 L181.8,350.0 L181.6,349.7 L181.8,349.4 L181.9,349.1 L181.6,348.8 L181.9,348.5 L181.8,348.1 L181.9,347.8 L181.7,347.5 L181.6,347.2 L181.6,346.9 L181.7,346.6 L181.8,346.2 L181.3,345.9 L181.4,345.6 L181.8,345.3 L181.7,345.0 L181.8,344.6 L181.3,344.4 L181.6,344.0 L181.2,343.7 L181.7,343.4 L181.4,343.1 L181.5,342.7 L181.4,342.4 L181.1,342.2 L181.4,341.8 L181.1,341.5 L180.9,341.2 L181.0,340.9 L181.0,340.6 L180.8,340.3 L180.5,340.0 Z" fill="#B3ADDC" stroke="#8f88c3" stroke-width="0.55" stroke-linejoin="round"/>
<path d="M179.0,356.2 A41.4,41.4 0 0 1 174.2,369.2 L176.7,370.7 L176.6,370.3 L176.7,369.9 L177.2,369.8 L177.2,369.5 L177.4,369.2 L177.4,368.8 L177.9,368.7 L178.4,368.6 L178.1,368.1 L178.6,368.0 L178.4,367.5 L178.8,367.3 L178.6,366.9 L179.3,366.8 L179.2,366.4 L179.4,366.2 L179.4,365.8 L179.3,365.5 L179.7,365.2 L179.3,364.7 L180.1,364.7 L179.9,364.3 L180.1,364.0 L180.5,363.8 L179.8,363.2 L180.1,362.9 L180.8,362.8 L180.3,362.3 L180.3,362.0 L181.1,361.9 L180.6,361.4 L181.2,361.2 L180.7,360.7 L180.6,360.4 L180.7,360.1 L181.1,359.8 L181.3,359.6 L181.7,359.3 L181.2,358.9 L181.8,358.7 L181.5,358.3 L181.3,357.9 L181.7,357.7 L182.0,357.4 L182.0,357.0 L182.1,356.7 Z" fill="#B3ADDC" stroke="#8f88c3" stroke-width="0.55" stroke-linejoin="round"/>
<path d="M173.6,370.2 A41.4,41.4 0 0 1 165.0,380.2 L165.0,380.2 L165.3,380.0 L165.5,379.8 L165.7,379.6 L166.0,379.4 L166.2,379.2 L166.4,379.0 L166.6,378.8 L166.8,378.6 L167.1,378.4 L167.3,378.2 L167.5,378.0 L167.7,377.7 L167.9,377.5 L168.1,377.3 L168.3,377.1 L168.5,376.9 L168.7,376.7 L168.9,376.4 L169.1,376.2 L169.3,376.0 L169.5,375.8 L169.7,375.5 L169.9,375.3 L170.1,375.1 L170.3,374.8 L170.5,374.6 L170.7,374.4 L170.9,374.1 L173.6,375.8 L174.0,375.7 L174.3,375.5 L174.0,374.9 L174.8,375.1 L174.4,374.4 L175.0,374.5 L175.2,374.2 L175.6,374.1 L175.6,373.6 L175.9,373.5 L175.8,373.0 L176.1,372.8 L176.5,372.7 L176.5,372.3 L176.2,371.7 Z" fill="#B3ADDC" stroke="#8f88c3" stroke-width="0.55" stroke-linejoin="round"/>
<path d="M164.2,380.9 A41.4,41.4 0 0 1 153.6,387.1 L155.3,391.4 L155.5,390.8 L156.2,391.7 L156.8,392.3 L157.2,392.2 L157.1,391.2 L157.6,391.3 L158.4,392.4 L158.3,391.3 L159.2,392.4 L159.4,392.0 L159.7,391.8 L160.0,391.5 L160.7,392.2 L160.9,391.6 L160.9,391.0 L162.2,392.7 L162.5,392.3 L162.5,391.5 L163.2,392.0 L163.3,391.6 L163.6,391.3 L164.3,391.8 L164.6,391.4 L164.8,391.2 L165.0,390.8 L164.4,389.1 L165.4,390.0 L165.4,389.4 L165.1,388.2 L165.8,388.6 L166.3,388.7 L166.1,387.9 L166.7,388.0 L166.5,387.1 L166.7,386.8 L166.9,386.5 L166.4,385.2 L167.0,385.5 L166.5,384.3 L166.8,384.1 Z" fill="#B3ADDC" stroke="#8f88c3" stroke-width="0.55" stroke-linejoin="round"/>
<path d="M152.6,387.5 A41.4,41.4 0 0 1 141.5,389.9 L141.9,394.1 L142.2,393.3 L142.5,393.3 L142.8,393.3 L143.2,394.2 L143.5,393.3 L143.8,393.4 L144.2,393.7 L144.5,393.1 L144.8,393.2 L145.2,393.7 L145.6,393.6 L145.9,393.5 L146.1,392.9 L146.5,393.0 L146.9,393.3 L147.1,392.9 L147.5,393.0 L147.9,393.4 L148.2,393.1 L148.5,393.0 L148.9,392.9 L149.3,393.1 L149.3,392.0 L149.7,391.9 L150.3,393.0 L150.4,392.2 L150.7,392.1 L151.2,392.5 L151.3,391.6 L151.9,392.5 L151.9,391.5 L152.5,392.1 L152.6,391.2 L152.9,391.1 L153.5,391.9 L153.6,391.1 L154.0,391.3 Z" fill="#B3ADDC" stroke="#8f88c3" stroke-width="0.55" stroke-linejoin="round"/>
<path d="M140.5,389.9 A41.4,41.4 0 0 1 129.6,389.1 L128.7,393.2 L128.9,393.9 L129.4,393.0 L129.6,393.6 L130.1,393.1 L130.3,394.0 L130.5,394.4 L131.0,393.9 L131.2,394.4 L131.7,393.3 L131.9,394.2 L132.2,394.7 L132.7,393.7 L133.0,394.2 L133.4,393.6 L133.6,394.8 L134.0,394.0 L134.2,395.0 L134.6,394.5 L134.9,394.9 L135.3,394.3 L135.6,394.7 L136.0,395.0 L136.3,394.4 L136.6,395.0 L137.0,394.7 L137.3,394.4 L137.7,394.9 L138.0,394.2 L138.3,395.0 L138.7,394.3 L139.0,394.3 L139.3,394.3 L139.7,393.9 L140.0,394.0 L140.4,394.9 L140.7,393.9 Z" fill="#B3ADDC" stroke="#8f88c3" stroke-width="0.55" stroke-linejoin="round"/>
<path d="M128.5,388.8 A41.4,41.4 0 0 1 118.8,385.1 L116.1,390.0 L116.8,389.6 L116.8,390.2 L117.1,390.3 L117.9,389.6 L118.2,389.8 L118.5,389.9 L118.6,390.4 L118.8,390.8 L119.4,390.5 L119.3,391.5 L119.9,391.0 L120.4,390.7 L120.6,391.1 L121.1,390.8 L120.9,392.2 L121.2,392.5 L121.5,392.5 L122.2,391.8 L122.6,391.7 L122.5,392.8 L123.2,391.9 L123.6,391.9 L123.7,392.5 L123.8,393.3 L124.3,393.2 L124.6,393.3 L124.9,393.5 L125.4,393.0 L125.8,392.9 L126.0,393.2 L126.4,393.3 L126.5,394.2 L127.1,393.5 L127.3,394.0 Z" fill="#B3ADDC" stroke="#8f88c3" stroke-width="0.55" stroke-linejoin="round"/>
<path d="M117.8,384.6 A41.4,41.4 0 0 1 109.5,378.3 L107.3,380.6 L107.3,381.0 L107.6,381.2 L108.3,380.9 L108.1,381.6 L108.8,381.4 L109.1,381.5 L108.8,382.4 L109.3,382.2 L109.7,382.4 L109.9,382.6 L109.8,383.2 L110.2,383.3 L110.7,383.2 L110.9,383.5 L111.0,383.9 L111.5,383.7 L111.5,384.3 L111.8,384.5 L112.2,384.5 L112.4,384.7 L112.5,385.2 L112.8,385.4 L113.4,385.1 L113.5,385.5 L113.8,385.7 L114.2,385.6 L114.4,385.8 L114.6,386.1 L114.9,386.3 L115.2,386.5 L115.6,386.4 L115.8,386.8 L115.9,387.2 L116.4,387.0 Z" fill="#B3ADDC" stroke="#8f88c3" stroke-width="0.55" stroke-linejoin="round"/>
<path d="M108.7,377.5 A41.4,41.4 0 0 1 102.4,369.3 L99.3,371.2 L99.3,371.5 L99.5,371.8 L100.0,371.9 L99.1,372.8 L99.6,372.9 L99.3,373.5 L100.0,373.4 L99.5,374.2 L99.9,374.3 L99.9,374.7 L99.5,375.4 L100.0,375.5 L100.4,375.6 L99.3,376.9 L100.8,376.2 L99.7,377.4 L100.5,377.2 L100.5,377.7 L101.2,377.7 L100.6,378.5 L101.7,378.1 L101.3,378.9 L102.6,378.3 L102.9,378.5 L103.1,378.7 L103.5,378.8 L103.0,379.7 L103.8,379.5 L104.7,379.2 L104.6,379.6 L105.6,379.2 L105.5,379.7 L106.3,379.5 L106.6,379.6 Z" fill="#B3ADDC" stroke="#8f88c3" stroke-width="0.55" stroke-linejoin="round"/>
<path d="M99.9,333.1 A41.4,41.4 0 0 1 102.7,327.4 L100.6,326.2 L100.1,326.3 L99.9,326.6 L100.3,327.2 L99.7,327.2 L100.0,327.7 L99.4,327.8 L99.8,328.4 L99.4,328.6 L99.2,328.8 L99.1,329.2 L98.8,329.4 L98.9,329.8 L100.8,331.1 L100.7,331.3 L100.5,331.6 L100.4,331.9 L100.3,332.2 L100.2,332.5 L100.0,332.8 L99.9,333.1 Z" fill="#B3ADDC" stroke="#8f88c3" stroke-width="0.55" stroke-linejoin="round"/>
<path d="M103.3,326.5 A41.4,41.4 0 0 1 106.9,321.7 L104.8,319.9 L103.8,319.5 L103.5,319.6 L102.9,319.6 L102.8,319.9 L102.3,320.0 L101.5,319.7 L100.9,319.7 L101.5,320.6 L100.4,320.2 L100.9,321.0 L100.3,321.0 L100.3,321.4 L100.8,322.2 L100.2,322.2 L100.5,322.8 L101.2,323.7 L100.4,323.6 L101.4,324.6 L103.4,326.3 L103.3,326.5 Z" fill="#B3ADDC" stroke="#8f88c3" stroke-width="0.55" stroke-linejoin="round"/>
<path d="M111.7,316.9 A41.4,41.4 0 0 1 115.6,314.0 L114.6,312.6 L114.2,312.5 L114.0,312.7 L113.6,312.7 L113.4,313.0 L113.1,313.2 L112.9,313.5 L112.6,313.5 L112.5,313.9 L112.1,313.9 L111.7,313.9 L111.7,314.4 L111.3,314.6 L111.3,315.0 L111.0,315.1 L110.6,315.2 L110.2,315.2 Z" fill="#B3ADDC" stroke="#8f88c3" stroke-width="0.55" stroke-linejoin="round"/>
<path d="M125.4,309.3 A41.4,41.4 0 0 1 137.2,307.2 L137.1,302.5 L136.7,301.6 L136.4,302.2 L136.0,301.3 L135.7,302.4 L135.3,301.7 L135.0,301.7 L134.6,302.1 L134.2,301.5 L134.0,302.6 L133.5,301.3 L133.2,301.9 L132.9,302.1 L132.5,301.6 L132.3,302.7 L131.8,301.5 L131.6,303.0 L131.2,302.6 L130.9,302.6 L130.6,303.1 L130.2,302.6 L129.8,302.6 L129.4,302.5 L129.2,303.1 L128.8,303.0 L128.3,302.3 L127.9,302.1 L127.6,302.1 L127.4,302.9 L126.9,302.3 L126.8,303.6 L126.3,303.1 L126.2,303.8 L125.5,302.8 L125.2,303.1 L124.8,302.8 L124.8,304.2 L124.4,304.1 L124.2,304.6 L123.8,304.5 Z" fill="#B3ADDC" stroke="#8f88c3" stroke-width="0.55" stroke-linejoin="round"/>
<path d="M117.8,286.1 A65.8,65.8 0 0 1 136.6,282.8 L136.4,277.2 L135.9,276.6 L135.3,276.3 L134.9,277.6 L134.3,276.7 L133.7,276.9 L133.3,277.6 L132.7,277.7 L132.2,277.1 L131.7,277.8 L131.1,277.5 L130.6,277.3 L130.0,277.1 L129.4,276.6 L129.1,278.3 L128.5,278.0 L127.9,277.5 L127.3,277.2 L126.8,277.6 L126.3,277.8 L125.7,277.7 L125.3,278.5 L124.6,277.5 L124.4,279.0 L123.8,278.9 L123.1,278.1 L122.8,279.4 L122.3,279.4 L121.4,278.1 L120.9,278.3 L120.4,278.5 L120.0,279.0 L119.6,279.7 L118.8,278.6 L118.5,279.7 L118.0,279.8 L117.2,279.1 L116.8,279.7 L116.7,280.9 L115.8,279.8 Z" fill="#D7362E" stroke="#b02520" stroke-width="0.55" stroke-linejoin="round"/>
<use href="#dark" transform="translate(138.3,348.6)"/>
<use href="#bands" transform="translate(138.3,348.6)"/>
<text x="139.50" y="238.30" font-size="3.4" font-weight="bold" fill="#222">Adult mBL</text>
<text x="139.50" y="250.50" font-size="3.4" font-weight="bold" fill="#222">Ped mBL</text>
<text x="139.50" y="262.70" font-size="3.4" font-weight="bold" fill="#222">all mBL</text>
<text x="139.50" y="274.90" font-size="3.4" font-weight="bold" fill="#222">DLBCL</text>
<text x="139.50" y="287.10" font-size="3.4" font-weight="bold" fill="#222">FL</text>
<text x="139.50" y="299.30" font-size="3.4" font-weight="bold" fill="#222">tFL</text>
<use href="#ideo" transform="translate(391.55,348.6)"/>
<path d="M486.3,284.2 A114.6,114.6 0 0 1 503.2,322.9 L503.2,322.9 L503.0,322.0 L502.8,321.2 L502.6,320.4 L502.4,319.6 L502.2,318.7 L502.0,317.9 L501.7,317.1 L501.5,316.3 L501.3,315.5 L501.0,314.7 L500.8,313.9 L500.5,313.0 L500.2,312.2 L500.0,311.4 L499.7,310.6 L499.4,309.8 L499.1,309.0 L498.8,308.2 L498.5,307.4 L498.2,306.7 L497.9,305.9 L497.6,305.1 L497.2,304.3 L496.9,303.5 L496.6,302.7 L496.2,302.0 L495.9,301.2 L492.8,301.7 L492.9,300.7 L492.4,300.1 L491.5,299.5 L491.0,298.9 L491.3,297.8 L490.8,297.1 L490.4,296.4 L490.1,295.6 L489.4,295.1 L488.8,294.5 L489.0,293.4 L488.1,292.9 L488.1,292.0 L487.6,291.3 L487.3,290.5 L486.6,290.0 L486.4,289.1 L485.3,288.8 L485.6,287.7 L487.3,285.6 L486.8,284.9 L486.3,284.2 Z" fill="#E6C096" stroke="#c99c68" stroke-width="0.55" stroke-linejoin="round"/>
<path d="M486.3,284.2 A114.6,114.6 0 0 1 503.2,322.9" fill="none" stroke="#8a8a8a" stroke-width="0.8"/>
<path d="M489.4,408.3 A114.6,114.6 0 0 1 465.6,436.1 L464.0,434.2 L464.6,433.6 L464.4,432.2 L464.8,431.4 L465.3,430.8 L465.4,429.7 L466.8,430.0 L466.9,428.9 L467.5,428.4 L467.6,427.4 L468.8,427.5 L469.6,427.1 L470.6,427.0 L471.3,426.5 L471.9,426.0 L472.9,425.8 L475.3,426.9 L475.8,426.3 L476.4,425.7 L476.9,425.0 L477.5,424.4 L478.0,423.8 L478.6,423.1 L479.1,422.5 L479.7,421.9 L480.2,421.2 L480.7,420.6 L481.2,419.9 L481.8,419.3 L482.3,418.6 L482.8,418.0 L483.3,417.3 L483.8,416.6 L484.3,416.0 L484.8,415.3 L485.2,414.6 L485.7,413.9 L486.2,413.2 L486.7,412.5 L487.1,411.8 L487.6,411.1 L488.0,410.4 L488.5,409.7 L488.9,409.0 L489.4,408.3 Z" fill="#E6C096" stroke="#c99c68" stroke-width="0.55" stroke-linejoin="round"/>
<path d="M489.4,408.3 A114.6,114.6 0 0 1 465.6,436.1" fill="none" stroke="#8a8a8a" stroke-width="0.8"/>
<path d="M364.5,460.0 A114.6,114.6 0 0 1 337.5,449.6 L337.5,449.6 L338.2,450.0 L339.0,450.4 L339.7,450.8 L341.5,449.1 L342.3,449.3 L343.2,449.6 L343.9,450.0 L344.8,450.1 L345.3,451.0 L346.2,451.0 L346.8,451.7 L347.5,452.1 L348.6,451.8 L349.2,452.4 L349.9,452.8 L350.7,453.1 L351.5,453.3 L352.4,453.4 L353.2,453.7 L353.8,454.5 L354.6,454.6 L355.5,454.7 L356.2,455.2 L357.2,454.9 L357.8,455.6 L358.6,455.9 L359.5,456.0 L360.2,456.4 L361.0,456.7 L361.9,456.8 L362.0,459.3 L362.9,459.6 L363.7,459.8 L364.5,460.0 Z" fill="#E6C096" stroke="#c99c68" stroke-width="0.55" stroke-linejoin="round"/>
<path d="M364.5,460.0 A114.6,114.6 0 0 1 337.5,449.6" fill="none" stroke="#8a8a8a" stroke-width="0.8"/>
<path d="M309.6,428.7 A114.6,114.6 0 0 1 292.3,405.9 L292.3,405.9 L292.7,406.6 L293.2,407.4 L293.6,408.1 L294.0,408.8 L294.5,409.5 L294.9,410.2 L295.4,411.0 L295.9,411.7 L296.3,412.4 L296.8,413.1 L297.3,413.8 L297.8,414.5 L298.2,415.1 L298.7,415.8 L299.2,416.5 L299.7,417.2 L300.2,417.9 L300.8,418.5 L301.3,419.2 L301.8,419.9 L304.4,418.9 L304.6,419.8 L305.3,420.2 L305.6,421.1 L306.6,421.3 L307.2,421.9 L307.4,422.8 L307.8,423.5 L308.6,423.9 L309.0,424.7 L307.9,426.9 L308.4,427.5 L309.0,428.1 L309.6,428.7 Z" fill="#E6C096" stroke="#c99c68" stroke-width="0.55" stroke-linejoin="round"/>
<path d="M309.6,428.7 A114.6,114.6 0 0 1 292.3,405.9" fill="none" stroke="#8a8a8a" stroke-width="0.8"/>
<path d="M290.8,403.3 A114.6,114.6 0 0 1 281.5,380.5 L281.5,380.5 L281.7,381.3 L282.0,382.1 L282.4,382.9 L283.6,383.4 L284.6,384.0 L285.0,384.7 L285.9,385.2 L286.8,385.8 L286.8,386.7 L287.4,387.4 L288.4,387.9 L288.0,388.9 L287.9,389.8 L287.8,390.8 L287.6,391.7 L287.3,392.8 L286.9,393.9 L286.7,394.9 L287.1,395.7 L287.4,396.4 L287.8,397.2 L288.1,398.0 L288.5,398.8 L288.9,399.5 L289.3,400.3 L289.7,401.0 L290.0,401.8 L290.4,402.5 L290.8,403.3 Z" fill="#E6C096" stroke="#c99c68" stroke-width="0.55" stroke-linejoin="round"/>
<path d="M290.8,403.3 A114.6,114.6 0 0 1 281.5,380.5" fill="none" stroke="#8a8a8a" stroke-width="0.8"/>
<path d="M277.0,351.9 A114.6,114.6 0 0 1 278.5,330.0 L278.5,330.0 L278.3,330.8 L278.2,331.7 L278.1,332.5 L278.0,333.3 L277.9,334.2 L277.8,335.0 L277.7,335.9 L277.6,336.7 L277.5,337.5 L277.4,338.4 L277.3,339.2 L277.3,340.1 L277.2,340.9 L277.2,341.8 L277.1,342.6 L277.1,343.4 L277.0,344.3 L277.0,345.1 L279.0,346.0 L278.8,346.9 L279.3,347.7 L279.2,348.5 L278.7,349.4 L278.9,350.2 L278.8,351.0 L279.2,351.8 Z" fill="#E6C096" stroke="#c99c68" stroke-width="0.55" stroke-linejoin="round"/>
<path d="M277.0,351.9 A114.6,114.6 0 0 1 278.5,330.0" fill="none" stroke="#8a8a8a" stroke-width="0.8"/>
<path d="M285.3,305.6 A114.6,114.6 0 0 1 293.0,290.0 L293.0,290.0 L292.6,290.8 L292.2,291.5 L291.7,292.3 L291.3,293.1 L290.9,293.8 L290.5,294.6 L290.1,295.4 L289.7,296.1 L289.3,296.9 L288.9,297.7 L288.5,298.5 L288.1,299.2 L287.7,300.0 L289.9,302.0 L289.4,302.7 L289.4,303.6 L289.5,304.6 L288.4,305.0 L288.7,306.1 L288.3,306.8 Z" fill="#E6C096" stroke="#c99c68" stroke-width="0.55" stroke-linejoin="round"/>
<path d="M285.3,305.6 A114.6,114.6 0 0 1 293.0,290.0" fill="none" stroke="#8a8a8a" stroke-width="0.8"/>
<path d="M355.9,239.7 A114.6,114.6 0 0 1 388.6,234.0 L388.6,235.6 L387.8,235.8 L386.9,235.6 L386.1,235.8 L385.2,235.5 L384.4,236.0 L383.6,236.0 L382.7,235.9 L381.9,236.0 L381.0,236.0 L380.2,236.2 L379.4,236.3 L378.5,236.3 L377.6,236.1 L376.8,236.4 L376.0,236.8 L375.1,236.5 L374.3,236.8 L373.5,237.0 L372.7,237.3 L371.9,237.4 L371.0,237.4 L370.2,237.5 L369.4,237.8 L368.5,237.7 L367.7,237.8 L366.9,238.3 L366.1,238.6 L365.3,238.7 L364.4,238.6 L363.5,238.8 L362.8,239.1 L362.0,239.5 L361.1,239.5 L360.4,240.1 L359.5,240.1 L358.7,240.2 L357.9,240.7 L357.1,240.7 L356.3,241.0 Z" fill="#E6C096" stroke="#c99c68" stroke-width="0.55" stroke-linejoin="round"/>
<path d="M355.9,239.7 A114.6,114.6 0 0 1 388.6,234.0" fill="none" stroke="#8a8a8a" stroke-width="0.8"/>
<path d="M491.9,328.2 A102.4,102.4 0 0 1 492.7,364.6 L492.7,364.6 L492.8,363.9 L492.9,363.2 L493.0,362.4 L493.1,361.7 L493.2,360.9 L493.3,360.2 L493.4,359.5 L493.4,358.7 L493.5,358.0 L493.6,357.2 L493.6,356.5 L493.7,355.7 L493.8,355.0 L493.8,354.2 L493.8,353.5 L493.9,352.8 L493.9,352.0 L493.9,351.3 L493.9,350.5 L493.9,349.8 L493.9,349.0 L493.9,348.3 L493.9,347.5 L493.9,346.8 L492.6,346.1 L492.3,345.3 L492.5,344.6 L492.3,343.9 L492.5,343.1 L492.5,342.4 L492.4,341.6 L492.3,340.9 L492.0,340.2 L492.1,339.4 L492.0,338.7 L492.0,338.0 L491.9,337.2 L491.8,336.5 L491.7,335.8 L491.5,335.1 L491.7,334.3 L491.3,333.6 L491.3,332.9 L491.1,332.1 L490.9,331.4 L491.1,330.6 L490.8,329.9 L490.8,329.2 L490.6,328.5 Z" fill="#B3E0E0" stroke="#6fb4b8" stroke-width="0.55" stroke-linejoin="round"/>
<path d="M478.9,402.0 A102.4,102.4 0 0 1 457.7,426.8 L456.3,425.1 L456.6,424.3 L457.4,424.1 L457.8,423.4 L458.3,422.9 L458.7,422.3 L459.6,422.2 L459.8,421.4 L460.3,420.9 L460.8,420.3 L461.3,419.8 L462.1,419.6 L462.4,418.9 L462.8,418.2 L463.8,418.1 L464.1,417.5 L466.3,418.5 L466.8,418.0 L467.4,417.4 L467.8,416.9 L468.3,416.3 L468.8,415.8 L469.3,415.2 L469.8,414.6 L470.3,414.1 L470.8,413.5 L471.2,412.9 L471.7,412.3 L472.2,411.8 L472.6,411.2 L473.1,410.6 L473.5,410.0 L474.0,409.4 L474.4,408.8 L474.8,408.2 L475.3,407.6 L475.7,407.0 L476.1,406.3 L476.5,405.7 L476.9,405.1 L477.4,404.5 L477.8,403.9 L478.2,403.2 L478.6,402.6 L478.9,402.0 Z" fill="#B3E0E0" stroke="#6fb4b8" stroke-width="0.55" stroke-linejoin="round"/>
<path d="M340.9,437.6 A102.4,102.4 0 0 1 320.2,422.1 L320.2,422.1 L320.8,422.6 L321.3,423.1 L321.9,423.7 L322.5,424.2 L323.0,424.7 L323.6,425.2 L324.2,425.7 L324.7,426.2 L325.3,426.7 L325.9,427.2 L326.5,427.7 L327.1,428.1 L327.7,428.6 L328.3,429.1 L328.8,429.6 L329.5,430.0 L331.0,429.3 L331.7,429.5 L332.0,430.4 L332.7,430.7 L333.4,431.0 L334.1,431.3 L334.5,432.0 L334.4,433.6 L335.0,434.0 L335.7,434.4 L336.3,434.8 L336.9,435.2 L337.6,435.6 L338.2,436.0 L338.9,436.4 L339.5,436.8 L340.2,437.2 L340.9,437.6 Z" fill="#B3E0E0" stroke="#6fb4b8" stroke-width="0.55" stroke-linejoin="round"/>
<path d="M318.3,420.2 A102.4,102.4 0 0 1 302.9,399.8 L302.9,399.8 L303.3,400.5 L303.6,401.1 L304.0,401.8 L305.8,401.5 L306.3,402.1 L306.6,402.8 L306.8,403.6 L307.2,404.2 L307.5,404.9 L308.3,405.3 L308.4,406.1 L308.9,406.6 L309.6,407.1 L308.6,408.7 L309.1,409.3 L309.5,409.9 L310.0,410.5 L310.4,411.1 L310.9,411.7 L311.4,412.3 L311.8,412.9 L312.3,413.4 L312.8,414.0 L313.3,414.6 L313.8,415.2 L314.2,415.8 L314.7,416.3 L315.2,416.9 L315.7,417.4 L316.3,418.0 L316.8,418.6 L317.3,419.1 L317.8,419.7 L318.3,420.2 Z" fill="#B3E0E0" stroke="#6fb4b8" stroke-width="0.55" stroke-linejoin="round"/>
<path d="M301.6,397.5 A102.4,102.4 0 0 1 293.2,377.1 L293.2,377.1 L293.4,377.8 L293.6,378.6 L294.0,379.2 L294.9,379.7 L295.4,380.4 L295.9,381.0 L296.8,381.5 L297.0,382.2 L297.8,382.7 L298.2,383.3 L298.3,384.1 L298.7,384.7 L298.1,385.8 L298.4,386.4 L298.4,387.3 L298.0,388.2 L297.9,389.1 L297.9,390.0 L298.2,390.7 L298.5,391.4 L298.8,392.0 L299.1,392.7 L299.5,393.4 L299.8,394.1 L300.2,394.8 L300.5,395.5 L300.8,396.1 L301.2,396.8 L301.6,397.5 Z" fill="#B3E0E0" stroke="#6fb4b8" stroke-width="0.55" stroke-linejoin="round"/>
<path d="M296.6,310.2 A102.4,102.4 0 0 1 303.5,296.3 L303.5,296.3 L303.1,296.9 L302.7,297.6 L302.4,298.3 L302.0,299.0 L301.6,299.7 L301.2,300.3 L300.9,301.0 L300.5,301.7 L300.2,302.4 L299.8,303.1 L299.5,303.8 L299.1,304.5 L298.8,305.2 L298.5,305.9 L299.4,307.2 L299.7,308.2 L300.4,309.3 L299.5,309.7 L298.2,310.0 L296.6,310.2 Z" fill="#B3E0E0" stroke="#6fb4b8" stroke-width="0.55" stroke-linejoin="round"/>
<path d="M304.9,294.0 A102.4,102.4 0 0 1 313.8,282.0 L315.3,283.3 L314.9,283.9 L314.3,284.3 L313.7,284.8 L313.1,285.2 L313.0,286.1 L312.6,286.7 L312.0,287.1 L311.5,287.7 L311.1,288.4 L310.4,288.7 L308.7,288.4 L308.3,289.0 L307.8,289.6 L307.4,290.2 L307.0,290.9 L306.6,291.5 L306.1,292.1 L305.7,292.7 L305.3,293.4 L304.9,294.0 Z" fill="#B3E0E0" stroke="#6fb4b8" stroke-width="0.55" stroke-linejoin="round"/>
<path d="M359.7,251.3 A102.4,102.4 0 0 1 388.9,246.2 L388.9,249.1 L388.2,249.0 L387.4,248.8 L386.7,249.0 L386.0,249.6 L385.2,248.9 L384.5,249.0 L383.8,249.7 L383.0,249.4 L382.2,249.1 L381.6,249.9 L380.8,250.0 L380.0,249.5 L379.4,250.2 L378.6,249.9 L377.9,250.0 L377.2,250.3 L376.4,250.3 L375.7,250.4 L374.9,250.4 L374.3,251.0 L373.4,250.5 L372.7,250.8 L372.0,250.9 L371.3,251.1 L370.5,251.0 L369.8,251.2 L369.1,251.4 L368.3,251.4 L367.6,251.8 L367.0,252.2 L366.2,252.0 L365.5,252.5 L364.9,252.9 L364.0,252.7 L363.3,252.9 L362.6,253.0 L361.9,253.5 L361.4,254.1 L360.5,253.9 Z" fill="#B3E0E0" stroke="#6fb4b8" stroke-width="0.55" stroke-linejoin="round"/>
<path d="M479.9,330.7 A90.2,90.2 0 0 1 480.6,362.7 L479.0,362.5 L479.2,361.9 L479.5,361.2 L479.4,360.6 L479.4,359.9 L479.8,359.3 L479.8,358.7 L480.0,358.0 L479.9,357.4 L480.0,356.7 L480.0,356.1 L479.8,355.4 L479.9,354.8 L480.0,354.1 L480.0,353.5 L480.1,352.8 L480.0,352.2 L480.4,351.6 L480.4,350.9 L480.0,350.3 L480.4,349.6 L480.1,349.0 L480.2,348.3 L480.0,347.7 L480.2,347.0 L480.2,346.4 L480.2,345.7 L480.2,345.1 L480.0,344.4 L480.0,343.8 L480.3,343.1 L480.2,342.5 L480.0,341.8 L480.0,341.2 L479.7,340.6 L479.8,339.9 L479.7,339.3 L479.9,338.6 L479.8,338.0 L479.4,337.3 L479.7,336.7 L479.4,336.0 L479.1,335.4 L479.2,334.8 L479.2,334.1 L478.8,333.5 L479.0,332.8 L478.5,332.3 L478.6,331.6 L478.3,331.0 Z" fill="#a8a8a8" stroke="#707070" stroke-width="0.55" stroke-linejoin="round"/>
<path d="M468.5,395.6 A90.2,90.2 0 0 1 449.8,417.4 L448.4,415.7 L449.0,415.5 L449.4,414.9 L450.2,414.8 L450.4,414.2 L450.7,413.6 L451.6,413.5 L451.9,413.0 L452.4,412.6 L452.9,412.2 L453.2,411.5 L453.9,411.3 L454.2,410.7 L454.8,410.4 L454.9,409.6 L455.4,409.2 L455.9,408.8 L456.5,408.5 L458.3,409.2 L458.8,408.8 L459.2,408.3 L459.6,407.8 L460.1,407.3 L460.5,406.8 L460.9,406.3 L461.3,405.8 L461.7,405.3 L462.1,404.7 L462.6,404.2 L463.0,403.7 L463.4,403.2 L463.7,402.7 L464.1,402.1 L464.5,401.6 L464.9,401.1 L465.3,400.5 L465.7,400.0 L466.0,399.5 L466.4,398.9 L466.8,398.4 L467.1,397.8 L467.5,397.3 L467.8,396.7 L468.2,396.2 L468.5,395.6 Z" fill="#a8a8a8" stroke="#707070" stroke-width="0.55" stroke-linejoin="round"/>
<path d="M312.3,391.7 A90.2,90.2 0 0 1 304.9,373.7 L304.9,373.7 L305.1,374.3 L305.3,375.0 L305.7,375.6 L306.7,376.0 L307.3,376.4 L308.0,376.9 L308.4,377.5 L309.3,377.8 L309.4,378.5 L309.4,379.2 L309.2,379.9 L309.3,380.6 L308.8,381.5 L308.5,382.4 L308.2,383.2 L308.5,383.8 L308.8,384.4 L309.0,385.0 L309.3,385.6 L309.6,386.3 L309.9,386.9 L310.2,387.5 L310.4,388.1 L310.7,388.7 L311.0,389.3 L311.3,389.9 L311.7,390.5 L312.0,391.1 L312.3,391.7 Z" fill="#a8a8a8" stroke="#707070" stroke-width="0.55" stroke-linejoin="round"/>
<path d="M307.9,314.8 A90.2,90.2 0 0 1 314.0,302.5 L314.0,302.5 L313.7,303.1 L313.3,303.7 L313.0,304.3 L312.7,304.9 L312.3,305.5 L312.0,306.1 L311.7,306.7 L313.2,308.3 L312.7,308.7 L312.7,309.5 L312.4,310.1 L311.9,310.6 L311.5,311.1 L311.4,311.9 L311.0,312.4 L310.6,312.9 L310.4,313.6 L310.2,314.2 L309.8,314.8 L310.1,315.6 Z" fill="#a8a8a8" stroke="#707070" stroke-width="0.55" stroke-linejoin="round"/>
<path d="M363.5,262.9 A90.2,90.2 0 0 1 389.2,258.4 L389.2,260.3 L388.6,260.3 L387.9,260.5 L387.3,260.5 L386.6,260.9 L385.9,260.3 L385.3,260.3 L384.7,260.8 L384.0,260.8 L383.3,260.7 L382.7,261.1 L382.0,260.7 L381.4,260.8 L380.8,261.3 L380.1,261.2 L379.4,261.2 L378.8,261.3 L378.1,261.2 L377.5,261.7 L376.8,261.5 L376.2,261.8 L375.6,262.1 L374.8,261.8 L374.2,261.8 L373.6,262.5 L373.0,262.6 L372.4,262.8 L371.7,263.0 L371.1,262.9 L370.4,262.9 L369.8,263.4 L369.2,263.5 L368.5,263.6 L367.9,263.8 L367.2,263.6 L366.5,263.7 L366.0,264.3 L365.3,264.2 L364.8,264.8 L364.0,264.5 Z" fill="#a8a8a8" stroke="#707070" stroke-width="0.55" stroke-linejoin="round"/>
<path d="M391.6,270.6 A78.0,78.0 0 0 1 426.6,278.9 L426.6,278.9 L426.1,278.7 L425.6,278.4 L425.1,278.2 L424.6,277.9 L424.1,277.7 L423.5,277.5 L423.0,277.2 L422.5,277.0 L422.0,276.8 L421.5,276.6 L420.9,276.3 L420.4,276.1 L419.9,275.9 L419.3,275.7 L418.8,275.5 L418.3,275.3 L417.7,275.1 L417.2,274.9 L416.7,274.8 L416.1,274.6 L415.6,274.4 L415.1,274.2 L414.5,274.1 L414.0,273.9 L413.4,273.7 L412.9,273.6 L412.3,273.4 L411.8,273.3 L411.2,273.1 L410.7,273.0 L410.1,272.8 L409.6,272.7 L409.0,272.6 L408.5,272.5 L407.9,272.3 L407.1,273.5 L406.5,273.6 L405.9,273.8 L405.4,273.6 L404.8,273.7 L404.2,273.7 L403.7,273.7 L403.1,273.9 L402.5,273.7 L402.0,273.6 L401.5,273.6 L400.9,273.8 L400.3,273.8 L399.7,273.9 L399.2,273.9 L398.6,274.3 L398.1,274.2 L397.5,274.6 L397.0,273.7 L396.5,273.9 L395.9,274.7 L395.3,275.0 L394.8,275.0 L394.3,274.2 L393.7,275.3 L393.2,275.4 L392.6,275.0 L392.1,275.7 L391.6,275.5 Z" fill="#F0AE98" stroke="#cf7a62" stroke-width="0.55" stroke-linejoin="round"/>
<path d="M428.4,279.9 A78.0,78.0 0 0 1 454.9,303.1 L454.9,303.1 L454.6,302.6 L454.2,302.2 L453.9,301.7 L453.5,301.2 L453.2,300.8 L452.8,300.3 L451.2,300.9 L450.9,300.4 L450.8,299.8 L450.4,299.4 L449.8,299.2 L449.6,298.6 L449.3,298.1 L448.9,297.7 L448.4,297.4 L448.0,297.0 L447.6,296.6 L447.4,296.0 L446.8,295.8 L446.6,295.3 L446.1,294.9 L445.3,294.9 L444.7,294.8 L444.3,294.4 L443.3,294.6 L443.1,294.0 L442.9,293.4 L443.2,292.3 L442.9,291.8 L442.5,291.4 L442.2,290.9 L441.7,290.6 L441.3,290.1 L440.6,290.1 L440.4,289.5 L439.8,289.3 L439.4,289.0 L439.1,288.4 L438.5,288.3 L438.2,287.8 L437.8,287.4 L437.2,287.2 L436.8,286.9 L436.2,286.6 L436.0,286.0 L435.4,285.9 L434.9,285.5 L434.4,285.4 L434.1,284.8 L433.6,284.5 L433.1,284.2 L432.7,283.8 L432.2,283.5 L431.8,283.2 L431.1,283.2 L431.4,281.6 L430.9,281.3 L430.4,281.0 L429.9,280.7 L429.4,280.4 L428.9,280.1 L428.4,279.9 Z" fill="#F0AE98" stroke="#cf7a62" stroke-width="0.55" stroke-linejoin="round"/>
<path d="M468.0,333.1 A78.0,78.0 0 0 1 468.6,360.8 L466.4,360.5 L466.4,359.9 L466.3,359.3 L466.8,358.9 L466.7,358.3 L466.8,357.7 L466.9,357.2 L466.6,356.6 L467.1,356.1 L466.9,355.5 L466.9,355.0 L467.4,354.5 L466.9,353.9 L467.1,353.3 L467.5,352.8 L467.3,352.2 L467.5,351.7 L467.6,351.1 L467.0,350.6 L467.6,350.0 L467.4,349.5 L467.6,348.9 L467.6,348.4 L467.3,347.8 L467.1,347.3 L467.4,346.7 L467.2,346.1 L467.6,345.6 L467.1,345.0 L467.0,344.5 L467.1,343.9 L467.2,343.4 L466.8,342.9 L467.0,342.3 L466.8,341.7 L466.7,341.2 L466.8,340.6 L466.6,340.1 L466.7,339.5 L466.6,339.0 L467.0,338.4 L466.6,337.9 L466.5,337.3 L466.7,336.7 L466.3,336.2 L465.9,335.7 L466.1,335.2 L466.2,334.6 L465.7,334.1 L466.1,333.5 Z" fill="#F0AE98" stroke="#cf7a62" stroke-width="0.55" stroke-linejoin="round"/>
<path d="M458.1,389.2 A78.0,78.0 0 0 1 441.9,408.1 L439.5,405.3 L440.1,405.1 L440.3,404.5 L440.0,403.4 L440.4,403.0 L440.8,402.7 L440.7,401.8 L441.5,401.8 L441.1,400.7 L442.2,401.0 L441.7,399.8 L442.2,399.6 L443.3,399.9 L444.4,400.2 L444.8,399.8 L445.4,399.7 L448.5,401.9 L448.9,401.5 L449.3,401.0 L449.7,400.6 L450.0,400.2 L450.4,399.8 L450.8,399.3 L451.2,398.9 L451.5,398.5 L451.9,398.0 L452.2,397.6 L452.6,397.2 L452.9,396.7 L453.3,396.3 L453.6,395.8 L454.0,395.4 L454.3,394.9 L454.7,394.4 L455.0,394.0 L455.3,393.5 L455.6,393.1 L456.0,392.6 L456.3,392.1 L456.6,391.6 L456.9,391.2 L457.2,390.7 L457.5,390.2 L457.8,389.7 L458.1,389.2 Z" fill="#F0AE98" stroke="#cf7a62" stroke-width="0.55" stroke-linejoin="round"/>
<path d="M440.4,409.4 A78.0,78.0 0 0 1 420.4,421.1 L419.7,419.4 L420.3,419.2 L420.7,418.8 L421.2,418.5 L421.9,418.7 L422.3,418.2 L422.9,418.2 L423.3,417.8 L424.0,417.9 L424.5,417.5 L425.0,417.2 L425.3,416.7 L426.0,416.8 L426.4,416.3 L426.9,416.1 L427.5,416.0 L428.0,415.8 L428.4,415.2 L428.8,414.9 L429.4,414.7 L430.0,414.7 L431.3,415.7 L431.8,415.4 L432.3,415.1 L432.8,414.8 L433.3,414.5 L433.8,414.2 L434.3,413.9 L434.7,413.5 L435.2,413.2 L435.7,412.9 L436.2,412.6 L436.7,412.2 L437.1,411.9 L437.6,411.6 L438.1,411.2 L438.5,410.9 L439.0,410.5 L439.5,410.2 L439.9,409.8 L440.4,409.4 Z" fill="#F0AE98" stroke="#cf7a62" stroke-width="0.55" stroke-linejoin="round"/>
<path d="M418.5,421.8 A78.0,78.0 0 0 1 397.7,426.4 L397.7,426.4 L398.2,426.3 L398.8,426.3 L399.4,426.2 L400.0,426.1 L400.5,426.1 L401.1,426.0 L401.7,425.9 L402.3,425.9 L402.8,425.8 L403.4,425.7 L404.0,425.6 L404.5,425.5 L405.1,425.4 L405.7,425.3 L406.2,425.2 L406.8,425.1 L407.4,425.0 L407.9,424.9 L408.1,422.8 L408.7,422.9 L409.2,422.8 L409.7,422.5 L410.3,422.2 L410.9,422.5 L411.4,422.1 L412.0,422.1 L412.5,421.8 L413.1,421.8 L413.5,421.5 L414.0,421.1 L414.7,421.3 L415.2,421.2 L415.7,420.8 L416.3,420.9 L416.7,420.3 L417.3,420.3 L417.8,420.0 Z" fill="#F0AE98" stroke="#cf7a62" stroke-width="0.55" stroke-linejoin="round"/>
<path d="M395.6,426.5 A78.0,78.0 0 0 1 375.1,424.9 L375.4,423.8 L376.0,423.6 L376.5,423.8 L377.1,424.0 L377.6,424.2 L378.2,424.2 L378.8,424.0 L379.3,424.2 L379.8,424.5 L380.4,424.3 L381.0,424.5 L381.5,424.6 L382.1,424.7 L382.6,425.0 L383.2,425.0 L383.8,424.9 L384.3,424.9 L384.9,425.2 L385.4,425.0 L386.0,425.0 L386.6,425.2 L387.1,425.0 L387.7,425.2 L388.2,425.3 L388.8,425.4 L389.4,425.2 L389.9,425.1 L390.5,425.1 L391.1,425.1 L391.6,425.2 L392.2,425.5 L392.7,425.2 L393.3,425.2 L393.9,425.2 L394.4,425.4 L395.0,425.1 L395.6,425.1 Z" fill="#F0AE98" stroke="#cf7a62" stroke-width="0.55" stroke-linejoin="round"/>
<path d="M373.2,424.4 A78.0,78.0 0 0 1 354.7,417.4 L355.3,416.2 L355.8,416.7 L356.4,416.6 L356.9,417.0 L357.4,417.2 L357.8,417.7 L358.4,417.8 L358.9,418.1 L359.4,418.3 L360.0,418.5 L360.6,418.6 L361.0,419.0 L361.6,419.1 L362.1,419.4 L362.6,419.7 L363.1,420.0 L363.7,420.0 L364.1,420.4 L364.7,420.5 L365.3,420.6 L365.8,420.8 L366.3,421.0 L366.9,421.0 L367.5,421.3 L367.9,421.6 L368.6,421.6 L369.0,422.0 L369.6,422.1 L370.1,422.3 L370.6,422.6 L371.2,422.6 L371.8,422.7 L372.3,423.0 L372.9,423.1 L373.4,423.3 Z" fill="#F0AE98" stroke="#cf7a62" stroke-width="0.55" stroke-linejoin="round"/>
<path d="M352.9,416.4 A78.0,78.0 0 0 1 337.2,404.6 L337.2,404.6 L337.6,405.0 L338.1,405.4 L338.5,405.8 L339.1,405.9 L339.9,406.0 L340.4,406.2 L341.1,406.4 L341.6,406.6 L342.2,406.7 L342.6,407.2 L343.2,407.4 L343.9,407.4 L344.1,408.0 L344.7,408.2 L345.3,408.3 L345.3,409.2 L345.8,409.5 L346.0,410.2 L346.5,410.5 L346.9,411.0 L347.2,411.4 L347.5,412.1 L347.8,412.7 L348.0,413.3 L348.5,413.6 L349.0,414.0 L349.5,414.3 L350.0,414.6 L350.5,414.9 L350.9,415.2 L351.4,415.5 L351.9,415.8 L352.4,416.1 L352.9,416.4 Z" fill="#F0AE98" stroke="#cf7a62" stroke-width="0.55" stroke-linejoin="round"/>
<path d="M323.0,385.8 A78.0,78.0 0 0 1 316.6,370.3 L316.6,370.3 L316.8,370.9 L317.0,371.4 L317.4,371.9 L318.8,372.1 L319.3,372.5 L320.6,372.6 L321.1,373.0 L322.2,373.3 L322.0,373.9 L322.9,374.2 L323.2,374.6 L322.5,375.5 L322.1,376.2 L321.8,377.0 L321.5,377.7 L321.1,378.5 L320.5,379.3 L320.2,380.1 L320.4,380.6 L320.7,381.2 L320.9,381.7 L321.2,382.2 L321.4,382.7 L321.7,383.3 L321.9,383.8 L322.2,384.3 L322.5,384.8 L322.7,385.3 L323.0,385.8 Z" fill="#F0AE98" stroke="#cf7a62" stroke-width="0.55" stroke-linejoin="round"/>
<path d="M316.1,368.3 A78.0,78.0 0 0 1 313.7,352.9 L315.4,352.8 L315.3,353.4 L315.4,353.9 L315.3,354.5 L315.6,355.1 L315.5,355.6 L315.6,356.2 L315.7,356.8 L315.6,357.3 L314.1,358.1 L314.2,358.7 L314.3,359.2 L314.4,359.8 L314.4,360.4 L314.5,361.0 L314.6,361.5 L314.7,362.1 L314.8,362.7 L314.9,363.2 L315.0,363.8 L315.2,364.4 L315.3,365.0 L315.4,365.5 L315.5,366.1 L315.7,366.6 L315.8,367.2 L315.9,367.8 L316.1,368.3 Z" fill="#F0AE98" stroke="#cf7a62" stroke-width="0.55" stroke-linejoin="round"/>
<path d="M313.6,350.8 A78.0,78.0 0 0 1 314.6,335.9 L317.0,336.3 L316.5,336.8 L316.8,337.4 L316.3,337.9 L316.3,338.5 L316.4,339.1 L316.2,339.6 L316.0,340.2 L316.2,340.7 L316.1,341.3 L315.9,341.8 L315.7,342.4 L316.2,343.0 L315.9,343.5 L316.1,344.1 L315.9,344.6 L315.7,345.2 L315.5,345.7 L315.9,346.3 L315.8,346.9 L315.8,347.4 L315.8,348.0 L315.6,348.5 L315.9,349.1 L315.6,349.7 L315.7,350.2 L316.1,350.8 Z" fill="#F0AE98" stroke="#cf7a62" stroke-width="0.55" stroke-linejoin="round"/>
<path d="M314.9,333.9 A78.0,78.0 0 0 1 318.5,321.3 L320.4,322.0 L320.3,322.5 L319.8,322.9 L320.1,323.6 L319.6,324.1 L319.5,324.6 L319.5,325.2 L319.1,325.7 L319.1,326.2 L318.8,326.7 L318.6,327.3 L318.6,327.8 L318.3,328.3 L318.3,328.9 L318.3,329.5 L317.9,329.9 L317.5,330.4 L317.9,331.1 L317.7,331.6 L317.4,332.1 L317.0,332.6 L317.0,333.2 L317.1,333.8 L317.0,334.3 Z" fill="#F0AE98" stroke="#cf7a62" stroke-width="0.55" stroke-linejoin="round"/>
<path d="M319.2,319.3 A78.0,78.0 0 0 1 324.5,308.7 L326.7,310.0 L326.1,310.4 L326.1,311.0 L325.7,311.4 L325.5,312.0 L325.2,312.5 L325.3,313.2 L325.1,313.7 L324.9,314.3 L324.2,314.6 L324.0,315.1 L323.7,315.6 L323.8,316.3 L323.6,316.8 L322.7,317.0 L323.0,317.8 L322.9,318.4 L322.5,318.8 L322.4,319.4 L321.8,319.7 L321.8,320.4 Z" fill="#F0AE98" stroke="#cf7a62" stroke-width="0.55" stroke-linejoin="round"/>
<path d="M325.6,307.0 A78.0,78.0 0 0 1 332.3,297.8 L334.0,299.3 L333.7,299.7 L333.2,300.1 L332.6,300.2 L332.5,300.9 L332.0,301.3 L332.0,301.9 L331.3,302.1 L331.0,302.5 L330.8,303.1 L330.1,303.3 L330.0,303.9 L329.5,304.2 L329.2,304.7 L329.2,305.4 L328.7,305.7 L328.7,306.4 L328.2,306.7 L328.0,307.2 L327.7,307.7 L327.0,307.9 Z" fill="#F0AE98" stroke="#cf7a62" stroke-width="0.55" stroke-linejoin="round"/>
<path d="M333.7,296.3 A78.0,78.0 0 0 1 339.8,290.2 L341.3,291.9 L340.9,292.3 L340.3,292.5 L339.9,292.9 L339.3,293.0 L339.0,293.6 L338.7,294.1 L338.3,294.5 L337.7,294.6 L337.6,295.3 L337.2,295.7 L336.8,296.1 L336.1,296.2 L335.9,296.8 L335.7,297.4 L335.3,297.7 Z" fill="#F0AE98" stroke="#cf7a62" stroke-width="0.55" stroke-linejoin="round"/>
<path d="M341.3,288.9 A78.0,78.0 0 0 1 348.7,283.4 L350.0,285.4 L349.4,285.4 L349.0,285.9 L348.6,286.2 L348.2,286.6 L347.8,287.1 L347.0,287.0 L346.5,287.2 L346.1,287.7 L345.7,288.0 L345.4,288.5 L345.1,289.0 L344.5,289.2 L344.0,289.5 L343.8,290.1 L343.0,290.0 L342.9,290.7 Z" fill="#F0AE98" stroke="#cf7a62" stroke-width="0.55" stroke-linejoin="round"/>
<path d="M350.4,282.3 A78.0,78.0 0 0 1 356.6,278.9 L357.3,280.3 L356.9,280.8 L356.3,280.8 L355.7,280.9 L355.2,281.3 L354.9,281.9 L354.3,282.1 L353.7,282.1 L353.3,282.6 L352.8,282.9 L352.4,283.2 L351.8,283.3 L351.3,283.7 Z" fill="#F0AE98" stroke="#cf7a62" stroke-width="0.55" stroke-linejoin="round"/>
<path d="M358.4,278.0 A78.0,78.0 0 0 1 365.3,275.1 L366.0,277.1 L365.6,277.6 L365.1,277.8 L364.5,277.9 L363.9,277.9 L363.4,278.0 L362.8,278.2 L362.4,278.5 L361.9,278.9 L361.3,278.8 L360.8,279.2 L360.4,279.7 L359.8,279.7 L359.4,280.2 Z" fill="#F0AE98" stroke="#cf7a62" stroke-width="0.55" stroke-linejoin="round"/>
<path d="M367.3,274.5 A78.0,78.0 0 0 1 389.5,270.6 L389.5,270.6 L388.9,270.6 L388.3,270.7 L387.8,270.7 L387.2,270.7 L386.6,270.8 L386.0,270.8 L385.4,270.8 L384.9,270.9 L384.3,270.9 L383.7,271.0 L383.1,271.1 L382.6,271.1 L382.0,271.2 L381.4,271.3 L380.8,271.3 L380.2,271.4 L379.7,271.5 L379.1,271.6 L378.5,271.7 L378.0,271.8 L377.4,271.9 L376.8,272.0 L376.2,272.1 L375.7,272.2 L375.1,272.4 L374.5,272.5 L374.0,272.6 L374.3,276.5 L373.7,276.6 L373.5,277.7 L372.9,277.6 L372.4,278.0 L371.7,277.4 L371.2,277.6 L370.7,277.9 L370.4,278.7 L369.5,277.9 L369.3,279.0 L368.9,279.4 Z" fill="#F0AE98" stroke="#cf7a62" stroke-width="0.55" stroke-linejoin="round"/>
<path d="M447.7,382.9 A65.8,65.8 0 0 1 434.1,398.8 L432.2,396.6 L432.1,395.8 L432.1,395.1 L432.5,394.8 L432.1,393.8 L432.2,393.2 L432.3,392.7 L432.8,392.6 L432.7,391.9 L433.1,391.6 L433.6,391.5 L434.0,391.3 L435.0,391.7 L435.3,391.4 L436.1,391.5 L436.7,391.5 L439.6,393.5 L439.9,393.2 L440.3,392.8 L440.6,392.5 L440.9,392.1 L441.2,391.8 L441.5,391.4 L441.8,391.0 L442.1,390.7 L442.4,390.3 L442.7,389.9 L443.0,389.6 L443.3,389.2 L443.6,388.8 L443.9,388.4 L444.2,388.0 L444.5,387.7 L444.8,387.3 L445.1,386.9 L445.3,386.5 L445.6,386.1 L445.9,385.7 L446.2,385.3 L446.4,384.9 L446.7,384.5 L446.9,384.1 L447.2,383.7 L447.5,383.3 L447.7,382.9 Z" fill="#B8CAE6" stroke="#8aa3cb" stroke-width="0.55" stroke-linejoin="round"/>
<path d="M376.0,412.5 A65.8,65.8 0 0 1 360.5,406.6 L360.5,406.6 L360.9,406.8 L361.4,407.1 L361.8,407.3 L362.2,407.5 L362.7,407.7 L363.1,407.9 L363.7,407.9 L364.5,407.4 L365.0,407.3 L365.6,407.2 L366.0,407.5 L366.3,408.0 L366.5,408.7 L366.7,409.5 L367.2,409.7 L367.6,409.9 L368.1,410.1 L368.5,410.2 L369.0,410.4 L369.5,410.6 L369.9,410.7 L370.4,410.9 L370.8,411.1 L371.3,411.2 L371.8,411.4 L372.2,411.5 L372.7,411.6 L373.2,411.8 L373.7,411.9 L374.1,412.1 L374.6,412.2 L375.1,412.3 L375.6,412.4 L376.0,412.5 Z" fill="#B8CAE6" stroke="#8aa3cb" stroke-width="0.55" stroke-linejoin="round"/>
<path d="M359.0,405.8 A65.8,65.8 0 0 1 345.7,395.8 L345.7,395.8 L346.1,396.2 L346.4,396.5 L346.8,396.8 L347.1,397.2 L347.5,397.5 L347.9,397.8 L348.2,398.1 L348.6,398.5 L349.0,398.8 L349.4,399.1 L349.7,399.4 L350.1,399.7 L350.5,400.0 L350.9,400.3 L351.3,400.6 L351.6,400.9 L352.0,401.2 L352.4,401.5 L352.8,401.8 L353.2,402.1 L353.6,402.4 L354.0,402.6 L354.4,402.9 L355.0,403.0 L355.8,402.6 L356.3,402.7 L356.9,402.6 L357.3,402.9 L357.6,403.4 L357.6,404.3 L357.7,405.0 L358.1,405.3 L358.6,405.5 L359.0,405.8 Z" fill="#B8CAE6" stroke="#8aa3cb" stroke-width="0.55" stroke-linejoin="round"/>
<path d="M371.1,286.1 A65.8,65.8 0 0 1 389.8,282.8 L389.9,284.3 L389.4,284.6 L388.9,284.4 L388.4,284.4 L387.9,284.2 L387.5,284.5 L387.0,284.3 L386.5,284.7 L386.1,284.7 L385.5,284.4 L385.1,284.4 L384.6,284.6 L384.1,284.6 L383.7,284.9 L383.2,284.7 L382.7,285.0 L382.2,284.8 L381.8,285.0 L381.3,285.1 L380.8,285.2 L380.4,285.3 L379.9,285.5 L379.4,285.5 L378.9,285.6 L378.5,285.8 L378.0,285.6 L377.5,285.8 L377.0,285.8 L376.6,286.2 L376.1,286.0 L375.7,286.4 L375.2,286.4 L374.8,286.6 L374.2,286.4 L373.8,286.8 L373.3,286.7 L372.8,286.9 L372.5,287.4 L371.9,287.2 L371.5,287.5 Z" fill="#B8CAE6" stroke="#8aa3cb" stroke-width="0.55" stroke-linejoin="round"/>
<path d="M391.6,295.0 A53.6,53.6 0 0 1 415.7,300.7 L415.7,300.7 L415.3,300.6 L415.0,300.4 L414.6,300.2 L414.2,300.0 L413.9,299.9 L413.5,299.7 L413.2,299.6 L412.8,299.4 L412.5,299.2 L412.1,299.1 L411.7,298.9 L411.4,298.8 L411.0,298.7 L410.7,298.5 L410.3,298.4 L409.9,298.2 L409.6,298.1 L409.2,298.0 L408.8,297.9 L408.4,297.7 L408.1,297.6 L407.7,297.5 L407.3,297.4 L407.0,297.3 L406.6,297.2 L406.2,297.0 L405.8,296.9 L405.5,296.8 L405.1,296.7 L404.7,296.6 L404.3,296.5 L403.9,296.5 L403.6,296.4 L403.2,296.3 L402.8,296.2 L402.4,296.1 L402.0,296.0 L401.6,296.0 L400.8,298.6 L400.4,298.4 L400.0,298.5 L399.6,298.6 L399.2,298.8 L398.9,298.5 L398.5,298.7 L398.2,298.3 L397.8,298.7 L397.4,298.5 L397.1,297.9 L396.7,298.2 L396.3,298.2 L396.0,297.8 L395.6,298.0 L395.3,297.8 L394.9,298.2 L394.5,298.4 L394.1,298.2 L393.7,298.4 L393.4,298.4 L393.0,298.1 L392.7,297.9 L392.3,298.1 L391.9,297.7 L391.6,298.4 Z" fill="#C3BFE4" stroke="#9a93ca" stroke-width="0.55" stroke-linejoin="round"/>
<path d="M416.9,301.4 A53.6,53.6 0 0 1 435.1,317.3 L433.9,318.2 L433.8,317.8 L433.4,317.6 L433.3,317.1 L433.0,316.9 L432.7,316.7 L432.7,316.2 L432.2,316.1 L431.9,315.8 L431.9,315.3 L431.7,315.0 L431.2,314.9 L431.1,314.5 L430.7,314.4 L430.5,314.0 L430.3,313.7 L430.1,313.4 L429.8,313.1 L429.5,312.9 L429.3,312.6 L429.0,312.3 L428.8,311.9 L428.5,311.7 L428.1,311.6 L428.0,311.1 L427.7,310.9 L427.4,310.6 L427.0,310.5 L426.8,310.2 L426.6,309.8 L426.4,309.5 L425.9,309.4 L425.6,309.2 L425.5,308.8 L425.0,308.7 L424.9,308.3 L424.4,308.2 L424.3,307.7 L423.9,307.7 L423.5,307.5 L423.3,307.2 L422.9,307.1 L422.6,306.8 L422.5,306.3 L422.1,306.2 L421.9,305.9 L421.5,305.7 L421.1,305.6 L420.8,305.5 L420.5,305.2 L420.1,305.0 L419.8,304.9 L419.6,304.4 L419.1,304.4 L418.8,304.2 L418.6,303.8 L418.2,303.8 L417.8,303.6 L417.5,303.4 L417.2,303.1 L416.9,302.9 L416.5,302.9 L416.2,302.6 Z" fill="#C3BFE4" stroke="#9a93ca" stroke-width="0.55" stroke-linejoin="round"/>
<path d="M435.9,318.5 A53.6,53.6 0 0 1 443.8,336.6 L441.4,337.1 L441.2,336.8 L441.5,336.3 L440.7,336.1 L440.8,335.7 L440.7,335.3 L440.8,334.9 L440.9,334.5 L440.7,334.2 L440.4,333.9 L440.5,333.4 L440.6,333.0 L440.0,332.8 L439.7,332.5 L439.8,332.1 L439.4,331.8 L439.8,331.3 L439.6,330.9 L439.5,330.6 L439.3,330.2 L439.4,329.8 L439.3,329.4 L439.2,329.0 L439.1,328.7 L439.0,328.3 L438.6,328.1 L438.5,327.7 L438.8,327.1 L438.5,326.8 L438.1,326.6 L437.9,326.3 L438.1,325.7 L437.8,325.5 L437.5,325.2 L437.4,324.8 L436.9,324.7 L436.8,324.3 L436.6,323.9 L436.5,323.6 L436.4,323.2 L436.5,322.7 L436.2,322.4 L436.0,322.1 L435.9,321.7 L435.2,321.7 L435.1,321.3 L434.9,321.0 L435.0,320.4 L434.8,320.1 L434.4,319.9 L434.3,319.5 Z" fill="#C3BFE4" stroke="#9a93ca" stroke-width="0.55" stroke-linejoin="round"/>
<path d="M444.1,337.9 A53.6,53.6 0 0 1 444.5,357.0 L441.9,356.6 L441.6,356.2 L441.9,355.8 L442.0,355.5 L442.0,355.1 L441.8,354.7 L441.9,354.3 L441.8,354.0 L441.6,353.6 L441.5,353.2 L442.1,352.9 L441.9,352.5 L441.8,352.1 L441.7,351.7 L442.0,351.4 L441.9,351.0 L442.4,350.7 L442.0,350.3 L442.5,349.9 L442.5,349.6 L441.8,349.2 L442.3,348.8 L442.2,348.4 L441.9,348.1 L442.2,347.7 L441.9,347.3 L442.0,347.0 L442.3,346.6 L442.1,346.2 L441.8,345.9 L442.3,345.5 L442.4,345.1 L442.3,344.7 L441.9,344.4 L441.8,344.0 L442.2,343.6 L442.0,343.3 L442.0,342.9 L441.9,342.5 L441.8,342.2 L441.7,341.8 L441.4,341.5 L441.6,341.1 L441.5,340.7 L441.5,340.3 L441.2,340.0 L441.5,339.6 L441.1,339.3 L441.5,338.8 L441.0,338.6 Z" fill="#C3BFE4" stroke="#9a93ca" stroke-width="0.55" stroke-linejoin="round"/>
<path d="M437.3,376.5 A53.6,53.6 0 0 1 426.2,389.5 L424.1,387.0 L424.0,386.4 L423.6,385.3 L424.2,385.5 L423.3,384.0 L424.0,384.3 L423.6,383.3 L423.6,382.7 L424.0,382.7 L424.3,382.6 L425.3,383.0 L425.9,383.2 L426.1,382.8 L426.8,383.1 L427.0,382.7 L428.2,383.3 L430.7,385.2 L431.0,384.9 L431.2,384.6 L431.5,384.3 L431.7,384.1 L432.0,383.8 L432.3,383.5 L432.5,383.2 L432.8,382.9 L433.0,382.6 L433.3,382.3 L433.5,382.0 L433.7,381.7 L434.0,381.3 L434.2,381.0 L434.5,380.7 L434.7,380.4 L434.9,380.1 L435.1,379.8 L435.4,379.5 L435.6,379.1 L435.8,378.8 L436.0,378.5 L436.2,378.2 L436.5,377.9 L436.7,377.5 L436.9,377.2 L437.1,376.9 L437.3,376.5 Z" fill="#C3BFE4" stroke="#9a93ca" stroke-width="0.55" stroke-linejoin="round"/>
<path d="M410.1,398.9 A53.6,53.6 0 0 1 395.8,402.0 L395.8,402.0 L396.1,402.0 L396.5,402.0 L396.9,401.9 L397.0,399.1 L397.4,398.9 L397.8,398.8 L398.2,399.0 L398.6,399.3 L398.9,398.7 L399.3,399.0 L399.7,398.8 L400.0,398.5 L400.4,398.5 L400.9,399.1 L401.1,398.4 L401.5,398.4 L401.9,398.7 L402.2,398.3 L402.6,398.1 L403.0,398.4 L403.3,397.8 L403.7,397.8 L404.2,398.4 L404.5,398.1 L404.8,397.7 L405.3,398.0 L405.7,397.9 L406.0,397.8 L406.3,397.6 L406.7,397.4 L407.0,397.2 L407.4,397.2 L407.7,396.8 L408.0,396.7 L408.4,396.7 L408.7,396.2 L409.2,396.6 Z" fill="#C3BFE4" stroke="#9a93ca" stroke-width="0.55" stroke-linejoin="round"/>
<path d="M394.4,402.1 A53.6,53.6 0 0 1 380.3,401.0 L380.3,401.0 L380.7,401.1 L381.0,401.2 L381.4,401.2 L381.8,401.3 L382.2,401.4 L382.6,401.4 L383.0,401.5 L383.4,401.6 L383.8,401.6 L384.1,401.7 L384.5,401.7 L384.9,401.8 L385.3,401.8 L385.7,401.9 L386.1,401.9 L386.5,402.0 L386.9,402.0 L387.3,402.0 L387.7,402.1 L388.1,402.1 L388.5,402.1 L388.8,402.1 L389.2,402.2 L389.6,402.2 L390.0,402.2 L390.5,400.4 L390.8,400.6 L391.2,400.2 L391.6,400.2 L392.0,400.5 L392.4,400.6 L392.7,400.2 L393.1,400.3 L393.5,400.4 L393.9,400.3 L394.2,400.1 Z" fill="#C3BFE4" stroke="#9a93ca" stroke-width="0.55" stroke-linejoin="round"/>
<path d="M378.9,400.7 A53.6,53.6 0 0 1 366.2,395.9 L366.2,395.9 L366.8,395.6 L367.2,395.7 L367.7,395.6 L368.1,395.7 L368.6,395.6 L368.9,395.8 L369.3,395.9 L369.8,395.8 L370.2,395.8 L370.5,396.1 L371.1,395.8 L371.4,395.9 L371.7,396.3 L372.1,396.4 L372.3,396.8 L372.7,397.0 L372.9,397.5 L373.2,397.7 L373.6,397.7 L373.9,398.1 L374.1,398.6 L374.5,398.9 L374.8,399.1 L375.1,399.6 L375.4,399.7 L375.8,399.8 L376.2,400.0 L376.6,400.1 L377.0,400.2 L377.4,400.3 L377.7,400.4 L378.1,400.5 L378.5,400.6 L378.9,400.7 Z" fill="#C3BFE4" stroke="#9a93ca" stroke-width="0.55" stroke-linejoin="round"/>
<path d="M365.0,395.2 A53.6,53.6 0 0 1 354.2,387.1 L354.2,387.1 L354.5,387.3 L354.8,387.6 L355.1,387.9 L355.4,388.2 L355.7,388.4 L356.0,388.7 L356.3,389.0 L356.6,389.2 L356.9,389.5 L357.2,389.7 L357.5,390.0 L357.8,390.2 L358.1,390.5 L358.4,390.7 L358.7,391.0 L359.0,391.2 L359.4,391.5 L360.0,391.3 L360.5,391.3 L361.0,391.3 L361.3,391.4 L361.9,391.3 L362.3,391.4 L362.8,391.3 L363.1,391.6 L363.4,391.8 L363.8,391.9 L364.0,392.3 L364.0,393.0 L364.4,393.1 L364.5,393.8 L364.8,394.0 L364.9,394.6 L365.0,395.2 Z" fill="#C3BFE4" stroke="#9a93ca" stroke-width="0.55" stroke-linejoin="round"/>
<path d="M344.4,374.2 A53.6,53.6 0 0 1 340.1,363.5 L340.1,363.5 L340.2,363.9 L340.3,364.3 L342.5,364.0 L342.3,364.5 L342.6,364.8 L342.8,365.1 L342.5,365.6 L343.1,365.8 L343.3,366.2 L343.0,366.7 L343.6,366.8 L343.4,367.3 L343.7,367.6 L344.0,367.9 L343.7,368.5 L344.2,368.7 L344.1,369.1 L344.6,369.3 L344.5,369.8 L344.7,370.1 L343.0,371.3 L343.2,371.7 L343.4,372.1 L343.5,372.4 L343.7,372.8 L343.9,373.1 L344.1,373.5 L344.3,373.8 L344.4,374.2 Z" fill="#C3BFE4" stroke="#9a93ca" stroke-width="0.55" stroke-linejoin="round"/>
<path d="M339.7,362.2 A53.6,53.6 0 0 1 338.0,351.5 L341.2,351.4 L341.0,351.8 L341.0,352.1 L341.1,352.5 L341.4,352.9 L341.3,353.2 L340.6,353.7 L340.7,354.1 L341.4,354.4 L340.8,354.8 L341.6,355.1 L338.5,355.9 L338.5,356.3 L338.6,356.7 L338.6,357.1 L338.7,357.5 L338.8,357.9 L338.8,358.3 L338.9,358.7 L339.0,359.1 L339.1,359.4 L339.1,359.8 L339.2,360.2 L339.3,360.6 L339.4,361.0 L339.5,361.4 L339.6,361.8 L339.7,362.2 Z" fill="#C3BFE4" stroke="#9a93ca" stroke-width="0.55" stroke-linejoin="round"/>
<path d="M338.0,350.1 A53.6,53.6 0 0 1 338.7,339.9 L341.6,340.4 L341.3,340.7 L341.4,341.1 L341.7,341.5 L341.3,341.8 L341.0,342.2 L341.0,342.6 L341.7,343.0 L341.1,343.3 L341.2,343.7 L341.0,344.1 L340.9,344.4 L340.7,344.8 L340.6,345.2 L340.7,345.6 L341.3,346.0 L340.9,346.3 L341.4,346.7 L341.3,347.1 L341.3,347.5 L341.2,347.8 L341.0,348.2 L341.3,348.6 L341.2,348.9 L340.9,349.3 L341.1,349.7 L341.2,350.1 Z" fill="#C3BFE4" stroke="#9a93ca" stroke-width="0.55" stroke-linejoin="round"/>
<path d="M338.9,338.5 A53.6,53.6 0 0 1 341.4,329.8 L344.4,330.9 L344.3,331.3 L343.7,331.5 L343.5,331.8 L343.5,332.2 L343.9,332.7 L343.7,333.1 L343.3,333.3 L343.4,333.7 L342.8,333.9 L342.8,334.3 L343.2,334.8 L343.2,335.2 L343.1,335.6 L342.7,335.9 L342.4,336.2 L342.1,336.5 L342.3,336.9 L342.1,337.2 L342.4,337.7 L342.1,338.0 L341.9,338.3 L341.8,338.7 L342.3,339.2 Z" fill="#C3BFE4" stroke="#9a93ca" stroke-width="0.55" stroke-linejoin="round"/>
<path d="M341.9,328.5 A53.6,53.6 0 0 1 345.5,321.2 L347.8,322.6 L347.4,322.8 L347.0,323.0 L347.0,323.5 L347.2,324.0 L346.6,324.1 L346.9,324.7 L346.5,325.0 L346.5,325.4 L346.0,325.6 L346.1,326.1 L345.9,326.4 L345.2,326.5 L345.6,327.1 L345.1,327.3 L345.4,327.9 L345.1,328.2 L344.3,328.2 L344.8,328.9 L344.5,329.2 L344.4,329.5 Z" fill="#C3BFE4" stroke="#9a93ca" stroke-width="0.55" stroke-linejoin="round"/>
<path d="M374.9,297.7 A53.6,53.6 0 0 1 390.1,295.0 L390.2,297.7 L389.8,297.5 L389.4,297.5 L389.1,297.4 L388.7,297.5 L388.3,297.7 L387.9,297.5 L387.6,297.8 L387.2,297.5 L386.8,297.8 L386.4,298.0 L386.1,298.2 L385.7,298.2 L385.3,298.1 L384.9,297.8 L384.5,297.9 L384.2,298.4 L383.7,297.9 L383.4,298.0 L383.0,298.4 L382.6,298.2 L382.3,298.4 L382.0,298.8 L381.5,298.3 L381.2,299.1 L380.8,298.9 L380.3,298.5 L380.1,299.3 L379.7,299.1 L379.3,299.0 L378.9,298.9 L378.6,299.4 L378.2,299.3 L377.9,299.8 L377.5,299.5 L377.0,299.3 L376.7,299.6 L376.4,299.9 L375.9,299.7 L375.6,299.8 Z" fill="#C3BFE4" stroke="#9a93ca" stroke-width="0.55" stroke-linejoin="round"/>
<use href="#dark" transform="translate(391.55,348.6)"/>
<use href="#bands" transform="translate(391.55,348.6)"/>
<text x="392.75" y="245.30" font-size="3.4" font-weight="bold" fill="#222">Adult mBL</text>
<text x="392.75" y="257.50" font-size="3.4" font-weight="bold" fill="#222">Ped mBL</text>
<text x="392.75" y="269.70" font-size="3.4" font-weight="bold" fill="#222">all mBL</text>
<text x="392.75" y="281.90" font-size="3.4" font-weight="bold" fill="#222">DLBCL</text>
<text x="392.75" y="294.10" font-size="3.4" font-weight="bold" fill="#222">FL</text>
<text x="392.75" y="306.30" font-size="3.4" font-weight="bold" fill="#222">tFL</text>
<line x1="97.3" y1="348.2" x2="23.3" y2="348.2" stroke="#a8a8a8" stroke-width="0.7"/>
<text x="136.80" y="355.10" font-size="9.75" font-weight="bold" text-anchor="middle" fill="#000" >Gain/Amp</text>
<text x="393.55" y="343.40" font-size="9.6" font-weight="bold" text-anchor="middle" fill="#000" >Loss/</text>
<text x="393.55" y="355.20" font-size="9.9" font-weight="bold" text-anchor="middle" fill="#000" >Homozygous</text>
<text x="393.55" y="366.80" font-size="9.6" font-weight="bold" text-anchor="middle" fill="#000" >Loss</text>
<rect x="0.8" y="0.6" width="518.4" height="477.6" fill="none" stroke="#000" stroke-width="1.7"/>
</svg></body></html>
